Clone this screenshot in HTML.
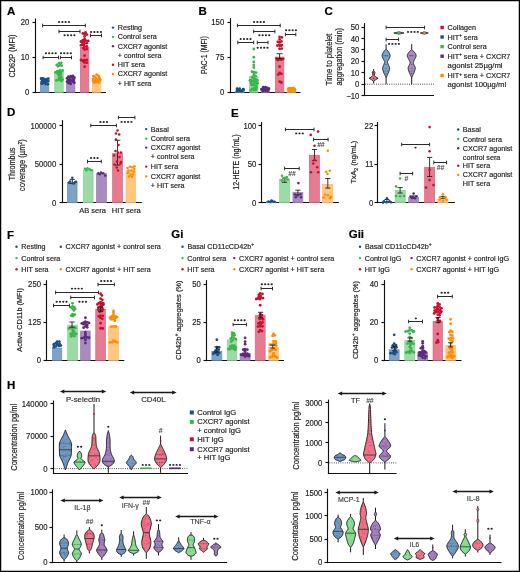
<!DOCTYPE html>
<html><head><meta charset="utf-8"><style>
html,body{margin:0;padding:0;background:#fff;width:520px;height:572px;overflow:hidden}
text{font-family:"Liberation Sans", sans-serif}
svg{-webkit-font-smoothing:antialiased;will-change:transform}
</style></head><body>
<svg width="520" height="572" viewBox="0 0 520 572" style="display:block;font-family:'Liberation Sans', sans-serif">
<rect x="0" y="0" width="520" height="572" fill="#fff"/>
<text x="7.00" y="15.23" font-size="11.5" text-anchor="start" font-weight="bold" fill="#000" stroke="#000" stroke-width="0.18" >A</text>
<line x1="35.50" y1="18.50" x2="35.50" y2="93.08" stroke="#111" stroke-width="1.15" />
<line x1="34.92" y1="92.50" x2="106.00" y2="92.50" stroke="#111" stroke-width="1.15" />
<line x1="32.50" y1="22.50" x2="35.50" y2="22.50" stroke="#111" stroke-width="1.15" />
<text x="29.30" y="25.31" font-size="8.6" text-anchor="end" font-weight="normal" fill="#231f20" stroke="#231f20" stroke-width="0.18" textLength="8.61" lengthAdjust="spacingAndGlyphs" >20</text>
<line x1="32.50" y1="57.50" x2="35.50" y2="57.50" stroke="#111" stroke-width="1.15" />
<text x="29.30" y="60.31" font-size="8.6" text-anchor="end" font-weight="normal" fill="#231f20" stroke="#231f20" stroke-width="0.18" textLength="8.61" lengthAdjust="spacingAndGlyphs" >10</text>
<line x1="32.50" y1="92.50" x2="35.50" y2="92.50" stroke="#111" stroke-width="1.15" />
<text x="29.30" y="95.31" font-size="8.6" text-anchor="end" font-weight="normal" fill="#231f20" stroke="#231f20" stroke-width="0.18" textLength="4.30" lengthAdjust="spacingAndGlyphs" >0</text>
<text transform="translate(15.00,56.00) rotate(-90)" font-size="8.8" text-anchor="middle" fill="#231f20" stroke="#231f20" stroke-width="0.2" textLength="43" lengthAdjust="spacingAndGlyphs">CD62P (MFI)</text>
<rect x="40.35" y="81.10" width="8.50" height="11.20" fill="#7ea1c6" stroke="#688fb9" stroke-width="0.7"/>
<rect x="54.75" y="71.65" width="8.50" height="20.65" fill="#9ddba6" stroke="#87d392" stroke-width="0.7"/>
<rect x="66.55" y="79.70" width="8.30" height="12.60" fill="#a98bbf" stroke="#9876b1" stroke-width="0.7"/>
<rect x="80.35" y="47.50" width="8.50" height="44.80" fill="#e47b91" stroke="#de637b" stroke-width="0.7"/>
<rect x="92.35" y="80.75" width="8.50" height="11.55" fill="#ffc77f" stroke="#ffba63" stroke-width="0.7"/>
<circle cx="44.70" cy="80.28" r="1.4" fill="#1b4f8b"/>
<circle cx="46.50" cy="79.22" r="1.4" fill="#1b4f8b"/>
<circle cx="44.70" cy="82.27" r="1.4" fill="#1b4f8b"/>
<circle cx="43.35" cy="78.74" r="1.4" fill="#1b4f8b"/>
<circle cx="46.50" cy="81.57" r="1.4" fill="#1b4f8b"/>
<circle cx="42.45" cy="80.53" r="1.4" fill="#1b4f8b"/>
<circle cx="41.10" cy="78.65" r="1.4" fill="#1b4f8b"/>
<circle cx="42.14" cy="81.40" r="1.4" fill="#1b4f8b"/>
<circle cx="48.30" cy="78.53" r="1.4" fill="#1b4f8b"/>
<circle cx="48.30" cy="80.95" r="1.4" fill="#1b4f8b"/>
<circle cx="41.95" cy="78.73" r="1.4" fill="#1b4f8b"/>
<circle cx="43.32" cy="78.85" r="1.4" fill="#1b4f8b"/>
<circle cx="46.98" cy="80.89" r="1.4" fill="#1b4f8b"/>
<circle cx="42.90" cy="83.34" r="1.4" fill="#1b4f8b"/>
<circle cx="42.40" cy="79.06" r="1.4" fill="#1b4f8b"/>
<circle cx="45.29" cy="79.66" r="1.4" fill="#1b4f8b"/>
<circle cx="45.70" cy="82.13" r="1.4" fill="#1b4f8b"/>
<circle cx="45.60" cy="84.08" r="1.4" fill="#1b4f8b"/>
<circle cx="43.78" cy="81.82" r="1.4" fill="#1b4f8b"/>
<circle cx="45.04" cy="80.72" r="1.4" fill="#1b4f8b"/>
<circle cx="47.85" cy="84.26" r="1.4" fill="#1b4f8b"/>
<circle cx="41.55" cy="78.58" r="1.4" fill="#1b4f8b"/>
<circle cx="41.53" cy="83.54" r="1.4" fill="#1b4f8b"/>
<circle cx="42.58" cy="80.07" r="1.4" fill="#1b4f8b"/>
<circle cx="59.00" cy="63.15" r="1.4" fill="#39b54a"/>
<circle cx="61.25" cy="62.87" r="1.4" fill="#39b54a"/>
<circle cx="59.90" cy="64.98" r="1.4" fill="#39b54a"/>
<circle cx="58.10" cy="66.25" r="1.4" fill="#39b54a"/>
<circle cx="61.70" cy="65.63" r="1.4" fill="#39b54a"/>
<circle cx="56.75" cy="64.91" r="1.4" fill="#39b54a"/>
<circle cx="59.00" cy="72.12" r="1.4" fill="#39b54a"/>
<circle cx="61.25" cy="71.81" r="1.4" fill="#39b54a"/>
<circle cx="59.90" cy="70.31" r="1.4" fill="#39b54a"/>
<circle cx="57.20" cy="71.40" r="1.4" fill="#39b54a"/>
<circle cx="57.66" cy="71.23" r="1.4" fill="#39b54a"/>
<circle cx="55.40" cy="72.39" r="1.4" fill="#39b54a"/>
<circle cx="60.41" cy="71.91" r="1.4" fill="#39b54a"/>
<circle cx="62.60" cy="70.45" r="1.4" fill="#39b54a"/>
<circle cx="59.68" cy="72.73" r="1.4" fill="#39b54a"/>
<circle cx="57.65" cy="73.51" r="1.4" fill="#39b54a"/>
<circle cx="60.80" cy="74.29" r="1.4" fill="#39b54a"/>
<circle cx="59.00" cy="75.17" r="1.4" fill="#39b54a"/>
<circle cx="59.00" cy="77.68" r="1.4" fill="#39b54a"/>
<circle cx="60.35" cy="79.20" r="1.4" fill="#39b54a"/>
<circle cx="61.25" cy="77.18" r="1.4" fill="#39b54a"/>
<circle cx="58.55" cy="80.01" r="1.4" fill="#39b54a"/>
<circle cx="56.30" cy="80.44" r="1.4" fill="#39b54a"/>
<circle cx="62.60" cy="79.58" r="1.4" fill="#39b54a"/>
<circle cx="61.25" cy="80.94" r="1.4" fill="#39b54a"/>
<circle cx="70.70" cy="76.20" r="1.4" fill="#5b2a7e"/>
<circle cx="72.95" cy="75.97" r="1.4" fill="#5b2a7e"/>
<circle cx="68.45" cy="76.70" r="1.4" fill="#5b2a7e"/>
<circle cx="71.06" cy="76.89" r="1.4" fill="#5b2a7e"/>
<circle cx="70.70" cy="80.32" r="1.4" fill="#5b2a7e"/>
<circle cx="72.50" cy="81.65" r="1.4" fill="#5b2a7e"/>
<circle cx="74.30" cy="77.42" r="1.4" fill="#5b2a7e"/>
<circle cx="69.35" cy="81.91" r="1.4" fill="#5b2a7e"/>
<circle cx="67.10" cy="81.53" r="1.4" fill="#5b2a7e"/>
<circle cx="70.70" cy="83.95" r="1.4" fill="#5b2a7e"/>
<circle cx="74.30" cy="82.75" r="1.4" fill="#5b2a7e"/>
<circle cx="72.50" cy="78.99" r="1.4" fill="#5b2a7e"/>
<circle cx="68.90" cy="79.70" r="1.4" fill="#5b2a7e"/>
<circle cx="73.46" cy="81.68" r="1.4" fill="#5b2a7e"/>
<circle cx="73.00" cy="77.16" r="1.4" fill="#5b2a7e"/>
<circle cx="73.32" cy="80.23" r="1.4" fill="#5b2a7e"/>
<circle cx="67.10" cy="78.18" r="1.4" fill="#5b2a7e"/>
<circle cx="69.10" cy="77.82" r="1.4" fill="#5b2a7e"/>
<circle cx="70.09" cy="77.41" r="1.4" fill="#5b2a7e"/>
<circle cx="69.68" cy="82.38" r="1.4" fill="#5b2a7e"/>
<circle cx="73.47" cy="77.91" r="1.4" fill="#5b2a7e"/>
<circle cx="74.00" cy="78.73" r="1.4" fill="#5b2a7e"/>
<circle cx="68.19" cy="79.74" r="1.4" fill="#5b2a7e"/>
<circle cx="68.37" cy="83.10" r="1.4" fill="#5b2a7e"/>
<circle cx="68.77" cy="77.56" r="1.4" fill="#5b2a7e"/>
<circle cx="68.78" cy="80.14" r="1.4" fill="#5b2a7e"/>
<circle cx="84.60" cy="34.20" r="1.4" fill="#c8102e"/>
<circle cx="86.85" cy="34.56" r="1.4" fill="#c8102e"/>
<circle cx="82.80" cy="33.42" r="1.4" fill="#c8102e"/>
<circle cx="85.50" cy="32.51" r="1.4" fill="#c8102e"/>
<circle cx="85.42" cy="33.97" r="1.4" fill="#c8102e"/>
<circle cx="84.60" cy="38.95" r="1.4" fill="#c8102e"/>
<circle cx="85.95" cy="40.53" r="1.4" fill="#c8102e"/>
<circle cx="84.60" cy="43.62" r="1.4" fill="#c8102e"/>
<circle cx="84.15" cy="41.52" r="1.4" fill="#c8102e"/>
<circle cx="82.80" cy="40.12" r="1.4" fill="#c8102e"/>
<circle cx="88.20" cy="40.94" r="1.4" fill="#c8102e"/>
<circle cx="81.00" cy="41.41" r="1.4" fill="#c8102e"/>
<circle cx="84.60" cy="36.43" r="1.4" fill="#c8102e"/>
<circle cx="86.85" cy="43.20" r="1.4" fill="#c8102e"/>
<circle cx="82.07" cy="42.24" r="1.4" fill="#c8102e"/>
<circle cx="84.60" cy="49.51" r="1.4" fill="#c8102e"/>
<circle cx="86.85" cy="49.03" r="1.4" fill="#c8102e"/>
<circle cx="84.60" cy="46.47" r="1.4" fill="#c8102e"/>
<circle cx="86.85" cy="46.51" r="1.4" fill="#c8102e"/>
<circle cx="82.80" cy="44.65" r="1.4" fill="#c8102e"/>
<circle cx="83.25" cy="48.00" r="1.4" fill="#c8102e"/>
<circle cx="82.82" cy="44.39" r="1.4" fill="#c8102e"/>
<circle cx="83.50" cy="44.42" r="1.4" fill="#c8102e"/>
<circle cx="81.00" cy="45.32" r="1.4" fill="#c8102e"/>
<circle cx="84.60" cy="55.63" r="1.4" fill="#c8102e"/>
<circle cx="84.60" cy="62.49" r="1.4" fill="#c8102e"/>
<circle cx="84.60" cy="60.22" r="1.4" fill="#c8102e"/>
<circle cx="86.85" cy="59.80" r="1.4" fill="#c8102e"/>
<circle cx="82.80" cy="60.99" r="1.4" fill="#c8102e"/>
<circle cx="83.62" cy="60.60" r="1.4" fill="#c8102e"/>
<circle cx="86.85" cy="62.67" r="1.4" fill="#c8102e"/>
<circle cx="81.00" cy="60.00" r="1.4" fill="#c8102e"/>
<circle cx="84.60" cy="66.71" r="1.4" fill="#c8102e"/>
<circle cx="96.60" cy="74.68" r="1.4" fill="#ff8c00"/>
<circle cx="98.40" cy="75.77" r="1.4" fill="#ff8c00"/>
<circle cx="96.60" cy="78.98" r="1.4" fill="#ff8c00"/>
<circle cx="95.25" cy="77.40" r="1.4" fill="#ff8c00"/>
<circle cx="99.30" cy="77.45" r="1.4" fill="#ff8c00"/>
<circle cx="93.45" cy="76.26" r="1.4" fill="#ff8c00"/>
<circle cx="94.20" cy="76.31" r="1.4" fill="#ff8c00"/>
<circle cx="98.40" cy="80.27" r="1.4" fill="#ff8c00"/>
<circle cx="94.80" cy="79.98" r="1.4" fill="#ff8c00"/>
<circle cx="96.60" cy="82.07" r="1.4" fill="#ff8c00"/>
<circle cx="100.20" cy="79.60" r="1.4" fill="#ff8c00"/>
<circle cx="93.00" cy="79.09" r="1.4" fill="#ff8c00"/>
<circle cx="98.85" cy="82.52" r="1.4" fill="#ff8c00"/>
<circle cx="98.56" cy="80.95" r="1.4" fill="#ff8c00"/>
<circle cx="96.83" cy="79.54" r="1.4" fill="#ff8c00"/>
<circle cx="93.00" cy="81.01" r="1.4" fill="#ff8c00"/>
<circle cx="98.61" cy="79.10" r="1.4" fill="#ff8c00"/>
<circle cx="95.37" cy="80.95" r="1.4" fill="#ff8c00"/>
<circle cx="94.35" cy="82.62" r="1.4" fill="#ff8c00"/>
<circle cx="94.61" cy="82.19" r="1.4" fill="#ff8c00"/>
<circle cx="98.84" cy="81.58" r="1.4" fill="#ff8c00"/>
<circle cx="100.09" cy="79.97" r="1.4" fill="#ff8c00"/>
<circle cx="99.14" cy="80.36" r="1.4" fill="#ff8c00"/>
<line x1="42.60" y1="25.50" x2="85.40" y2="25.50" stroke="#2b2b2b" stroke-width="1.0" />
<line x1="42.60" y1="23.70" x2="42.60" y2="27.30" stroke="#2b2b2b" stroke-width="1.0" />
<line x1="85.40" y1="23.70" x2="85.40" y2="27.30" stroke="#2b2b2b" stroke-width="1.0" />
<ellipse cx="59.09" cy="22.00" rx="1.12" ry="0.95" fill="#262626"/>
<ellipse cx="62.37" cy="22.00" rx="1.12" ry="0.95" fill="#262626"/>
<ellipse cx="65.64" cy="22.00" rx="1.12" ry="0.95" fill="#262626"/>
<ellipse cx="68.91" cy="22.00" rx="1.12" ry="0.95" fill="#262626"/>
<line x1="59.00" y1="31.50" x2="80.00" y2="31.50" stroke="#2b2b2b" stroke-width="1.0" />
<line x1="59.00" y1="29.70" x2="59.00" y2="33.30" stroke="#2b2b2b" stroke-width="1.0" />
<line x1="80.00" y1="29.70" x2="80.00" y2="33.30" stroke="#2b2b2b" stroke-width="1.0" />
<ellipse cx="64.59" cy="35.20" rx="1.12" ry="0.95" fill="#262626"/>
<ellipse cx="67.86" cy="35.20" rx="1.12" ry="0.95" fill="#262626"/>
<ellipse cx="71.14" cy="35.20" rx="1.12" ry="0.95" fill="#262626"/>
<ellipse cx="74.41" cy="35.20" rx="1.12" ry="0.95" fill="#262626"/>
<line x1="90.50" y1="35.50" x2="101.50" y2="35.50" stroke="#2b2b2b" stroke-width="1.0" />
<line x1="90.50" y1="33.70" x2="90.50" y2="37.30" stroke="#2b2b2b" stroke-width="1.0" />
<line x1="101.50" y1="33.70" x2="101.50" y2="37.30" stroke="#2b2b2b" stroke-width="1.0" />
<ellipse cx="91.09" cy="32.00" rx="1.12" ry="0.95" fill="#262626"/>
<ellipse cx="94.36" cy="32.00" rx="1.12" ry="0.95" fill="#262626"/>
<ellipse cx="97.64" cy="32.00" rx="1.12" ry="0.95" fill="#262626"/>
<ellipse cx="100.91" cy="32.00" rx="1.12" ry="0.95" fill="#262626"/>
<line x1="43.10" y1="57.50" x2="58.50" y2="57.50" stroke="#2b2b2b" stroke-width="1.0" />
<line x1="43.10" y1="55.70" x2="43.10" y2="59.30" stroke="#2b2b2b" stroke-width="1.0" />
<line x1="58.50" y1="55.70" x2="58.50" y2="59.30" stroke="#2b2b2b" stroke-width="1.0" />
<ellipse cx="45.89" cy="53.20" rx="1.12" ry="0.95" fill="#262626"/>
<ellipse cx="49.16" cy="53.20" rx="1.12" ry="0.95" fill="#262626"/>
<ellipse cx="52.43" cy="53.20" rx="1.12" ry="0.95" fill="#262626"/>
<ellipse cx="55.70" cy="53.20" rx="1.12" ry="0.95" fill="#262626"/>
<line x1="60.40" y1="57.50" x2="71.50" y2="57.50" stroke="#2b2b2b" stroke-width="1.0" />
<line x1="60.40" y1="55.70" x2="60.40" y2="59.30" stroke="#2b2b2b" stroke-width="1.0" />
<line x1="71.50" y1="55.70" x2="71.50" y2="59.30" stroke="#2b2b2b" stroke-width="1.0" />
<ellipse cx="61.00" cy="53.20" rx="1.12" ry="0.95" fill="#262626"/>
<ellipse cx="64.27" cy="53.20" rx="1.12" ry="0.95" fill="#262626"/>
<ellipse cx="67.54" cy="53.20" rx="1.12" ry="0.95" fill="#262626"/>
<ellipse cx="70.81" cy="53.20" rx="1.12" ry="0.95" fill="#262626"/>
<circle cx="113.00" cy="27.60" r="1.2" fill="#1b4f8b"/>
<text x="117.70" y="30.10" font-size="7.2" text-anchor="start" font-weight="normal" fill="#231f20" stroke="#231f20" stroke-width="0.18" >Resting</text>
<circle cx="113.00" cy="36.87" r="1.2" fill="#39b54a"/>
<text x="117.70" y="39.37" font-size="7.2" text-anchor="start" font-weight="normal" fill="#231f20" stroke="#231f20" stroke-width="0.18" >Control sera</text>
<circle cx="113.00" cy="46.14" r="1.2" fill="#5b2a7e"/>
<text x="117.70" y="48.64" font-size="7.2" text-anchor="start" font-weight="normal" fill="#231f20" stroke="#231f20" stroke-width="0.18" >CXCR7 agonist</text>
<text x="117.70" y="57.91" font-size="7.2" text-anchor="start" font-weight="normal" fill="#231f20" stroke="#231f20" stroke-width="0.18" >+ control sera</text>
<circle cx="113.00" cy="64.68" r="1.2" fill="#c8102e"/>
<text x="117.70" y="67.18" font-size="7.2" text-anchor="start" font-weight="normal" fill="#231f20" stroke="#231f20" stroke-width="0.18" >HIT sera</text>
<circle cx="113.00" cy="73.95" r="1.2" fill="#ff8c00"/>
<text x="117.70" y="76.45" font-size="7.2" text-anchor="start" font-weight="normal" fill="#231f20" stroke="#231f20" stroke-width="0.18" >CXCR7 agonist</text>
<text x="117.70" y="85.72" font-size="7.2" text-anchor="start" font-weight="normal" fill="#231f20" stroke="#231f20" stroke-width="0.18" >+ HIT sera</text>
<text x="198.40" y="15.23" font-size="11.5" text-anchor="start" font-weight="bold" fill="#000" stroke="#000" stroke-width="0.18" >B</text>
<line x1="230.50" y1="18.20" x2="230.50" y2="93.08" stroke="#111" stroke-width="1.15" />
<line x1="229.93" y1="92.50" x2="300.50" y2="92.50" stroke="#111" stroke-width="1.15" />
<line x1="227.50" y1="22.50" x2="230.50" y2="22.50" stroke="#111" stroke-width="1.15" />
<text x="224.20" y="25.11" font-size="8.6" text-anchor="end" font-weight="normal" fill="#231f20" stroke="#231f20" stroke-width="0.18" textLength="12.91" lengthAdjust="spacingAndGlyphs" >150</text>
<line x1="227.50" y1="57.50" x2="230.50" y2="57.50" stroke="#111" stroke-width="1.15" />
<text x="224.20" y="60.21" font-size="8.6" text-anchor="end" font-weight="normal" fill="#231f20" stroke="#231f20" stroke-width="0.18" textLength="8.61" lengthAdjust="spacingAndGlyphs" >75</text>
<line x1="227.50" y1="92.50" x2="230.50" y2="92.50" stroke="#111" stroke-width="1.15" />
<text x="224.20" y="95.31" font-size="8.6" text-anchor="end" font-weight="normal" fill="#231f20" stroke="#231f20" stroke-width="0.18" textLength="4.30" lengthAdjust="spacingAndGlyphs" >0</text>
<text transform="translate(206.70,55.10) rotate(-90)" font-size="8.8" text-anchor="middle" fill="#231f20" stroke="#231f20" stroke-width="0.2" textLength="38" lengthAdjust="spacingAndGlyphs">PAC-1 (MFI)</text>
<rect x="235.35" y="90.78" width="8.70" height="1.52" fill="#7ea1c6" stroke="#688fb9" stroke-width="0.7"/>
<rect x="249.65" y="76.27" width="8.30" height="16.03" fill="#9ddba6" stroke="#87d392" stroke-width="0.7"/>
<rect x="261.25" y="90.31" width="8.40" height="1.99" fill="#a98bbf" stroke="#9876b1" stroke-width="0.7"/>
<rect x="275.35" y="57.08" width="8.50" height="35.22" fill="#e47b91" stroke="#de637b" stroke-width="0.7"/>
<rect x="286.95" y="89.84" width="8.50" height="2.46" fill="#ffc77f" stroke="#ffba63" stroke-width="0.7"/>
<circle cx="239.70" cy="90.70" r="1.4" fill="#1b4f8b"/>
<circle cx="241.95" cy="90.73" r="1.4" fill="#1b4f8b"/>
<circle cx="237.45" cy="90.52" r="1.4" fill="#1b4f8b"/>
<circle cx="243.30" cy="89.19" r="1.4" fill="#1b4f8b"/>
<circle cx="243.41" cy="89.95" r="1.4" fill="#1b4f8b"/>
<circle cx="243.16" cy="89.52" r="1.4" fill="#1b4f8b"/>
<circle cx="239.70" cy="88.68" r="1.4" fill="#1b4f8b"/>
<circle cx="237.00" cy="88.67" r="1.4" fill="#1b4f8b"/>
<circle cx="238.67" cy="89.33" r="1.4" fill="#1b4f8b"/>
<circle cx="237.58" cy="89.27" r="1.4" fill="#1b4f8b"/>
<circle cx="237.62" cy="90.40" r="1.4" fill="#1b4f8b"/>
<circle cx="237.39" cy="91.09" r="1.4" fill="#1b4f8b"/>
<circle cx="237.45" cy="89.76" r="1.4" fill="#1b4f8b"/>
<circle cx="240.64" cy="91.04" r="1.4" fill="#1b4f8b"/>
<circle cx="253.80" cy="49.00" r="1.4" fill="#39b54a"/>
<circle cx="253.80" cy="57.20" r="1.4" fill="#39b54a"/>
<circle cx="253.80" cy="62.00" r="1.4" fill="#39b54a"/>
<circle cx="253.80" cy="65.10" r="1.4" fill="#39b54a"/>
<circle cx="253.80" cy="67.50" r="1.4" fill="#39b54a"/>
<circle cx="253.80" cy="72.76" r="1.4" fill="#39b54a"/>
<circle cx="256.05" cy="72.62" r="1.4" fill="#39b54a"/>
<circle cx="252.00" cy="71.75" r="1.4" fill="#39b54a"/>
<circle cx="254.17" cy="72.17" r="1.4" fill="#39b54a"/>
<circle cx="253.80" cy="80.52" r="1.4" fill="#39b54a"/>
<circle cx="253.80" cy="75.23" r="1.4" fill="#39b54a"/>
<circle cx="255.60" cy="79.49" r="1.4" fill="#39b54a"/>
<circle cx="252.00" cy="81.33" r="1.4" fill="#39b54a"/>
<circle cx="257.40" cy="80.39" r="1.4" fill="#39b54a"/>
<circle cx="250.20" cy="80.15" r="1.4" fill="#39b54a"/>
<circle cx="253.80" cy="78.14" r="1.4" fill="#39b54a"/>
<circle cx="255.60" cy="75.92" r="1.4" fill="#39b54a"/>
<circle cx="251.00" cy="80.44" r="1.4" fill="#39b54a"/>
<circle cx="252.00" cy="77.06" r="1.4" fill="#39b54a"/>
<circle cx="250.11" cy="80.53" r="1.4" fill="#39b54a"/>
<circle cx="255.60" cy="81.79" r="1.4" fill="#39b54a"/>
<circle cx="253.80" cy="85.36" r="1.4" fill="#39b54a"/>
<circle cx="256.05" cy="85.41" r="1.4" fill="#39b54a"/>
<circle cx="253.80" cy="90.05" r="1.4" fill="#39b54a"/>
<circle cx="254.25" cy="88.16" r="1.4" fill="#39b54a"/>
<circle cx="253.80" cy="83.45" r="1.4" fill="#39b54a"/>
<circle cx="251.10" cy="83.08" r="1.4" fill="#39b54a"/>
<circle cx="256.95" cy="83.28" r="1.4" fill="#39b54a"/>
<circle cx="256.05" cy="89.69" r="1.4" fill="#39b54a"/>
<circle cx="252.00" cy="88.86" r="1.4" fill="#39b54a"/>
<circle cx="257.38" cy="83.24" r="1.4" fill="#39b54a"/>
<circle cx="254.94" cy="89.03" r="1.4" fill="#39b54a"/>
<circle cx="250.65" cy="90.33" r="1.4" fill="#39b54a"/>
<circle cx="256.50" cy="87.59" r="1.4" fill="#39b54a"/>
<circle cx="251.55" cy="84.98" r="1.4" fill="#39b54a"/>
<circle cx="265.40" cy="87.24" r="1.4" fill="#5b2a7e"/>
<circle cx="267.20" cy="87.89" r="1.4" fill="#5b2a7e"/>
<circle cx="263.15" cy="87.09" r="1.4" fill="#5b2a7e"/>
<circle cx="264.80" cy="87.79" r="1.4" fill="#5b2a7e"/>
<circle cx="265.40" cy="90.64" r="1.4" fill="#5b2a7e"/>
<circle cx="269.00" cy="88.68" r="1.4" fill="#5b2a7e"/>
<circle cx="262.25" cy="88.81" r="1.4" fill="#5b2a7e"/>
<circle cx="268.57" cy="88.94" r="1.4" fill="#5b2a7e"/>
<circle cx="265.41" cy="88.77" r="1.4" fill="#5b2a7e"/>
<circle cx="265.64" cy="89.88" r="1.4" fill="#5b2a7e"/>
<circle cx="265.58" cy="88.83" r="1.4" fill="#5b2a7e"/>
<circle cx="261.74" cy="89.34" r="1.4" fill="#5b2a7e"/>
<circle cx="264.94" cy="88.42" r="1.4" fill="#5b2a7e"/>
<circle cx="267.65" cy="90.91" r="1.4" fill="#5b2a7e"/>
<circle cx="262.99" cy="89.13" r="1.4" fill="#5b2a7e"/>
<circle cx="261.63" cy="89.47" r="1.4" fill="#5b2a7e"/>
<circle cx="267.67" cy="89.87" r="1.4" fill="#5b2a7e"/>
<circle cx="262.91" cy="90.89" r="1.4" fill="#5b2a7e"/>
<circle cx="279.60" cy="36.95" r="1.4" fill="#c8102e"/>
<circle cx="281.85" cy="37.45" r="1.4" fill="#c8102e"/>
<circle cx="279.60" cy="45.62" r="1.4" fill="#c8102e"/>
<circle cx="279.60" cy="42.47" r="1.4" fill="#c8102e"/>
<circle cx="281.85" cy="45.10" r="1.4" fill="#c8102e"/>
<circle cx="277.35" cy="45.61" r="1.4" fill="#c8102e"/>
<circle cx="279.60" cy="48.74" r="1.4" fill="#c8102e"/>
<circle cx="279.60" cy="39.45" r="1.4" fill="#c8102e"/>
<circle cx="281.06" cy="45.68" r="1.4" fill="#c8102e"/>
<circle cx="281.40" cy="41.40" r="1.4" fill="#c8102e"/>
<circle cx="277.80" cy="41.79" r="1.4" fill="#c8102e"/>
<circle cx="281.85" cy="48.58" r="1.4" fill="#c8102e"/>
<circle cx="279.24" cy="44.96" r="1.4" fill="#c8102e"/>
<circle cx="279.60" cy="59.00" r="1.4" fill="#c8102e"/>
<circle cx="281.40" cy="59.63" r="1.4" fill="#c8102e"/>
<circle cx="277.80" cy="60.12" r="1.4" fill="#c8102e"/>
<circle cx="276.45" cy="58.62" r="1.4" fill="#c8102e"/>
<circle cx="279.85" cy="59.16" r="1.4" fill="#c8102e"/>
<circle cx="283.20" cy="58.82" r="1.4" fill="#c8102e"/>
<circle cx="279.43" cy="58.84" r="1.4" fill="#c8102e"/>
<circle cx="279.60" cy="66.70" r="1.4" fill="#c8102e"/>
<circle cx="279.60" cy="73.00" r="1.4" fill="#c8102e"/>
<circle cx="281.40" cy="73.80" r="1.4" fill="#c8102e"/>
<circle cx="278.25" cy="74.60" r="1.4" fill="#c8102e"/>
<circle cx="279.60" cy="81.70" r="1.4" fill="#c8102e"/>
<circle cx="281.40" cy="82.50" r="1.4" fill="#c8102e"/>
<circle cx="291.20" cy="88.42" r="1.4" fill="#ff8c00"/>
<circle cx="293.45" cy="88.11" r="1.4" fill="#ff8c00"/>
<circle cx="288.95" cy="88.34" r="1.4" fill="#ff8c00"/>
<circle cx="292.84" cy="88.42" r="1.4" fill="#ff8c00"/>
<circle cx="292.42" cy="89.20" r="1.4" fill="#ff8c00"/>
<circle cx="294.35" cy="90.01" r="1.4" fill="#ff8c00"/>
<circle cx="291.20" cy="91.05" r="1.4" fill="#ff8c00"/>
<circle cx="288.95" cy="90.77" r="1.4" fill="#ff8c00"/>
<circle cx="288.49" cy="88.87" r="1.4" fill="#ff8c00"/>
<circle cx="294.11" cy="88.83" r="1.4" fill="#ff8c00"/>
<circle cx="294.75" cy="89.69" r="1.4" fill="#ff8c00"/>
<circle cx="289.07" cy="88.70" r="1.4" fill="#ff8c00"/>
<circle cx="294.64" cy="89.15" r="1.4" fill="#ff8c00"/>
<circle cx="290.43" cy="88.70" r="1.4" fill="#ff8c00"/>
<circle cx="291.10" cy="90.31" r="1.4" fill="#ff8c00"/>
<circle cx="294.92" cy="90.62" r="1.4" fill="#ff8c00"/>
<circle cx="293.73" cy="90.92" r="1.4" fill="#ff8c00"/>
<circle cx="288.63" cy="88.92" r="1.4" fill="#ff8c00"/>
<line x1="279.60" y1="53.70" x2="279.60" y2="58.60" stroke="#231f20" stroke-width="0.9" />
<line x1="276.60" y1="53.70" x2="282.60" y2="53.70" stroke="#231f20" stroke-width="0.9" />
<line x1="276.60" y1="58.60" x2="282.60" y2="58.60" stroke="#231f20" stroke-width="0.9" />
<line x1="237.40" y1="25.50" x2="280.20" y2="25.50" stroke="#2b2b2b" stroke-width="1.0" />
<line x1="237.40" y1="23.70" x2="237.40" y2="27.30" stroke="#2b2b2b" stroke-width="1.0" />
<line x1="280.20" y1="23.70" x2="280.20" y2="27.30" stroke="#2b2b2b" stroke-width="1.0" />
<ellipse cx="254.09" cy="22.00" rx="1.12" ry="0.95" fill="#262626"/>
<ellipse cx="257.37" cy="22.00" rx="1.12" ry="0.95" fill="#262626"/>
<ellipse cx="260.63" cy="22.00" rx="1.12" ry="0.95" fill="#262626"/>
<ellipse cx="263.90" cy="22.00" rx="1.12" ry="0.95" fill="#262626"/>
<line x1="253.70" y1="31.50" x2="274.90" y2="31.50" stroke="#2b2b2b" stroke-width="1.0" />
<line x1="253.70" y1="29.70" x2="253.70" y2="33.30" stroke="#2b2b2b" stroke-width="1.0" />
<line x1="274.90" y1="29.70" x2="274.90" y2="33.30" stroke="#2b2b2b" stroke-width="1.0" />
<ellipse cx="259.40" cy="35.20" rx="1.12" ry="0.95" fill="#262626"/>
<ellipse cx="262.67" cy="35.20" rx="1.12" ry="0.95" fill="#262626"/>
<ellipse cx="265.94" cy="35.20" rx="1.12" ry="0.95" fill="#262626"/>
<ellipse cx="269.21" cy="35.20" rx="1.12" ry="0.95" fill="#262626"/>
<line x1="285.40" y1="34.50" x2="295.80" y2="34.50" stroke="#2b2b2b" stroke-width="1.0" />
<line x1="285.40" y1="32.70" x2="285.40" y2="36.30" stroke="#2b2b2b" stroke-width="1.0" />
<line x1="295.80" y1="32.70" x2="295.80" y2="36.30" stroke="#2b2b2b" stroke-width="1.0" />
<ellipse cx="286.10" cy="30.30" rx="1.12" ry="0.95" fill="#262626"/>
<ellipse cx="289.37" cy="30.30" rx="1.12" ry="0.95" fill="#262626"/>
<ellipse cx="292.64" cy="30.30" rx="1.12" ry="0.95" fill="#262626"/>
<ellipse cx="295.91" cy="30.30" rx="1.12" ry="0.95" fill="#262626"/>
<line x1="237.80" y1="42.50" x2="253.70" y2="42.50" stroke="#2b2b2b" stroke-width="1.0" />
<line x1="237.80" y1="40.70" x2="237.80" y2="44.30" stroke="#2b2b2b" stroke-width="1.0" />
<line x1="253.70" y1="40.70" x2="253.70" y2="44.30" stroke="#2b2b2b" stroke-width="1.0" />
<ellipse cx="240.69" cy="39.00" rx="1.12" ry="0.95" fill="#262626"/>
<ellipse cx="243.97" cy="39.00" rx="1.12" ry="0.95" fill="#262626"/>
<ellipse cx="247.23" cy="39.00" rx="1.12" ry="0.95" fill="#262626"/>
<ellipse cx="250.50" cy="39.00" rx="1.12" ry="0.95" fill="#262626"/>
<line x1="257.30" y1="42.50" x2="268.00" y2="42.50" stroke="#2b2b2b" stroke-width="1.0" />
<line x1="257.30" y1="40.70" x2="257.30" y2="44.30" stroke="#2b2b2b" stroke-width="1.0" />
<line x1="268.00" y1="40.70" x2="268.00" y2="44.30" stroke="#2b2b2b" stroke-width="1.0" />
<ellipse cx="257.70" cy="47.80" rx="1.12" ry="0.95" fill="#262626"/>
<ellipse cx="260.97" cy="47.80" rx="1.12" ry="0.95" fill="#262626"/>
<ellipse cx="264.24" cy="47.80" rx="1.12" ry="0.95" fill="#262626"/>
<ellipse cx="267.51" cy="47.80" rx="1.12" ry="0.95" fill="#262626"/>
<text x="324.50" y="15.23" font-size="11.5" text-anchor="start" font-weight="bold" fill="#000" stroke="#000" stroke-width="0.18" >C</text>
<line x1="364.50" y1="23.10" x2="364.50" y2="96.08" stroke="#111" stroke-width="1.15" />
<line x1="363.93" y1="95.50" x2="434.00" y2="95.50" stroke="#111" stroke-width="1.15" />
<line x1="361.50" y1="27.50" x2="364.50" y2="27.50" stroke="#111" stroke-width="1.15" />
<text x="359.30" y="30.11" font-size="8.6" text-anchor="end" font-weight="normal" fill="#231f20" stroke="#231f20" stroke-width="0.18" textLength="8.61" lengthAdjust="spacingAndGlyphs" >50</text>
<line x1="361.50" y1="38.50" x2="364.50" y2="38.50" stroke="#111" stroke-width="1.15" />
<text x="359.30" y="41.53" font-size="8.6" text-anchor="end" font-weight="normal" fill="#231f20" stroke="#231f20" stroke-width="0.18" textLength="8.61" lengthAdjust="spacingAndGlyphs" >40</text>
<line x1="361.50" y1="49.50" x2="364.50" y2="49.50" stroke="#111" stroke-width="1.15" />
<text x="359.30" y="52.95" font-size="8.6" text-anchor="end" font-weight="normal" fill="#231f20" stroke="#231f20" stroke-width="0.18" textLength="8.61" lengthAdjust="spacingAndGlyphs" >30</text>
<line x1="361.50" y1="61.50" x2="364.50" y2="61.50" stroke="#111" stroke-width="1.15" />
<text x="359.30" y="64.37" font-size="8.6" text-anchor="end" font-weight="normal" fill="#231f20" stroke="#231f20" stroke-width="0.18" textLength="8.61" lengthAdjust="spacingAndGlyphs" >20</text>
<line x1="361.50" y1="72.50" x2="364.50" y2="72.50" stroke="#111" stroke-width="1.15" />
<text x="359.30" y="75.79" font-size="8.6" text-anchor="end" font-weight="normal" fill="#231f20" stroke="#231f20" stroke-width="0.18" textLength="8.61" lengthAdjust="spacingAndGlyphs" >10</text>
<line x1="361.50" y1="84.50" x2="364.50" y2="84.50" stroke="#111" stroke-width="1.15" />
<text x="359.30" y="87.21" font-size="8.6" text-anchor="end" font-weight="normal" fill="#231f20" stroke="#231f20" stroke-width="0.18" textLength="4.30" lengthAdjust="spacingAndGlyphs" >0</text>
<line x1="361.50" y1="95.50" x2="364.50" y2="95.50" stroke="#111" stroke-width="1.15" />
<text x="359.30" y="98.63" font-size="8.6" text-anchor="end" font-weight="normal" fill="#231f20" stroke="#231f20" stroke-width="0.18" textLength="13.13" lengthAdjust="spacingAndGlyphs" >−10</text>
<text transform="translate(332.40,85.50) rotate(-90)" font-size="9.0" text-anchor="start" fill="#231f20" stroke="#231f20" stroke-width="0.2" textLength="52" lengthAdjust="spacingAndGlyphs">Time to platelet</text>
<text transform="translate(342.40,85.50) rotate(-90)" font-size="9.0" text-anchor="start" fill="#231f20" stroke="#231f20" stroke-width="0.2" textLength="57.5" lengthAdjust="spacingAndGlyphs">aggregation (min)</text>
<line x1="365.00" y1="84.20" x2="434.00" y2="84.20" stroke="#222" stroke-width="0.9" stroke-dasharray="0.9 1.3"/>
<line x1="373.60" y1="69.10" x2="373.60" y2="70.80" stroke="#1a1a1a" stroke-width="1.0" />
<line x1="373.60" y1="81.60" x2="373.60" y2="83.40" stroke="#1a1a1a" stroke-width="1.0" />
<polygon points="373.60,70.80 374.70,72.00 375.00,72.80 374.60,73.80 374.20,75.30 375.60,76.80 378.10,78.30 375.80,79.60 374.10,81.00 373.60,81.60 373.60,81.60 373.10,81.00 371.40,79.60 369.10,78.30 371.60,76.80 373.00,75.30 372.60,73.80 372.20,72.80 372.50,72.00 373.60,70.80" fill="#e47b91" stroke="#1a1a1a" stroke-width="0.9" stroke-linejoin="round"/>
<circle cx="373.60" cy="72.80" r="0.9" fill="#c8102e"/>
<circle cx="373.60" cy="78.40" r="0.9" fill="#c8102e"/>
<line x1="386.10" y1="44.20" x2="386.10" y2="49.00" stroke="#1a1a1a" stroke-width="1.0" />
<line x1="386.10" y1="78.00" x2="386.10" y2="84.20" stroke="#1a1a1a" stroke-width="1.0" />
<polygon points="386.10,49.00 386.40,49.32 386.82,49.75 387.31,50.27 387.83,50.84 388.31,51.42 388.70,52.00 389.03,52.58 389.35,53.20 389.64,53.83 389.87,54.47 390.03,55.10 390.10,55.70 390.05,56.28 389.90,56.85 389.68,57.41 389.41,57.95 389.14,58.48 388.90,59.00 388.65,59.50 388.37,59.97 388.08,60.44 387.81,60.89 387.61,61.34 387.50,61.80 387.50,62.24 387.59,62.67 387.73,63.09 387.91,63.52 388.11,63.99 388.30,64.50 388.51,65.07 388.78,65.69 389.06,66.34 389.31,67.00 389.50,67.66 389.60,68.30 389.59,68.92 389.49,69.55 389.33,70.17 389.13,70.79 388.92,71.40 388.70,72.00 388.47,72.61 388.20,73.22 387.91,73.83 387.61,74.41 387.34,74.98 387.10,75.50 386.89,76.00 386.69,76.50 386.50,76.97 386.34,77.39 386.20,77.74 386.10,78.00 386.10,78.00 386.00,77.74 385.86,77.39 385.70,76.97 385.51,76.50 385.31,76.00 385.10,75.50 384.86,74.98 384.59,74.41 384.29,73.83 384.00,73.22 383.73,72.61 383.50,72.00 383.28,71.40 383.07,70.79 382.87,70.17 382.71,69.55 382.61,68.92 382.60,68.30 382.70,67.66 382.89,67.00 383.14,66.34 383.42,65.69 383.69,65.07 383.90,64.50 384.09,63.99 384.29,63.52 384.47,63.09 384.61,62.67 384.70,62.24 384.70,61.80 384.59,61.34 384.39,60.89 384.12,60.44 383.83,59.97 383.55,59.50 383.30,59.00 383.06,58.48 382.79,57.95 382.53,57.41 382.30,56.85 382.15,56.28 382.10,55.70 382.17,55.10 382.33,54.47 382.56,53.83 382.85,53.20 383.17,52.58 383.50,52.00 383.89,51.42 384.37,50.84 384.89,50.27 385.38,49.75 385.80,49.32 386.10,49.00" fill="#7ea1c6" stroke="#1a1a1a" stroke-width="0.9" stroke-linejoin="round"/>
<line x1="411.70" y1="44.20" x2="411.70" y2="49.50" stroke="#1a1a1a" stroke-width="1.0" />
<line x1="411.70" y1="78.00" x2="411.70" y2="84.20" stroke="#1a1a1a" stroke-width="1.0" />
<polygon points="411.70,49.50 412.02,49.80 412.47,50.20 413.00,50.69 413.55,51.22 414.07,51.77 414.50,52.30 414.87,52.83 415.23,53.38 415.56,53.95 415.83,54.53 416.02,55.11 416.10,55.70 416.04,56.29 415.86,56.90 415.59,57.52 415.28,58.13 414.97,58.73 414.70,59.30 414.44,59.85 414.15,60.39 413.86,60.91 413.60,61.42 413.41,61.92 413.30,62.40 413.30,62.86 413.39,63.29 413.54,63.71 413.72,64.12 413.92,64.55 414.10,65.00 414.30,65.47 414.55,65.93 414.81,66.41 415.05,66.91 415.22,67.44 415.30,68.00 415.27,68.61 415.15,69.28 414.97,69.97 414.76,70.67 414.53,71.35 414.30,72.00 414.06,72.62 413.79,73.24 413.50,73.84 413.21,74.43 412.94,74.98 412.70,75.50 412.49,76.00 412.29,76.50 412.10,76.97 411.94,77.39 411.80,77.74 411.70,78.00 411.70,78.00 411.60,77.74 411.46,77.39 411.30,76.97 411.11,76.50 410.91,76.00 410.70,75.50 410.46,74.98 410.19,74.43 409.90,73.84 409.61,73.24 409.34,72.62 409.10,72.00 408.87,71.35 408.64,70.67 408.43,69.97 408.25,69.28 408.13,68.61 408.10,68.00 408.18,67.44 408.35,66.91 408.59,66.41 408.85,65.93 409.10,65.47 409.30,65.00 409.48,64.55 409.68,64.12 409.86,63.71 410.01,63.29 410.10,62.86 410.10,62.40 409.99,61.92 409.80,61.42 409.54,60.91 409.25,60.39 408.96,59.85 408.70,59.30 408.43,58.73 408.12,58.13 407.81,57.52 407.54,56.90 407.36,56.29 407.30,55.70 407.38,55.11 407.57,54.53 407.84,53.95 408.17,53.38 408.53,52.83 408.90,52.30 409.33,51.77 409.85,51.22 410.40,50.69 410.93,50.20 411.38,49.80 411.70,49.50" fill="#a98bbf" stroke="#1a1a1a" stroke-width="0.9" stroke-linejoin="round"/>
<line x1="383.30" y1="55.70" x2="388.90" y2="55.70" stroke="#333" stroke-width="0.5" stroke-dasharray="1 0.8"/>
<line x1="383.50" y1="71.10" x2="388.70" y2="71.10" stroke="#333" stroke-width="0.5" stroke-dasharray="1 0.8"/>
<circle cx="385.10" cy="55.70" r="0.55" fill="#1b4f8b"/>
<circle cx="387.10" cy="55.70" r="0.55" fill="#1b4f8b"/>
<circle cx="386.10" cy="64.50" r="0.55" fill="#1b4f8b"/>
<circle cx="386.10" cy="68.30" r="0.55" fill="#1b4f8b"/>
<circle cx="386.10" cy="73.50" r="0.55" fill="#1b4f8b"/>
<line x1="408.90" y1="55.70" x2="414.50" y2="55.70" stroke="#333" stroke-width="0.5" stroke-dasharray="1 0.8"/>
<line x1="409.10" y1="71.10" x2="414.30" y2="71.10" stroke="#333" stroke-width="0.5" stroke-dasharray="1 0.8"/>
<circle cx="410.70" cy="55.70" r="0.55" fill="#5b2a7e"/>
<circle cx="412.70" cy="55.70" r="0.55" fill="#5b2a7e"/>
<circle cx="411.70" cy="64.50" r="0.55" fill="#5b2a7e"/>
<circle cx="411.70" cy="68.30" r="0.55" fill="#5b2a7e"/>
<circle cx="411.70" cy="73.50" r="0.55" fill="#5b2a7e"/>
<polygon points="398.90,31.80 404.00,33.00 398.90,34.20 398.90,34.20 393.80,33.00 398.90,31.80" fill="#9ddba6" stroke="#1a1a1a" stroke-width="0.8" stroke-linejoin="round"/>
<polygon points="424.30,31.80 428.30,33.00 424.30,34.20 424.30,34.20 420.30,33.00 424.30,31.80" fill="#ffc77f" stroke="#1a1a1a" stroke-width="0.8" stroke-linejoin="round"/>
<circle cx="398.90" cy="33.00" r="0.8" fill="#39b54a"/>
<circle cx="424.30" cy="33.00" r="0.8" fill="#ff8c00"/>
<line x1="386.10" y1="27.50" x2="424.60" y2="27.50" stroke="#2b2b2b" stroke-width="1.0" />
<line x1="386.10" y1="25.70" x2="386.10" y2="29.30" stroke="#2b2b2b" stroke-width="1.0" />
<line x1="424.60" y1="25.70" x2="424.60" y2="29.30" stroke="#2b2b2b" stroke-width="1.0" />
<ellipse cx="408.00" cy="31.90" rx="1.12" ry="0.95" fill="#262626"/>
<ellipse cx="411.26" cy="31.90" rx="1.12" ry="0.95" fill="#262626"/>
<ellipse cx="414.54" cy="31.90" rx="1.12" ry="0.95" fill="#262626"/>
<ellipse cx="417.81" cy="31.90" rx="1.12" ry="0.95" fill="#262626"/>
<line x1="386.10" y1="39.50" x2="398.60" y2="39.50" stroke="#2b2b2b" stroke-width="1.0" />
<line x1="386.10" y1="37.70" x2="386.10" y2="41.30" stroke="#2b2b2b" stroke-width="1.0" />
<line x1="398.60" y1="37.70" x2="398.60" y2="41.30" stroke="#2b2b2b" stroke-width="1.0" />
<ellipse cx="389.10" cy="43.90" rx="1.12" ry="0.95" fill="#262626"/>
<ellipse cx="392.37" cy="43.90" rx="1.12" ry="0.95" fill="#262626"/>
<ellipse cx="395.64" cy="43.90" rx="1.12" ry="0.95" fill="#262626"/>
<ellipse cx="398.91" cy="43.90" rx="1.12" ry="0.95" fill="#262626"/>
<rect x="440.40" y="25.80" width="3.4" height="3.4" fill="#c8102e"/>
<text x="447.60" y="30.10" font-size="7.2" text-anchor="start" font-weight="normal" fill="#231f20" stroke="#231f20" stroke-width="0.18" >Collagen</text>
<rect x="440.40" y="35.30" width="3.4" height="3.4" fill="#1b4f8b"/>
<text x="447.60" y="39.60" font-size="7.2" text-anchor="start" font-weight="normal" fill="#231f20" stroke="#231f20" stroke-width="0.18" >HIT<tspan font-size="4.5" dy="-2.6">+</tspan><tspan dy="2.6"> sera</tspan></text>
<rect x="440.40" y="44.90" width="3.4" height="3.4" fill="#39b54a"/>
<text x="447.60" y="49.20" font-size="7.2" text-anchor="start" font-weight="normal" fill="#231f20" stroke="#231f20" stroke-width="0.18" >Control sera</text>
<rect x="440.40" y="54.50" width="3.4" height="3.4" fill="#5b2a7e"/>
<text x="447.60" y="58.80" font-size="7.2" text-anchor="start" font-weight="normal" fill="#231f20" stroke="#231f20" stroke-width="0.18" >HIT<tspan font-size="4.5" dy="-2.6">+</tspan><tspan dy="2.6"> sera + CXCR7</tspan></text>
<text x="447.60" y="68.10" font-size="7.2" text-anchor="start" font-weight="normal" fill="#231f20" stroke="#231f20" stroke-width="0.18" textLength="55.0" lengthAdjust="spacingAndGlyphs" >agonist 25µg/ml</text>
<rect x="440.40" y="73.80" width="3.4" height="3.4" fill="#ff8c00"/>
<text x="447.60" y="78.10" font-size="7.2" text-anchor="start" font-weight="normal" fill="#231f20" stroke="#231f20" stroke-width="0.18" >HIT<tspan font-size="4.5" dy="-2.6">+</tspan><tspan dy="2.6"> sera + CXCR7</tspan></text>
<text x="447.60" y="87.30" font-size="7.2" text-anchor="start" font-weight="normal" fill="#231f20" stroke="#231f20" stroke-width="0.18" textLength="58.5" lengthAdjust="spacingAndGlyphs" >agonist 100µg/ml</text>
<text x="7.00" y="116.23" font-size="11.5" text-anchor="start" font-weight="bold" fill="#000" stroke="#000" stroke-width="0.18" >D</text>
<line x1="62.50" y1="120.10" x2="62.50" y2="203.07" stroke="#111" stroke-width="1.15" />
<line x1="61.92" y1="202.50" x2="141.80" y2="202.50" stroke="#111" stroke-width="1.15" />
<line x1="59.50" y1="125.50" x2="62.50" y2="125.50" stroke="#111" stroke-width="1.15" />
<text x="56.20" y="128.61" font-size="8.6" text-anchor="end" font-weight="normal" fill="#231f20" stroke="#231f20" stroke-width="0.18" textLength="25.82" lengthAdjust="spacingAndGlyphs" >100000</text>
<line x1="59.50" y1="164.50" x2="62.50" y2="164.50" stroke="#111" stroke-width="1.15" />
<text x="56.20" y="167.16" font-size="8.6" text-anchor="end" font-weight="normal" fill="#231f20" stroke="#231f20" stroke-width="0.18" textLength="21.52" lengthAdjust="spacingAndGlyphs" >50000</text>
<line x1="59.50" y1="202.50" x2="62.50" y2="202.50" stroke="#111" stroke-width="1.15" />
<text x="56.20" y="205.71" font-size="8.6" text-anchor="end" font-weight="normal" fill="#231f20" stroke="#231f20" stroke-width="0.18" textLength="4.30" lengthAdjust="spacingAndGlyphs" >0</text>
<text transform="translate(15.00,164.10) rotate(-90)" font-size="8.7" text-anchor="middle" fill="#231f20" stroke="#231f20" stroke-width="0.2" textLength="33" lengthAdjust="spacingAndGlyphs">Thrombus</text>
<text transform="translate(24.9,165.2) rotate(-90)" font-size="8.5" text-anchor="middle" fill="#231f20" stroke="#231f20" stroke-width="0.2" textLength="51.9" lengthAdjust="spacingAndGlyphs">coverage (µm<tspan font-size="5.5" dy="-3.2">2</tspan><tspan dy="3.2">)</tspan></text>
<rect x="67.35" y="182.35" width="9.70" height="20.35" fill="#7ea1c6" stroke="#688fb9" stroke-width="0.7"/>
<rect x="83.35" y="170.05" width="9.70" height="32.65" fill="#9ddba6" stroke="#87d392" stroke-width="0.7"/>
<rect x="96.55" y="173.65" width="9.90" height="29.05" fill="#a98bbf" stroke="#9876b1" stroke-width="0.7"/>
<rect x="112.65" y="153.45" width="9.80" height="49.25" fill="#e47b91" stroke="#de637b" stroke-width="0.7"/>
<rect x="126.05" y="170.95" width="9.40" height="31.75" fill="#ffc77f" stroke="#ffba63" stroke-width="0.7"/>
<line x1="72.30" y1="179.40" x2="72.30" y2="183.60" stroke="#231f20" stroke-width="0.9" />
<line x1="69.80" y1="179.40" x2="74.80" y2="179.40" stroke="#231f20" stroke-width="0.9" />
<line x1="69.80" y1="183.60" x2="74.80" y2="183.60" stroke="#231f20" stroke-width="0.9" />
<line x1="117.50" y1="140.30" x2="117.50" y2="165.10" stroke="#231f20" stroke-width="0.9" />
<line x1="114.70" y1="140.30" x2="120.30" y2="140.30" stroke="#231f20" stroke-width="0.9" />
<line x1="114.70" y1="165.10" x2="120.30" y2="165.10" stroke="#231f20" stroke-width="0.9" />
<circle cx="70.00" cy="181.50" r="1.3" fill="#1b4f8b"/>
<circle cx="72.30" cy="177.80" r="1.3" fill="#1b4f8b"/>
<circle cx="75.00" cy="182.20" r="1.3" fill="#1b4f8b"/>
<circle cx="69.00" cy="182.80" r="1.3" fill="#1b4f8b"/>
<circle cx="73.50" cy="183.50" r="1.3" fill="#1b4f8b"/>
<circle cx="76.00" cy="181.80" r="1.3" fill="#1b4f8b"/>
<circle cx="85.00" cy="168.80" r="1.3" fill="#39b54a"/>
<circle cx="87.50" cy="168.30" r="1.3" fill="#39b54a"/>
<circle cx="89.70" cy="169.40" r="1.3" fill="#39b54a"/>
<circle cx="91.70" cy="170.30" r="1.3" fill="#39b54a"/>
<circle cx="86.50" cy="170.30" r="1.3" fill="#39b54a"/>
<circle cx="98.30" cy="173.40" r="1.3" fill="#5b2a7e"/>
<circle cx="101.00" cy="172.60" r="1.3" fill="#5b2a7e"/>
<circle cx="103.20" cy="173.20" r="1.3" fill="#5b2a7e"/>
<circle cx="105.20" cy="175.60" r="1.3" fill="#5b2a7e"/>
<circle cx="99.80" cy="174.20" r="1.3" fill="#5b2a7e"/>
<circle cx="117.50" cy="130.50" r="1.3" fill="#c8102e"/>
<circle cx="116.00" cy="133.50" r="1.3" fill="#c8102e"/>
<circle cx="119.20" cy="134.50" r="1.3" fill="#c8102e"/>
<circle cx="116.00" cy="139.50" r="1.3" fill="#c8102e"/>
<circle cx="118.50" cy="145.00" r="1.3" fill="#c8102e"/>
<circle cx="115.50" cy="151.00" r="1.3" fill="#c8102e"/>
<circle cx="118.00" cy="152.50" r="1.3" fill="#c8102e"/>
<circle cx="121.00" cy="152.50" r="1.3" fill="#c8102e"/>
<circle cx="114.00" cy="155.50" r="1.3" fill="#c8102e"/>
<circle cx="119.50" cy="157.00" r="1.3" fill="#c8102e"/>
<circle cx="117.00" cy="161.50" r="1.3" fill="#c8102e"/>
<circle cx="120.50" cy="163.50" r="1.3" fill="#c8102e"/>
<circle cx="114.50" cy="164.50" r="1.3" fill="#c8102e"/>
<circle cx="116.80" cy="167.50" r="1.3" fill="#c8102e"/>
<circle cx="118.00" cy="170.50" r="1.3" fill="#c8102e"/>
<circle cx="121.00" cy="162.00" r="1.3" fill="#c8102e"/>
<circle cx="127.50" cy="168.00" r="1.3" fill="#ff8c00"/>
<circle cx="130.00" cy="166.80" r="1.3" fill="#ff8c00"/>
<circle cx="132.50" cy="167.30" r="1.3" fill="#ff8c00"/>
<circle cx="134.50" cy="166.30" r="1.3" fill="#ff8c00"/>
<circle cx="128.50" cy="170.50" r="1.3" fill="#ff8c00"/>
<circle cx="131.50" cy="170.20" r="1.3" fill="#ff8c00"/>
<circle cx="133.80" cy="171.50" r="1.3" fill="#ff8c00"/>
<circle cx="128.00" cy="173.00" r="1.3" fill="#ff8c00"/>
<circle cx="130.50" cy="174.80" r="1.3" fill="#ff8c00"/>
<circle cx="133.00" cy="174.20" r="1.3" fill="#ff8c00"/>
<circle cx="129.00" cy="176.50" r="1.3" fill="#ff8c00"/>
<circle cx="132.00" cy="176.80" r="1.3" fill="#ff8c00"/>
<circle cx="134.30" cy="169.00" r="1.3" fill="#ff8c00"/>
<line x1="87.50" y1="161.50" x2="101.30" y2="161.50" stroke="#2b2b2b" stroke-width="1.0" />
<line x1="87.50" y1="159.70" x2="87.50" y2="163.30" stroke="#2b2b2b" stroke-width="1.0" />
<line x1="101.30" y1="159.70" x2="101.30" y2="163.30" stroke="#2b2b2b" stroke-width="1.0" />
<ellipse cx="91.03" cy="158.00" rx="1.12" ry="0.95" fill="#262626"/>
<ellipse cx="94.30" cy="158.00" rx="1.12" ry="0.95" fill="#262626"/>
<ellipse cx="97.57" cy="158.00" rx="1.12" ry="0.95" fill="#262626"/>
<line x1="90.80" y1="125.50" x2="116.40" y2="125.50" stroke="#2b2b2b" stroke-width="1.0" />
<line x1="90.80" y1="123.70" x2="90.80" y2="127.30" stroke="#2b2b2b" stroke-width="1.0" />
<line x1="116.40" y1="123.70" x2="116.40" y2="127.30" stroke="#2b2b2b" stroke-width="1.0" />
<ellipse cx="100.43" cy="122.00" rx="1.12" ry="0.95" fill="#262626"/>
<ellipse cx="103.70" cy="122.00" rx="1.12" ry="0.95" fill="#262626"/>
<ellipse cx="106.97" cy="122.00" rx="1.12" ry="0.95" fill="#262626"/>
<line x1="118.40" y1="117.50" x2="134.90" y2="117.50" stroke="#2b2b2b" stroke-width="1.0" />
<line x1="118.40" y1="115.70" x2="118.40" y2="119.30" stroke="#2b2b2b" stroke-width="1.0" />
<line x1="134.90" y1="115.70" x2="134.90" y2="119.30" stroke="#2b2b2b" stroke-width="1.0" />
<ellipse cx="121.59" cy="121.90" rx="1.12" ry="0.95" fill="#262626"/>
<ellipse cx="124.86" cy="121.90" rx="1.12" ry="0.95" fill="#262626"/>
<ellipse cx="128.13" cy="121.90" rx="1.12" ry="0.95" fill="#262626"/>
<ellipse cx="131.41" cy="121.90" rx="1.12" ry="0.95" fill="#262626"/>
<text x="92.60" y="212.80" font-size="7.4" text-anchor="middle" font-weight="normal" fill="#231f20" stroke="#231f20" stroke-width="0.18" textLength="26.6" lengthAdjust="spacingAndGlyphs" >AB sera</text>
<text x="126.30" y="212.80" font-size="7.4" text-anchor="middle" font-weight="normal" fill="#231f20" stroke="#231f20" stroke-width="0.18" textLength="29" lengthAdjust="spacingAndGlyphs" >HIT sera</text>
<circle cx="146.20" cy="129.10" r="1.2" fill="#1b4f8b"/>
<text x="150.80" y="131.60" font-size="7.2" text-anchor="start" font-weight="normal" fill="#231f20" stroke="#231f20" stroke-width="0.18" >Basal</text>
<circle cx="146.20" cy="138.60" r="1.2" fill="#39b54a"/>
<text x="150.80" y="141.10" font-size="7.2" text-anchor="start" font-weight="normal" fill="#231f20" stroke="#231f20" stroke-width="0.18" >Control sera</text>
<circle cx="146.20" cy="147.60" r="1.2" fill="#5b2a7e"/>
<text x="150.80" y="150.10" font-size="7.2" text-anchor="start" font-weight="normal" fill="#231f20" stroke="#231f20" stroke-width="0.18" >CXCR7 agonist</text>
<text x="150.80" y="159.20" font-size="7.2" text-anchor="start" font-weight="normal" fill="#231f20" stroke="#231f20" stroke-width="0.18" >+ control sera</text>
<circle cx="146.20" cy="166.60" r="1.2" fill="#c8102e"/>
<text x="150.80" y="169.10" font-size="7.2" text-anchor="start" font-weight="normal" fill="#231f20" stroke="#231f20" stroke-width="0.18" >HIT sera</text>
<circle cx="146.20" cy="176.40" r="1.2" fill="#ff8c00"/>
<text x="150.80" y="178.90" font-size="7.2" text-anchor="start" font-weight="normal" fill="#231f20" stroke="#231f20" stroke-width="0.18" >CXCR7 agonist</text>
<text x="150.80" y="188.00" font-size="7.2" text-anchor="start" font-weight="normal" fill="#231f20" stroke="#231f20" stroke-width="0.18" >+ HIT sera</text>
<text x="231.00" y="116.73" font-size="11.5" text-anchor="start" font-weight="bold" fill="#000" stroke="#000" stroke-width="0.18" >E</text>
<line x1="261.50" y1="122.00" x2="261.50" y2="203.07" stroke="#111" stroke-width="1.15" />
<line x1="260.93" y1="202.50" x2="338.90" y2="202.50" stroke="#111" stroke-width="1.15" />
<line x1="258.50" y1="125.50" x2="261.50" y2="125.50" stroke="#111" stroke-width="1.15" />
<text x="256.40" y="128.81" font-size="8.6" text-anchor="end" font-weight="normal" fill="#231f20" stroke="#231f20" stroke-width="0.18" textLength="12.91" lengthAdjust="spacingAndGlyphs" >100</text>
<line x1="258.50" y1="164.50" x2="261.50" y2="164.50" stroke="#111" stroke-width="1.15" />
<text x="256.40" y="167.26" font-size="8.6" text-anchor="end" font-weight="normal" fill="#231f20" stroke="#231f20" stroke-width="0.18" textLength="8.61" lengthAdjust="spacingAndGlyphs" >50</text>
<line x1="258.50" y1="202.50" x2="261.50" y2="202.50" stroke="#111" stroke-width="1.15" />
<text x="256.40" y="205.71" font-size="8.6" text-anchor="end" font-weight="normal" fill="#231f20" stroke="#231f20" stroke-width="0.18" textLength="4.30" lengthAdjust="spacingAndGlyphs" >0</text>
<text transform="translate(238.80,162.10) rotate(-90)" font-size="8.5" text-anchor="middle" fill="#231f20" stroke="#231f20" stroke-width="0.2" textLength="55.3" lengthAdjust="spacingAndGlyphs">12-HETE (ng/mL)</text>
<rect x="266.65" y="201.55" width="9.30" height="1.15" fill="#7ea1c6" stroke="#688fb9" stroke-width="0.7"/>
<rect x="279.65" y="179.35" width="9.90" height="23.35" fill="#9ddba6" stroke="#87d392" stroke-width="0.7"/>
<rect x="292.95" y="192.55" width="9.90" height="10.15" fill="#a98bbf" stroke="#9876b1" stroke-width="0.7"/>
<rect x="309.35" y="155.25" width="10.10" height="47.45" fill="#e47b91" stroke="#de637b" stroke-width="0.7"/>
<rect x="322.65" y="184.35" width="10.10" height="18.35" fill="#ffc77f" stroke="#ffba63" stroke-width="0.7"/>
<line x1="284.60" y1="178.10" x2="284.60" y2="182.30" stroke="#231f20" stroke-width="0.9" />
<line x1="282.00" y1="178.10" x2="287.20" y2="178.10" stroke="#231f20" stroke-width="0.9" />
<line x1="282.00" y1="182.30" x2="287.20" y2="182.30" stroke="#231f20" stroke-width="0.9" />
<line x1="297.90" y1="190.20" x2="297.90" y2="194.70" stroke="#231f20" stroke-width="0.9" />
<line x1="295.30" y1="190.20" x2="300.50" y2="190.20" stroke="#231f20" stroke-width="0.9" />
<line x1="295.30" y1="194.70" x2="300.50" y2="194.70" stroke="#231f20" stroke-width="0.9" />
<line x1="314.50" y1="149.50" x2="314.50" y2="160.70" stroke="#231f20" stroke-width="0.9" />
<line x1="311.90" y1="149.50" x2="317.10" y2="149.50" stroke="#231f20" stroke-width="0.9" />
<line x1="311.90" y1="160.70" x2="317.10" y2="160.70" stroke="#231f20" stroke-width="0.9" />
<line x1="327.80" y1="178.50" x2="327.80" y2="188.10" stroke="#231f20" stroke-width="0.9" />
<line x1="325.20" y1="178.50" x2="330.40" y2="178.50" stroke="#231f20" stroke-width="0.9" />
<line x1="325.20" y1="188.10" x2="330.40" y2="188.10" stroke="#231f20" stroke-width="0.9" />
<circle cx="268.50" cy="201.50" r="1.3" fill="#1b4f8b"/>
<circle cx="270.50" cy="202.00" r="1.3" fill="#1b4f8b"/>
<circle cx="272.50" cy="201.20" r="1.3" fill="#1b4f8b"/>
<circle cx="274.50" cy="201.80" r="1.3" fill="#1b4f8b"/>
<circle cx="271.50" cy="200.60" r="1.3" fill="#1b4f8b"/>
<circle cx="282.00" cy="175.80" r="1.3" fill="#39b54a"/>
<circle cx="284.50" cy="177.80" r="1.3" fill="#39b54a"/>
<circle cx="286.80" cy="177.00" r="1.3" fill="#39b54a"/>
<circle cx="281.80" cy="180.50" r="1.3" fill="#39b54a"/>
<circle cx="284.60" cy="180.50" r="1.3" fill="#39b54a"/>
<circle cx="287.80" cy="179.50" r="1.3" fill="#39b54a"/>
<circle cx="298.40" cy="183.10" r="1.3" fill="#5b2a7e"/>
<circle cx="295.00" cy="194.50" r="1.3" fill="#5b2a7e"/>
<circle cx="297.60" cy="195.40" r="1.3" fill="#5b2a7e"/>
<circle cx="300.50" cy="194.20" r="1.3" fill="#5b2a7e"/>
<circle cx="295.80" cy="197.30" r="1.3" fill="#5b2a7e"/>
<circle cx="301.00" cy="197.30" r="1.3" fill="#5b2a7e"/>
<circle cx="318.10" cy="131.60" r="1.3" fill="#c8102e"/>
<circle cx="310.70" cy="134.90" r="1.3" fill="#c8102e"/>
<circle cx="314.50" cy="145.70" r="1.3" fill="#c8102e"/>
<circle cx="314.50" cy="159.90" r="1.3" fill="#c8102e"/>
<circle cx="313.30" cy="163.50" r="1.3" fill="#c8102e"/>
<circle cx="317.20" cy="167.30" r="1.3" fill="#c8102e"/>
<circle cx="311.00" cy="172.30" r="1.3" fill="#c8102e"/>
<circle cx="318.20" cy="172.30" r="1.3" fill="#c8102e"/>
<circle cx="327.80" cy="150.70" r="1.3" fill="#ff8c00"/>
<circle cx="326.20" cy="171.80" r="1.3" fill="#ff8c00"/>
<circle cx="329.80" cy="170.80" r="1.3" fill="#ff8c00"/>
<circle cx="327.50" cy="174.00" r="1.3" fill="#ff8c00"/>
<circle cx="325.00" cy="194.50" r="1.3" fill="#ff8c00"/>
<circle cx="328.00" cy="195.20" r="1.3" fill="#ff8c00"/>
<circle cx="331.00" cy="196.80" r="1.3" fill="#ff8c00"/>
<circle cx="323.80" cy="197.50" r="1.3" fill="#ff8c00"/>
<circle cx="330.00" cy="198.20" r="1.3" fill="#ff8c00"/>
<line x1="285.40" y1="129.50" x2="314.00" y2="129.50" stroke="#2b2b2b" stroke-width="1.0" />
<line x1="285.40" y1="127.70" x2="285.40" y2="131.30" stroke="#2b2b2b" stroke-width="1.0" />
<line x1="314.00" y1="127.70" x2="314.00" y2="131.30" stroke="#2b2b2b" stroke-width="1.0" />
<ellipse cx="296.23" cy="133.40" rx="1.12" ry="0.95" fill="#262626"/>
<ellipse cx="299.50" cy="133.40" rx="1.12" ry="0.95" fill="#262626"/>
<ellipse cx="302.77" cy="133.40" rx="1.12" ry="0.95" fill="#262626"/>
<line x1="313.60" y1="139.50" x2="328.10" y2="139.50" stroke="#2b2b2b" stroke-width="1.0" />
<line x1="313.60" y1="137.70" x2="313.60" y2="141.30" stroke="#2b2b2b" stroke-width="1.0" />
<line x1="328.10" y1="137.70" x2="328.10" y2="141.30" stroke="#2b2b2b" stroke-width="1.0" />
<text x="320.80" y="146.91" font-size="6.6" text-anchor="middle" font-weight="normal" fill="#444" stroke="#444" stroke-width="0.12" font-style="italic">##</text>
<line x1="284.60" y1="168.50" x2="299.20" y2="168.50" stroke="#2b2b2b" stroke-width="1.0" />
<line x1="284.60" y1="166.70" x2="284.60" y2="170.30" stroke="#2b2b2b" stroke-width="1.0" />
<line x1="299.20" y1="166.70" x2="299.20" y2="170.30" stroke="#2b2b2b" stroke-width="1.0" />
<text x="292.00" y="176.31" font-size="6.6" text-anchor="middle" font-weight="normal" fill="#444" stroke="#444" stroke-width="0.12" font-style="italic">##</text>
<line x1="377.50" y1="122.00" x2="377.50" y2="203.07" stroke="#111" stroke-width="1.15" />
<line x1="376.93" y1="202.50" x2="454.90" y2="202.50" stroke="#111" stroke-width="1.15" />
<line x1="374.50" y1="125.50" x2="377.50" y2="125.50" stroke="#111" stroke-width="1.15" />
<text x="373.20" y="128.81" font-size="8.6" text-anchor="end" font-weight="normal" fill="#231f20" stroke="#231f20" stroke-width="0.18" textLength="8.61" lengthAdjust="spacingAndGlyphs" >22</text>
<line x1="374.50" y1="164.50" x2="377.50" y2="164.50" stroke="#111" stroke-width="1.15" />
<text x="373.20" y="167.26" font-size="8.6" text-anchor="end" font-weight="normal" fill="#231f20" stroke="#231f20" stroke-width="0.18" textLength="8.03" lengthAdjust="spacingAndGlyphs" >11</text>
<line x1="374.50" y1="202.50" x2="377.50" y2="202.50" stroke="#111" stroke-width="1.15" />
<text x="373.20" y="205.71" font-size="8.6" text-anchor="end" font-weight="normal" fill="#231f20" stroke="#231f20" stroke-width="0.18" textLength="4.30" lengthAdjust="spacingAndGlyphs" >0</text>
<text transform="translate(356.0,162.2) rotate(-90)" font-size="8.0" text-anchor="middle" fill="#231f20" stroke="#231f20" stroke-width="0.2" textLength="42.8" lengthAdjust="spacingAndGlyphs">TxA<tspan font-size="5.6" dy="1.8">2</tspan><tspan dy="-1.8"> (ng/mL)</tspan></text>
<rect x="382.15" y="201.95" width="9.50" height="0.75" fill="#7ea1c6" stroke="#688fb9" stroke-width="0.7"/>
<rect x="395.15" y="190.45" width="10.10" height="12.25" fill="#9ddba6" stroke="#87d392" stroke-width="0.7"/>
<rect x="408.75" y="197.55" width="9.80" height="5.15" fill="#a98bbf" stroke="#9876b1" stroke-width="0.7"/>
<rect x="424.65" y="167.35" width="10.00" height="35.35" fill="#e47b91" stroke="#de637b" stroke-width="0.7"/>
<rect x="437.95" y="199.25" width="10.00" height="3.45" fill="#ffc77f" stroke="#ffba63" stroke-width="0.7"/>
<line x1="386.90" y1="199.50" x2="386.90" y2="202.20" stroke="#231f20" stroke-width="0.9" />
<line x1="384.50" y1="199.50" x2="389.30" y2="199.50" stroke="#231f20" stroke-width="0.9" />
<line x1="384.50" y1="202.20" x2="389.30" y2="202.20" stroke="#231f20" stroke-width="0.9" />
<line x1="400.10" y1="187.60" x2="400.10" y2="193.10" stroke="#231f20" stroke-width="0.9" />
<line x1="397.50" y1="187.60" x2="402.70" y2="187.60" stroke="#231f20" stroke-width="0.9" />
<line x1="397.50" y1="193.10" x2="402.70" y2="193.10" stroke="#231f20" stroke-width="0.9" />
<line x1="413.60" y1="196.00" x2="413.60" y2="198.40" stroke="#231f20" stroke-width="0.9" />
<line x1="411.20" y1="196.00" x2="416.00" y2="196.00" stroke="#231f20" stroke-width="0.9" />
<line x1="411.20" y1="198.40" x2="416.00" y2="198.40" stroke="#231f20" stroke-width="0.9" />
<line x1="429.60" y1="157.40" x2="429.60" y2="176.50" stroke="#231f20" stroke-width="0.9" />
<line x1="427.00" y1="157.40" x2="432.20" y2="157.40" stroke="#231f20" stroke-width="0.9" />
<line x1="427.00" y1="176.50" x2="432.20" y2="176.50" stroke="#231f20" stroke-width="0.9" />
<line x1="442.90" y1="196.40" x2="442.90" y2="198.30" stroke="#231f20" stroke-width="0.9" />
<line x1="440.30" y1="196.40" x2="445.50" y2="196.40" stroke="#231f20" stroke-width="0.9" />
<line x1="440.30" y1="198.30" x2="445.50" y2="198.30" stroke="#231f20" stroke-width="0.9" />
<circle cx="386.90" cy="198.30" r="1.3" fill="#1b4f8b"/>
<circle cx="384.00" cy="201.40" r="1.3" fill="#1b4f8b"/>
<circle cx="389.50" cy="201.20" r="1.3" fill="#1b4f8b"/>
<circle cx="386.50" cy="202.20" r="1.3" fill="#1b4f8b"/>
<circle cx="391.00" cy="202.30" r="1.3" fill="#1b4f8b"/>
<circle cx="383.00" cy="202.60" r="1.3" fill="#1b4f8b"/>
<circle cx="400.10" cy="178.50" r="1.3" fill="#39b54a"/>
<circle cx="396.10" cy="186.40" r="1.3" fill="#39b54a"/>
<circle cx="396.10" cy="196.00" r="1.3" fill="#39b54a"/>
<circle cx="400.10" cy="196.20" r="1.3" fill="#39b54a"/>
<circle cx="404.00" cy="196.00" r="1.3" fill="#39b54a"/>
<circle cx="413.60" cy="193.60" r="1.3" fill="#5b2a7e"/>
<circle cx="410.50" cy="196.50" r="1.3" fill="#5b2a7e"/>
<circle cx="413.00" cy="197.00" r="1.3" fill="#5b2a7e"/>
<circle cx="416.50" cy="196.30" r="1.3" fill="#5b2a7e"/>
<circle cx="411.80" cy="198.00" r="1.3" fill="#5b2a7e"/>
<circle cx="415.00" cy="198.20" r="1.3" fill="#5b2a7e"/>
<circle cx="429.60" cy="127.10" r="1.3" fill="#c8102e"/>
<circle cx="429.60" cy="151.20" r="1.3" fill="#c8102e"/>
<circle cx="429.60" cy="169.80" r="1.3" fill="#c8102e"/>
<circle cx="429.60" cy="180.10" r="1.3" fill="#c8102e"/>
<circle cx="433.50" cy="185.10" r="1.3" fill="#c8102e"/>
<circle cx="426.00" cy="187.60" r="1.3" fill="#c8102e"/>
<circle cx="442.90" cy="194.20" r="1.3" fill="#ff8c00"/>
<circle cx="440.00" cy="197.20" r="1.3" fill="#ff8c00"/>
<circle cx="445.50" cy="197.40" r="1.3" fill="#ff8c00"/>
<circle cx="439.80" cy="199.60" r="1.3" fill="#ff8c00"/>
<circle cx="446.50" cy="199.80" r="1.3" fill="#ff8c00"/>
<circle cx="443.00" cy="200.80" r="1.3" fill="#ff8c00"/>
<line x1="401.70" y1="144.50" x2="429.60" y2="144.50" stroke="#2b2b2b" stroke-width="1.0" />
<line x1="401.70" y1="142.70" x2="401.70" y2="146.30" stroke="#2b2b2b" stroke-width="1.0" />
<line x1="429.60" y1="142.70" x2="429.60" y2="146.30" stroke="#2b2b2b" stroke-width="1.0" />
<ellipse cx="415.50" cy="147.60" rx="1.12" ry="0.95" fill="#262626"/>
<line x1="433.80" y1="162.50" x2="446.60" y2="162.50" stroke="#2b2b2b" stroke-width="1.0" />
<line x1="433.80" y1="160.70" x2="433.80" y2="164.30" stroke="#2b2b2b" stroke-width="1.0" />
<line x1="446.60" y1="160.70" x2="446.60" y2="164.30" stroke="#2b2b2b" stroke-width="1.0" />
<text x="440.40" y="169.61" font-size="6.6" text-anchor="middle" font-weight="normal" fill="#444" stroke="#444" stroke-width="0.12" font-style="italic">##</text>
<line x1="400.10" y1="173.50" x2="412.70" y2="173.50" stroke="#2b2b2b" stroke-width="1.0" />
<line x1="400.10" y1="171.70" x2="400.10" y2="175.30" stroke="#2b2b2b" stroke-width="1.0" />
<line x1="412.70" y1="171.70" x2="412.70" y2="175.30" stroke="#2b2b2b" stroke-width="1.0" />
<text x="406.30" y="180.71" font-size="6.6" text-anchor="middle" font-weight="normal" fill="#444" stroke="#444" stroke-width="0.12" font-style="italic">#</text>
<circle cx="458.20" cy="129.50" r="1.2" fill="#1b4f8b"/>
<text x="462.80" y="132.00" font-size="7.2" text-anchor="start" font-weight="normal" fill="#231f20" stroke="#231f20" stroke-width="0.18" >Basal</text>
<circle cx="458.20" cy="139.00" r="1.2" fill="#39b54a"/>
<text x="462.80" y="141.50" font-size="7.2" text-anchor="start" font-weight="normal" fill="#231f20" stroke="#231f20" stroke-width="0.18" >Control sera</text>
<circle cx="458.20" cy="148.30" r="1.2" fill="#5b2a7e"/>
<text x="462.80" y="150.80" font-size="7.2" text-anchor="start" font-weight="normal" fill="#231f20" stroke="#231f20" stroke-width="0.18" >CXCR7 agonist</text>
<text x="462.80" y="159.70" font-size="7.2" text-anchor="start" font-weight="normal" fill="#231f20" stroke="#231f20" stroke-width="0.18" >control sera</text>
<circle cx="458.20" cy="165.80" r="1.2" fill="#c8102e"/>
<text x="462.80" y="168.30" font-size="7.2" text-anchor="start" font-weight="normal" fill="#231f20" stroke="#231f20" stroke-width="0.18" >HIT sera</text>
<circle cx="458.20" cy="174.90" r="1.2" fill="#ff8c00"/>
<text x="462.80" y="177.40" font-size="7.2" text-anchor="start" font-weight="normal" fill="#231f20" stroke="#231f20" stroke-width="0.18" >CXCR7 agonist</text>
<text x="462.80" y="186.20" font-size="7.2" text-anchor="start" font-weight="normal" fill="#231f20" stroke="#231f20" stroke-width="0.18" >HIT sera</text>
<text x="7.00" y="239.23" font-size="11.5" text-anchor="start" font-weight="bold" fill="#000" stroke="#000" stroke-width="0.18" >F</text>
<circle cx="16.50" cy="246.70" r="1.2" fill="#1b4f8b"/>
<text x="21.20" y="249.20" font-size="7.2" text-anchor="start" font-weight="normal" fill="#231f20" stroke="#231f20" stroke-width="0.18" >Resting</text>
<circle cx="60.80" cy="246.70" r="1.2" fill="#5b2a7e"/>
<text x="65.50" y="249.20" font-size="7.2" text-anchor="start" font-weight="normal" fill="#231f20" stroke="#231f20" stroke-width="0.18" >CXCR7 agonist + control sera</text>
<circle cx="16.50" cy="258.10" r="1.2" fill="#39b54a"/>
<text x="21.20" y="260.60" font-size="7.2" text-anchor="start" font-weight="normal" fill="#231f20" stroke="#231f20" stroke-width="0.18" >Control sera</text>
<circle cx="16.50" cy="269.30" r="1.2" fill="#c8102e"/>
<text x="21.20" y="271.80" font-size="7.2" text-anchor="start" font-weight="normal" fill="#231f20" stroke="#231f20" stroke-width="0.18" >HIT sera</text>
<circle cx="60.80" cy="269.30" r="1.2" fill="#ff8c00"/>
<text x="65.50" y="271.80" font-size="7.2" text-anchor="start" font-weight="normal" fill="#231f20" stroke="#231f20" stroke-width="0.18" >CXCR7 agonist + HIT sera</text>
<line x1="46.50" y1="280.10" x2="46.50" y2="361.07" stroke="#111" stroke-width="1.15" />
<line x1="45.92" y1="360.50" x2="124.30" y2="360.50" stroke="#111" stroke-width="1.15" />
<line x1="43.50" y1="284.50" x2="46.50" y2="284.50" stroke="#111" stroke-width="1.15" />
<text x="41.00" y="287.31" font-size="8.6" text-anchor="end" font-weight="normal" fill="#231f20" stroke="#231f20" stroke-width="0.18" textLength="12.91" lengthAdjust="spacingAndGlyphs" >250</text>
<line x1="43.50" y1="322.50" x2="46.50" y2="322.50" stroke="#111" stroke-width="1.15" />
<text x="41.00" y="325.36" font-size="8.6" text-anchor="end" font-weight="normal" fill="#231f20" stroke="#231f20" stroke-width="0.18" textLength="12.91" lengthAdjust="spacingAndGlyphs" >125</text>
<line x1="43.50" y1="360.50" x2="46.50" y2="360.50" stroke="#111" stroke-width="1.15" />
<text x="41.00" y="363.41" font-size="8.6" text-anchor="end" font-weight="normal" fill="#231f20" stroke="#231f20" stroke-width="0.18" textLength="4.30" lengthAdjust="spacingAndGlyphs" >0</text>
<text transform="translate(21.90,319.80) rotate(-90)" font-size="8.0" text-anchor="middle" fill="#231f20" stroke="#231f20" stroke-width="0.2" textLength="63.7" lengthAdjust="spacingAndGlyphs">Active CD11b (MFI)</text>
<rect x="52.45" y="348.05" width="9.30" height="12.35" fill="#7ea1c6" stroke="#688fb9" stroke-width="0.7"/>
<rect x="67.65" y="325.15" width="9.70" height="35.25" fill="#9ddba6" stroke="#87d392" stroke-width="0.7"/>
<rect x="80.65" y="331.05" width="9.50" height="29.35" fill="#a98bbf" stroke="#9876b1" stroke-width="0.7"/>
<rect x="95.75" y="309.45" width="9.60" height="50.95" fill="#e47b91" stroke="#de637b" stroke-width="0.7"/>
<rect x="108.65" y="326.75" width="9.70" height="33.65" fill="#ffc77f" stroke="#ffba63" stroke-width="0.7"/>
<circle cx="57.10" cy="341.74" r="1.4" fill="#1b4f8b"/>
<circle cx="59.35" cy="341.75" r="1.4" fill="#1b4f8b"/>
<circle cx="55.75" cy="343.13" r="1.4" fill="#1b4f8b"/>
<circle cx="57.55" cy="344.08" r="1.4" fill="#1b4f8b"/>
<circle cx="59.80" cy="344.19" r="1.4" fill="#1b4f8b"/>
<circle cx="53.95" cy="344.25" r="1.4" fill="#1b4f8b"/>
<circle cx="57.19" cy="344.97" r="1.4" fill="#1b4f8b"/>
<circle cx="53.79" cy="345.04" r="1.4" fill="#1b4f8b"/>
<circle cx="60.79" cy="345.62" r="1.4" fill="#1b4f8b"/>
<circle cx="58.90" cy="345.92" r="1.4" fill="#1b4f8b"/>
<circle cx="55.75" cy="346.47" r="1.4" fill="#1b4f8b"/>
<circle cx="53.95" cy="347.23" r="1.4" fill="#1b4f8b"/>
<circle cx="72.50" cy="303.29" r="1.4" fill="#39b54a"/>
<circle cx="72.50" cy="306.42" r="1.4" fill="#39b54a"/>
<circle cx="74.30" cy="307.10" r="1.4" fill="#39b54a"/>
<circle cx="70.70" cy="307.36" r="1.4" fill="#39b54a"/>
<circle cx="72.50" cy="308.79" r="1.4" fill="#39b54a"/>
<circle cx="75.20" cy="308.84" r="1.4" fill="#39b54a"/>
<circle cx="73.85" cy="310.43" r="1.4" fill="#39b54a"/>
<circle cx="72.50" cy="314.18" r="1.4" fill="#39b54a"/>
<circle cx="74.75" cy="314.60" r="1.4" fill="#39b54a"/>
<circle cx="71.15" cy="315.57" r="1.4" fill="#39b54a"/>
<circle cx="72.95" cy="316.20" r="1.4" fill="#39b54a"/>
<circle cx="72.50" cy="327.58" r="1.4" fill="#39b54a"/>
<circle cx="74.75" cy="327.72" r="1.4" fill="#39b54a"/>
<circle cx="70.25" cy="327.84" r="1.4" fill="#39b54a"/>
<circle cx="75.35" cy="327.89" r="1.4" fill="#39b54a"/>
<circle cx="69.03" cy="328.49" r="1.4" fill="#39b54a"/>
<circle cx="72.50" cy="329.59" r="1.4" fill="#39b54a"/>
<circle cx="73.85" cy="331.25" r="1.4" fill="#39b54a"/>
<circle cx="72.50" cy="332.71" r="1.4" fill="#39b54a"/>
<circle cx="74.30" cy="333.34" r="1.4" fill="#39b54a"/>
<circle cx="70.70" cy="333.88" r="1.4" fill="#39b54a"/>
<circle cx="76.10" cy="334.00" r="1.4" fill="#39b54a"/>
<circle cx="72.50" cy="335.02" r="1.4" fill="#39b54a"/>
<circle cx="74.30" cy="336.19" r="1.4" fill="#39b54a"/>
<circle cx="71.15" cy="336.38" r="1.4" fill="#39b54a"/>
<circle cx="85.40" cy="317.73" r="1.4" fill="#5b2a7e"/>
<circle cx="85.40" cy="321.60" r="1.4" fill="#5b2a7e"/>
<circle cx="87.20" cy="322.31" r="1.4" fill="#5b2a7e"/>
<circle cx="83.60" cy="322.55" r="1.4" fill="#5b2a7e"/>
<circle cx="89.00" cy="322.94" r="1.4" fill="#5b2a7e"/>
<circle cx="81.80" cy="323.42" r="1.4" fill="#5b2a7e"/>
<circle cx="85.40" cy="323.86" r="1.4" fill="#5b2a7e"/>
<circle cx="83.45" cy="324.21" r="1.4" fill="#5b2a7e"/>
<circle cx="87.20" cy="325.07" r="1.4" fill="#5b2a7e"/>
<circle cx="85.40" cy="326.45" r="1.4" fill="#5b2a7e"/>
<circle cx="87.20" cy="327.32" r="1.4" fill="#5b2a7e"/>
<circle cx="83.60" cy="327.64" r="1.4" fill="#5b2a7e"/>
<circle cx="85.40" cy="332.12" r="1.4" fill="#5b2a7e"/>
<circle cx="85.40" cy="334.22" r="1.4" fill="#5b2a7e"/>
<circle cx="85.40" cy="336.13" r="1.4" fill="#5b2a7e"/>
<circle cx="86.75" cy="337.48" r="1.4" fill="#5b2a7e"/>
<circle cx="84.05" cy="337.66" r="1.4" fill="#5b2a7e"/>
<circle cx="89.00" cy="337.74" r="1.4" fill="#5b2a7e"/>
<circle cx="81.80" cy="338.16" r="1.4" fill="#5b2a7e"/>
<circle cx="85.40" cy="340.00" r="1.4" fill="#5b2a7e"/>
<circle cx="85.40" cy="343.11" r="1.4" fill="#5b2a7e"/>
<circle cx="100.55" cy="293.74" r="1.4" fill="#c8102e"/>
<circle cx="101.90" cy="295.39" r="1.4" fill="#c8102e"/>
<circle cx="100.55" cy="298.59" r="1.4" fill="#c8102e"/>
<circle cx="102.35" cy="299.84" r="1.4" fill="#c8102e"/>
<circle cx="100.55" cy="302.14" r="1.4" fill="#c8102e"/>
<circle cx="102.35" cy="302.90" r="1.4" fill="#c8102e"/>
<circle cx="98.75" cy="303.07" r="1.4" fill="#c8102e"/>
<circle cx="103.25" cy="303.48" r="1.4" fill="#c8102e"/>
<circle cx="100.55" cy="304.12" r="1.4" fill="#c8102e"/>
<circle cx="97.40" cy="304.43" r="1.4" fill="#c8102e"/>
<circle cx="103.48" cy="304.60" r="1.4" fill="#c8102e"/>
<circle cx="101.90" cy="305.27" r="1.4" fill="#c8102e"/>
<circle cx="100.10" cy="306.54" r="1.4" fill="#c8102e"/>
<circle cx="101.90" cy="307.32" r="1.4" fill="#c8102e"/>
<circle cx="98.30" cy="307.60" r="1.4" fill="#c8102e"/>
<circle cx="100.55" cy="309.28" r="1.4" fill="#c8102e"/>
<circle cx="102.80" cy="309.48" r="1.4" fill="#c8102e"/>
<circle cx="98.30" cy="309.52" r="1.4" fill="#c8102e"/>
<circle cx="101.45" cy="311.02" r="1.4" fill="#c8102e"/>
<circle cx="99.65" cy="311.74" r="1.4" fill="#c8102e"/>
<circle cx="100.55" cy="315.60" r="1.4" fill="#c8102e"/>
<circle cx="102.80" cy="315.78" r="1.4" fill="#c8102e"/>
<circle cx="98.75" cy="316.43" r="1.4" fill="#c8102e"/>
<circle cx="100.55" cy="317.81" r="1.4" fill="#c8102e"/>
<circle cx="102.35" cy="318.82" r="1.4" fill="#c8102e"/>
<circle cx="100.55" cy="323.15" r="1.4" fill="#c8102e"/>
<circle cx="100.55" cy="328.27" r="1.4" fill="#c8102e"/>
<circle cx="102.80" cy="328.52" r="1.4" fill="#c8102e"/>
<circle cx="113.50" cy="310.92" r="1.4" fill="#ff8c00"/>
<circle cx="113.50" cy="313.01" r="1.4" fill="#ff8c00"/>
<circle cx="113.50" cy="315.21" r="1.4" fill="#ff8c00"/>
<circle cx="115.30" cy="316.39" r="1.4" fill="#ff8c00"/>
<circle cx="111.70" cy="316.42" r="1.4" fill="#ff8c00"/>
<circle cx="111.61" cy="316.69" r="1.4" fill="#ff8c00"/>
<circle cx="117.10" cy="317.10" r="1.4" fill="#ff8c00"/>
<circle cx="113.50" cy="317.33" r="1.4" fill="#ff8c00"/>
<circle cx="109.90" cy="317.99" r="1.4" fill="#ff8c00"/>
<circle cx="115.30" cy="318.34" r="1.4" fill="#ff8c00"/>
<circle cx="113.50" cy="319.24" r="1.4" fill="#ff8c00"/>
<circle cx="111.25" cy="319.43" r="1.4" fill="#ff8c00"/>
<circle cx="114.85" cy="320.66" r="1.4" fill="#ff8c00"/>
<circle cx="113.50" cy="326.47" r="1.4" fill="#ff8c00"/>
<circle cx="115.75" cy="326.52" r="1.4" fill="#ff8c00"/>
<circle cx="111.25" cy="326.62" r="1.4" fill="#ff8c00"/>
<circle cx="113.50" cy="340.72" r="1.4" fill="#ff8c00"/>
<circle cx="115.30" cy="341.40" r="1.4" fill="#ff8c00"/>
<circle cx="112.15" cy="342.36" r="1.4" fill="#ff8c00"/>
<circle cx="117.10" cy="342.46" r="1.4" fill="#ff8c00"/>
<circle cx="109.90" cy="342.47" r="1.4" fill="#ff8c00"/>
<line x1="72.00" y1="322.00" x2="72.00" y2="327.20" stroke="#231f20" stroke-width="0.9" />
<line x1="69.40" y1="322.00" x2="74.60" y2="322.00" stroke="#231f20" stroke-width="0.9" />
<line x1="69.40" y1="327.20" x2="74.60" y2="327.20" stroke="#231f20" stroke-width="0.9" />
<line x1="100.60" y1="307.00" x2="100.60" y2="311.30" stroke="#231f20" stroke-width="0.9" />
<line x1="98.00" y1="307.00" x2="103.20" y2="307.00" stroke="#231f20" stroke-width="0.9" />
<line x1="98.00" y1="311.30" x2="103.20" y2="311.30" stroke="#231f20" stroke-width="0.9" />
<line x1="55.60" y1="292.50" x2="98.50" y2="292.50" stroke="#2b2b2b" stroke-width="1.0" />
<line x1="55.60" y1="290.70" x2="55.60" y2="294.30" stroke="#2b2b2b" stroke-width="1.0" />
<line x1="98.50" y1="290.70" x2="98.50" y2="294.30" stroke="#2b2b2b" stroke-width="1.0" />
<ellipse cx="72.00" cy="288.60" rx="1.12" ry="0.95" fill="#262626"/>
<ellipse cx="75.27" cy="288.60" rx="1.12" ry="0.95" fill="#262626"/>
<ellipse cx="78.54" cy="288.60" rx="1.12" ry="0.95" fill="#262626"/>
<ellipse cx="81.81" cy="288.60" rx="1.12" ry="0.95" fill="#262626"/>
<line x1="98.00" y1="284.50" x2="114.40" y2="284.50" stroke="#2b2b2b" stroke-width="1.0" />
<line x1="98.00" y1="282.70" x2="98.00" y2="286.30" stroke="#2b2b2b" stroke-width="1.0" />
<line x1="114.40" y1="282.70" x2="114.40" y2="286.30" stroke="#2b2b2b" stroke-width="1.0" />
<ellipse cx="101.19" cy="281.00" rx="1.12" ry="0.95" fill="#262626"/>
<ellipse cx="104.46" cy="281.00" rx="1.12" ry="0.95" fill="#262626"/>
<ellipse cx="107.73" cy="281.00" rx="1.12" ry="0.95" fill="#262626"/>
<ellipse cx="111.00" cy="281.00" rx="1.12" ry="0.95" fill="#262626"/>
<line x1="70.80" y1="297.50" x2="94.50" y2="297.50" stroke="#2b2b2b" stroke-width="1.0" />
<line x1="70.80" y1="295.70" x2="70.80" y2="299.30" stroke="#2b2b2b" stroke-width="1.0" />
<line x1="94.50" y1="295.70" x2="94.50" y2="299.30" stroke="#2b2b2b" stroke-width="1.0" />
<ellipse cx="79.43" cy="301.80" rx="1.12" ry="0.95" fill="#262626"/>
<ellipse cx="82.70" cy="301.80" rx="1.12" ry="0.95" fill="#262626"/>
<ellipse cx="85.97" cy="301.80" rx="1.12" ry="0.95" fill="#262626"/>
<line x1="53.50" y1="305.50" x2="69.40" y2="305.50" stroke="#2b2b2b" stroke-width="1.0" />
<line x1="53.50" y1="303.70" x2="53.50" y2="307.30" stroke="#2b2b2b" stroke-width="1.0" />
<line x1="69.40" y1="303.70" x2="69.40" y2="307.30" stroke="#2b2b2b" stroke-width="1.0" />
<ellipse cx="56.70" cy="301.80" rx="1.12" ry="0.95" fill="#262626"/>
<ellipse cx="59.97" cy="301.80" rx="1.12" ry="0.95" fill="#262626"/>
<ellipse cx="63.23" cy="301.80" rx="1.12" ry="0.95" fill="#262626"/>
<ellipse cx="66.50" cy="301.80" rx="1.12" ry="0.95" fill="#262626"/>
<text x="171.20" y="237.53" font-size="11.5" text-anchor="start" font-weight="bold" fill="#000" stroke="#000" stroke-width="0.18" >Gi</text>
<circle cx="182.50" cy="246.70" r="1.2" fill="#1b4f8b"/>
<text x="187.40" y="249.20" font-size="7.2" text-anchor="start" font-weight="normal" fill="#231f20" stroke="#231f20" stroke-width="0.18" >Basal CD11cCD42b<tspan font-size="4.8" dy="-2.8">+</tspan></text>
<circle cx="182.50" cy="258.10" r="1.2" fill="#39b54a"/>
<text x="187.20" y="260.60" font-size="7.2" text-anchor="start" font-weight="normal" fill="#231f20" stroke="#231f20" stroke-width="0.18" >Control sera</text>
<circle cx="234.30" cy="258.10" r="1.2" fill="#5b2a7e"/>
<text x="239.00" y="260.60" font-size="7.2" text-anchor="start" font-weight="normal" fill="#231f20" stroke="#231f20" stroke-width="0.18" >CXCR7 agonist + control sera</text>
<circle cx="182.50" cy="269.30" r="1.2" fill="#c8102e"/>
<text x="187.20" y="271.80" font-size="7.2" text-anchor="start" font-weight="normal" fill="#231f20" stroke="#231f20" stroke-width="0.18" >HIT sera</text>
<circle cx="234.30" cy="269.30" r="1.2" fill="#ff8c00"/>
<text x="239.00" y="271.80" font-size="7.2" text-anchor="start" font-weight="normal" fill="#231f20" stroke="#231f20" stroke-width="0.18" >CXCR7 agonist + HIT sera</text>
<line x1="206.50" y1="280.10" x2="206.50" y2="361.07" stroke="#111" stroke-width="1.15" />
<line x1="205.93" y1="360.50" x2="284.00" y2="360.50" stroke="#111" stroke-width="1.15" />
<line x1="203.50" y1="284.50" x2="206.50" y2="284.50" stroke="#111" stroke-width="1.15" />
<text x="200.80" y="287.11" font-size="8.6" text-anchor="end" font-weight="normal" fill="#231f20" stroke="#231f20" stroke-width="0.18" textLength="8.61" lengthAdjust="spacingAndGlyphs" >50</text>
<line x1="203.50" y1="322.50" x2="206.50" y2="322.50" stroke="#111" stroke-width="1.15" />
<text x="200.80" y="325.26" font-size="8.6" text-anchor="end" font-weight="normal" fill="#231f20" stroke="#231f20" stroke-width="0.18" textLength="8.61" lengthAdjust="spacingAndGlyphs" >25</text>
<line x1="203.50" y1="360.50" x2="206.50" y2="360.50" stroke="#111" stroke-width="1.15" />
<text x="200.80" y="363.41" font-size="8.6" text-anchor="end" font-weight="normal" fill="#231f20" stroke="#231f20" stroke-width="0.18" textLength="4.30" lengthAdjust="spacingAndGlyphs" >0</text>
<text transform="translate(181.30,320.20) rotate(-90)" font-size="8.0" text-anchor="middle" fill="#231f20" stroke="#231f20" stroke-width="0.2" textLength="79.4" lengthAdjust="spacingAndGlyphs">CD42b<tspan font-size="5.4" dy="-3.2">+</tspan><tspan dy="3.2"> aggregates (%)</tspan></text>
<rect x="211.85" y="351.35" width="10.00" height="9.05" fill="#7ea1c6" stroke="#688fb9" stroke-width="0.7"/>
<rect x="227.45" y="339.95" width="9.40" height="20.45" fill="#9ddba6" stroke="#87d392" stroke-width="0.7"/>
<rect x="240.15" y="353.85" width="9.90" height="6.55" fill="#a98bbf" stroke="#9876b1" stroke-width="0.7"/>
<rect x="255.25" y="315.35" width="9.90" height="45.05" fill="#e47b91" stroke="#de637b" stroke-width="0.7"/>
<rect x="268.75" y="347.25" width="9.50" height="13.15" fill="#ffc77f" stroke="#ffba63" stroke-width="0.7"/>
<circle cx="216.85" cy="339.64" r="1.4" fill="#1b4f8b"/>
<circle cx="216.85" cy="347.10" r="1.4" fill="#1b4f8b"/>
<circle cx="219.10" cy="347.28" r="1.4" fill="#1b4f8b"/>
<circle cx="216.85" cy="349.02" r="1.4" fill="#1b4f8b"/>
<circle cx="218.65" cy="349.67" r="1.4" fill="#1b4f8b"/>
<circle cx="215.50" cy="350.54" r="1.4" fill="#1b4f8b"/>
<circle cx="217.30" cy="351.72" r="1.4" fill="#1b4f8b"/>
<circle cx="214.60" cy="352.23" r="1.4" fill="#1b4f8b"/>
<circle cx="219.10" cy="352.88" r="1.4" fill="#1b4f8b"/>
<circle cx="216.40" cy="353.42" r="1.4" fill="#1b4f8b"/>
<circle cx="213.25" cy="353.73" r="1.4" fill="#1b4f8b"/>
<circle cx="217.75" cy="354.90" r="1.4" fill="#1b4f8b"/>
<circle cx="232.15" cy="332.54" r="1.4" fill="#39b54a"/>
<circle cx="233.95" cy="333.37" r="1.4" fill="#39b54a"/>
<circle cx="232.15" cy="334.74" r="1.4" fill="#39b54a"/>
<circle cx="234.40" cy="335.24" r="1.4" fill="#39b54a"/>
<circle cx="232.15" cy="337.22" r="1.4" fill="#39b54a"/>
<circle cx="233.95" cy="337.85" r="1.4" fill="#39b54a"/>
<circle cx="230.80" cy="338.72" r="1.4" fill="#39b54a"/>
<circle cx="235.75" cy="339.16" r="1.4" fill="#39b54a"/>
<circle cx="232.60" cy="339.88" r="1.4" fill="#39b54a"/>
<circle cx="231.25" cy="341.53" r="1.4" fill="#39b54a"/>
<circle cx="232.15" cy="345.55" r="1.4" fill="#39b54a"/>
<circle cx="234.40" cy="345.76" r="1.4" fill="#39b54a"/>
<circle cx="230.35" cy="346.42" r="1.4" fill="#39b54a"/>
<circle cx="233.64" cy="346.90" r="1.4" fill="#39b54a"/>
<circle cx="235.75" cy="347.51" r="1.4" fill="#39b54a"/>
<circle cx="231.70" cy="348.07" r="1.4" fill="#39b54a"/>
<circle cx="233.50" cy="348.85" r="1.4" fill="#39b54a"/>
<circle cx="229.90" cy="348.93" r="1.4" fill="#39b54a"/>
<circle cx="230.07" cy="349.09" r="1.4" fill="#39b54a"/>
<circle cx="228.54" cy="349.18" r="1.4" fill="#39b54a"/>
<circle cx="235.30" cy="349.82" r="1.4" fill="#39b54a"/>
<circle cx="245.10" cy="337.91" r="1.4" fill="#5b2a7e"/>
<circle cx="245.10" cy="341.72" r="1.4" fill="#5b2a7e"/>
<circle cx="245.10" cy="344.21" r="1.4" fill="#5b2a7e"/>
<circle cx="245.10" cy="349.03" r="1.4" fill="#5b2a7e"/>
<circle cx="247.35" cy="349.59" r="1.4" fill="#5b2a7e"/>
<circle cx="243.30" cy="349.67" r="1.4" fill="#5b2a7e"/>
<circle cx="245.10" cy="351.27" r="1.4" fill="#5b2a7e"/>
<circle cx="245.10" cy="353.40" r="1.4" fill="#5b2a7e"/>
<circle cx="247.35" cy="353.53" r="1.4" fill="#5b2a7e"/>
<circle cx="242.85" cy="353.82" r="1.4" fill="#5b2a7e"/>
<circle cx="243.18" cy="354.03" r="1.4" fill="#5b2a7e"/>
<circle cx="249.15" cy="354.64" r="1.4" fill="#5b2a7e"/>
<circle cx="241.05" cy="354.65" r="1.4" fill="#5b2a7e"/>
<circle cx="246.98" cy="354.93" r="1.4" fill="#5b2a7e"/>
<circle cx="242.68" cy="355.13" r="1.4" fill="#5b2a7e"/>
<circle cx="245.10" cy="355.63" r="1.4" fill="#5b2a7e"/>
<circle cx="247.07" cy="355.73" r="1.4" fill="#5b2a7e"/>
<circle cx="249.00" cy="356.18" r="1.4" fill="#5b2a7e"/>
<circle cx="245.05" cy="356.52" r="1.4" fill="#5b2a7e"/>
<circle cx="260.20" cy="293.36" r="1.4" fill="#c8102e"/>
<circle cx="262.45" cy="293.95" r="1.4" fill="#c8102e"/>
<circle cx="258.85" cy="294.86" r="1.4" fill="#c8102e"/>
<circle cx="260.65" cy="295.95" r="1.4" fill="#c8102e"/>
<circle cx="258.85" cy="296.77" r="1.4" fill="#c8102e"/>
<circle cx="260.65" cy="297.94" r="1.4" fill="#c8102e"/>
<circle cx="262.90" cy="298.16" r="1.4" fill="#c8102e"/>
<circle cx="257.95" cy="298.51" r="1.4" fill="#c8102e"/>
<circle cx="256.24" cy="299.02" r="1.4" fill="#c8102e"/>
<circle cx="259.86" cy="299.22" r="1.4" fill="#c8102e"/>
<circle cx="260.20" cy="305.23" r="1.4" fill="#c8102e"/>
<circle cx="260.20" cy="314.23" r="1.4" fill="#c8102e"/>
<circle cx="262.00" cy="315.10" r="1.4" fill="#c8102e"/>
<circle cx="260.20" cy="316.16" r="1.4" fill="#c8102e"/>
<circle cx="261.55" cy="317.63" r="1.4" fill="#c8102e"/>
<circle cx="259.75" cy="318.89" r="1.4" fill="#c8102e"/>
<circle cx="262.90" cy="319.29" r="1.4" fill="#c8102e"/>
<circle cx="260.20" cy="322.46" r="1.4" fill="#c8102e"/>
<circle cx="262.45" cy="322.49" r="1.4" fill="#c8102e"/>
<circle cx="258.40" cy="323.40" r="1.4" fill="#c8102e"/>
<circle cx="260.65" cy="324.33" r="1.4" fill="#c8102e"/>
<circle cx="260.20" cy="326.23" r="1.4" fill="#c8102e"/>
<circle cx="262.45" cy="326.30" r="1.4" fill="#c8102e"/>
<circle cx="257.95" cy="326.60" r="1.4" fill="#c8102e"/>
<circle cx="260.20" cy="330.26" r="1.4" fill="#c8102e"/>
<circle cx="262.00" cy="331.04" r="1.4" fill="#c8102e"/>
<circle cx="258.85" cy="331.80" r="1.4" fill="#c8102e"/>
<circle cx="273.50" cy="333.91" r="1.4" fill="#ff8c00"/>
<circle cx="274.85" cy="335.32" r="1.4" fill="#ff8c00"/>
<circle cx="272.60" cy="335.88" r="1.4" fill="#ff8c00"/>
<circle cx="273.50" cy="341.06" r="1.4" fill="#ff8c00"/>
<circle cx="275.75" cy="341.43" r="1.4" fill="#ff8c00"/>
<circle cx="273.50" cy="343.31" r="1.4" fill="#ff8c00"/>
<circle cx="275.75" cy="343.47" r="1.4" fill="#ff8c00"/>
<circle cx="272.15" cy="344.65" r="1.4" fill="#ff8c00"/>
<circle cx="269.90" cy="344.67" r="1.4" fill="#ff8c00"/>
<circle cx="274.40" cy="345.03" r="1.4" fill="#ff8c00"/>
<circle cx="276.20" cy="345.67" r="1.4" fill="#ff8c00"/>
<circle cx="273.50" cy="349.46" r="1.4" fill="#ff8c00"/>
<circle cx="275.75" cy="349.85" r="1.4" fill="#ff8c00"/>
<circle cx="271.70" cy="350.12" r="1.4" fill="#ff8c00"/>
<circle cx="269.90" cy="351.12" r="1.4" fill="#ff8c00"/>
<circle cx="273.50" cy="353.24" r="1.4" fill="#ff8c00"/>
<circle cx="273.50" cy="355.27" r="1.4" fill="#ff8c00"/>
<circle cx="275.30" cy="356.43" r="1.4" fill="#ff8c00"/>
<circle cx="272.15" cy="356.62" r="1.4" fill="#ff8c00"/>
<circle cx="270.35" cy="357.45" r="1.4" fill="#ff8c00"/>
<circle cx="277.10" cy="357.58" r="1.4" fill="#ff8c00"/>
<line x1="216.80" y1="346.90" x2="216.80" y2="352.20" stroke="#231f20" stroke-width="0.9" />
<line x1="214.30" y1="346.90" x2="219.30" y2="346.90" stroke="#231f20" stroke-width="0.9" />
<line x1="214.30" y1="352.20" x2="219.30" y2="352.20" stroke="#231f20" stroke-width="0.9" />
<line x1="260.60" y1="312.30" x2="260.60" y2="317.80" stroke="#231f20" stroke-width="0.9" />
<line x1="258.00" y1="312.30" x2="263.20" y2="312.30" stroke="#231f20" stroke-width="0.9" />
<line x1="258.00" y1="317.80" x2="263.20" y2="317.80" stroke="#231f20" stroke-width="0.9" />
<line x1="272.80" y1="345.00" x2="272.80" y2="348.10" stroke="#231f20" stroke-width="0.9" />
<line x1="270.30" y1="345.00" x2="275.30" y2="345.00" stroke="#231f20" stroke-width="0.9" />
<line x1="270.30" y1="348.10" x2="275.30" y2="348.10" stroke="#231f20" stroke-width="0.9" />
<line x1="261.10" y1="288.50" x2="272.50" y2="288.50" stroke="#2b2b2b" stroke-width="1.0" />
<line x1="261.10" y1="286.70" x2="261.10" y2="290.30" stroke="#2b2b2b" stroke-width="1.0" />
<line x1="272.50" y1="286.70" x2="272.50" y2="290.30" stroke="#2b2b2b" stroke-width="1.0" />
<ellipse cx="261.90" cy="284.20" rx="1.12" ry="0.95" fill="#262626"/>
<ellipse cx="265.17" cy="284.20" rx="1.12" ry="0.95" fill="#262626"/>
<ellipse cx="268.44" cy="284.20" rx="1.12" ry="0.95" fill="#262626"/>
<ellipse cx="271.71" cy="284.20" rx="1.12" ry="0.95" fill="#262626"/>
<line x1="233.10" y1="324.50" x2="246.40" y2="324.50" stroke="#2b2b2b" stroke-width="1.0" />
<line x1="233.10" y1="322.70" x2="233.10" y2="326.30" stroke="#2b2b2b" stroke-width="1.0" />
<line x1="246.40" y1="322.70" x2="246.40" y2="326.30" stroke="#2b2b2b" stroke-width="1.0" />
<ellipse cx="234.79" cy="320.30" rx="1.12" ry="0.95" fill="#262626"/>
<ellipse cx="238.06" cy="320.30" rx="1.12" ry="0.95" fill="#262626"/>
<ellipse cx="241.33" cy="320.30" rx="1.12" ry="0.95" fill="#262626"/>
<ellipse cx="244.60" cy="320.30" rx="1.12" ry="0.95" fill="#262626"/>
<text x="348.70" y="237.53" font-size="11.5" text-anchor="start" font-weight="bold" fill="#000" stroke="#000" stroke-width="0.18" >Gii</text>
<circle cx="360.00" cy="246.70" r="1.2" fill="#1b4f8b"/>
<text x="364.90" y="249.20" font-size="7.2" text-anchor="start" font-weight="normal" fill="#231f20" stroke="#231f20" stroke-width="0.18" >Basal CD11cCD42b<tspan font-size="4.8" dy="-2.8">+</tspan></text>
<circle cx="360.00" cy="258.10" r="1.2" fill="#39b54a"/>
<text x="364.70" y="260.60" font-size="7.2" text-anchor="start" font-weight="normal" fill="#231f20" stroke="#231f20" stroke-width="0.18" >Control IgG</text>
<circle cx="411.60" cy="258.10" r="1.2" fill="#5b2a7e"/>
<text x="416.30" y="260.60" font-size="7.2" text-anchor="start" font-weight="normal" fill="#231f20" stroke="#231f20" stroke-width="0.18" >CXCR7 agonist + control IgG</text>
<circle cx="360.00" cy="269.30" r="1.2" fill="#c8102e"/>
<text x="364.70" y="271.80" font-size="7.2" text-anchor="start" font-weight="normal" fill="#231f20" stroke="#231f20" stroke-width="0.18" >HIT IgG</text>
<circle cx="411.60" cy="269.30" r="1.2" fill="#ff8c00"/>
<text x="416.30" y="271.80" font-size="7.2" text-anchor="start" font-weight="normal" fill="#231f20" stroke="#231f20" stroke-width="0.18" >CXCR7 agonist + HIT IgG</text>
<line x1="384.50" y1="280.10" x2="384.50" y2="361.07" stroke="#111" stroke-width="1.15" />
<line x1="383.93" y1="360.50" x2="461.60" y2="360.50" stroke="#111" stroke-width="1.15" />
<line x1="381.50" y1="284.50" x2="384.50" y2="284.50" stroke="#111" stroke-width="1.15" />
<text x="378.30" y="287.31" font-size="8.6" text-anchor="end" font-weight="normal" fill="#231f20" stroke="#231f20" stroke-width="0.18" textLength="8.61" lengthAdjust="spacingAndGlyphs" >40</text>
<line x1="381.50" y1="322.50" x2="384.50" y2="322.50" stroke="#111" stroke-width="1.15" />
<text x="378.30" y="325.36" font-size="8.6" text-anchor="end" font-weight="normal" fill="#231f20" stroke="#231f20" stroke-width="0.18" textLength="8.61" lengthAdjust="spacingAndGlyphs" >20</text>
<line x1="381.50" y1="360.50" x2="384.50" y2="360.50" stroke="#111" stroke-width="1.15" />
<text x="378.30" y="363.41" font-size="8.6" text-anchor="end" font-weight="normal" fill="#231f20" stroke="#231f20" stroke-width="0.18" textLength="4.30" lengthAdjust="spacingAndGlyphs" >0</text>
<text transform="translate(358.40,320.00) rotate(-90)" font-size="8.0" text-anchor="middle" fill="#231f20" stroke="#231f20" stroke-width="0.2" textLength="78" lengthAdjust="spacingAndGlyphs">CD42b<tspan font-size="5.4" dy="-3.2">+</tspan><tspan dy="3.2"> aggregates (%)</tspan></text>
<rect x="389.25" y="349.75" width="9.90" height="10.65" fill="#7ea1c6" stroke="#688fb9" stroke-width="0.7"/>
<rect x="404.75" y="340.45" width="9.90" height="19.95" fill="#9ddba6" stroke="#87d392" stroke-width="0.7"/>
<rect x="417.85" y="352.15" width="9.60" height="8.25" fill="#a98bbf" stroke="#9876b1" stroke-width="0.7"/>
<rect x="433.05" y="321.65" width="9.40" height="38.75" fill="#e47b91" stroke="#de637b" stroke-width="0.7"/>
<rect x="445.75" y="345.35" width="9.80" height="15.05" fill="#ffc77f" stroke="#ffba63" stroke-width="0.7"/>
<circle cx="394.20" cy="334.85" r="1.4" fill="#1b4f8b"/>
<circle cx="394.20" cy="343.72" r="1.4" fill="#1b4f8b"/>
<circle cx="396.00" cy="345.06" r="1.4" fill="#1b4f8b"/>
<circle cx="392.85" cy="345.29" r="1.4" fill="#1b4f8b"/>
<circle cx="394.20" cy="347.11" r="1.4" fill="#1b4f8b"/>
<circle cx="396.45" cy="347.27" r="1.4" fill="#1b4f8b"/>
<circle cx="391.95" cy="347.59" r="1.4" fill="#1b4f8b"/>
<circle cx="395.10" cy="348.79" r="1.4" fill="#1b4f8b"/>
<circle cx="394.20" cy="351.76" r="1.4" fill="#1b4f8b"/>
<circle cx="396.45" cy="352.18" r="1.4" fill="#1b4f8b"/>
<circle cx="392.85" cy="353.18" r="1.4" fill="#1b4f8b"/>
<circle cx="390.60" cy="353.19" r="1.4" fill="#1b4f8b"/>
<circle cx="394.65" cy="354.17" r="1.4" fill="#1b4f8b"/>
<circle cx="409.70" cy="327.82" r="1.4" fill="#39b54a"/>
<circle cx="409.70" cy="330.24" r="1.4" fill="#39b54a"/>
<circle cx="411.95" cy="330.40" r="1.4" fill="#39b54a"/>
<circle cx="407.90" cy="331.16" r="1.4" fill="#39b54a"/>
<circle cx="413.75" cy="331.28" r="1.4" fill="#39b54a"/>
<circle cx="405.65" cy="331.50" r="1.4" fill="#39b54a"/>
<circle cx="413.31" cy="331.88" r="1.4" fill="#39b54a"/>
<circle cx="409.70" cy="333.60" r="1.4" fill="#39b54a"/>
<circle cx="409.70" cy="336.95" r="1.4" fill="#39b54a"/>
<circle cx="411.50" cy="337.99" r="1.4" fill="#39b54a"/>
<circle cx="409.70" cy="341.37" r="1.4" fill="#39b54a"/>
<circle cx="411.50" cy="342.56" r="1.4" fill="#39b54a"/>
<circle cx="409.70" cy="343.37" r="1.4" fill="#39b54a"/>
<circle cx="407.45" cy="343.59" r="1.4" fill="#39b54a"/>
<circle cx="413.30" cy="343.86" r="1.4" fill="#39b54a"/>
<circle cx="410.60" cy="345.04" r="1.4" fill="#39b54a"/>
<circle cx="409.70" cy="346.90" r="1.4" fill="#39b54a"/>
<circle cx="411.05" cy="348.52" r="1.4" fill="#39b54a"/>
<circle cx="409.70" cy="350.96" r="1.4" fill="#39b54a"/>
<circle cx="411.95" cy="351.27" r="1.4" fill="#39b54a"/>
<circle cx="407.90" cy="351.94" r="1.4" fill="#39b54a"/>
<circle cx="413.75" cy="352.33" r="1.4" fill="#39b54a"/>
<circle cx="406.10" cy="352.63" r="1.4" fill="#39b54a"/>
<circle cx="409.70" cy="352.91" r="1.4" fill="#39b54a"/>
<circle cx="422.65" cy="341.28" r="1.4" fill="#5b2a7e"/>
<circle cx="422.65" cy="343.35" r="1.4" fill="#5b2a7e"/>
<circle cx="422.65" cy="346.16" r="1.4" fill="#5b2a7e"/>
<circle cx="423.10" cy="348.04" r="1.4" fill="#5b2a7e"/>
<circle cx="420.85" cy="348.13" r="1.4" fill="#5b2a7e"/>
<circle cx="422.65" cy="350.41" r="1.4" fill="#5b2a7e"/>
<circle cx="424.45" cy="351.07" r="1.4" fill="#5b2a7e"/>
<circle cx="421.75" cy="352.19" r="1.4" fill="#5b2a7e"/>
<circle cx="419.50" cy="352.40" r="1.4" fill="#5b2a7e"/>
<circle cx="425.80" cy="352.50" r="1.4" fill="#5b2a7e"/>
<circle cx="420.02" cy="352.53" r="1.4" fill="#5b2a7e"/>
<circle cx="423.55" cy="352.89" r="1.4" fill="#5b2a7e"/>
<circle cx="419.98" cy="353.31" r="1.4" fill="#5b2a7e"/>
<circle cx="420.34" cy="353.97" r="1.4" fill="#5b2a7e"/>
<circle cx="422.65" cy="354.68" r="1.4" fill="#5b2a7e"/>
<circle cx="424.45" cy="355.41" r="1.4" fill="#5b2a7e"/>
<circle cx="419.05" cy="355.51" r="1.4" fill="#5b2a7e"/>
<circle cx="421.30" cy="356.21" r="1.4" fill="#5b2a7e"/>
<circle cx="426.25" cy="356.32" r="1.4" fill="#5b2a7e"/>
<circle cx="422.65" cy="357.78" r="1.4" fill="#5b2a7e"/>
<circle cx="424.90" cy="358.20" r="1.4" fill="#5b2a7e"/>
<circle cx="437.75" cy="303.50" r="1.4" fill="#c8102e"/>
<circle cx="439.55" cy="304.39" r="1.4" fill="#c8102e"/>
<circle cx="437.75" cy="305.70" r="1.4" fill="#c8102e"/>
<circle cx="439.55" cy="307.02" r="1.4" fill="#c8102e"/>
<circle cx="436.85" cy="307.49" r="1.4" fill="#c8102e"/>
<circle cx="434.60" cy="307.49" r="1.4" fill="#c8102e"/>
<circle cx="441.35" cy="308.29" r="1.4" fill="#c8102e"/>
<circle cx="438.20" cy="309.16" r="1.4" fill="#c8102e"/>
<circle cx="436.40" cy="309.92" r="1.4" fill="#c8102e"/>
<circle cx="440.00" cy="310.24" r="1.4" fill="#c8102e"/>
<circle cx="434.60" cy="310.55" r="1.4" fill="#c8102e"/>
<circle cx="437.75" cy="311.55" r="1.4" fill="#c8102e"/>
<circle cx="441.35" cy="311.61" r="1.4" fill="#c8102e"/>
<circle cx="435.95" cy="312.18" r="1.4" fill="#c8102e"/>
<circle cx="439.55" cy="312.77" r="1.4" fill="#c8102e"/>
<circle cx="440.54" cy="312.79" r="1.4" fill="#c8102e"/>
<circle cx="434.15" cy="313.38" r="1.4" fill="#c8102e"/>
<circle cx="437.75" cy="314.60" r="1.4" fill="#c8102e"/>
<circle cx="439.55" cy="315.34" r="1.4" fill="#c8102e"/>
<circle cx="437.75" cy="318.29" r="1.4" fill="#c8102e"/>
<circle cx="437.75" cy="320.55" r="1.4" fill="#c8102e"/>
<circle cx="440.00" cy="320.86" r="1.4" fill="#c8102e"/>
<circle cx="438.65" cy="322.34" r="1.4" fill="#c8102e"/>
<circle cx="437.75" cy="333.99" r="1.4" fill="#c8102e"/>
<circle cx="437.75" cy="340.22" r="1.4" fill="#c8102e"/>
<circle cx="438.20" cy="342.07" r="1.4" fill="#c8102e"/>
<circle cx="436.40" cy="342.69" r="1.4" fill="#c8102e"/>
<circle cx="450.65" cy="319.29" r="1.4" fill="#ff8c00"/>
<circle cx="450.65" cy="323.81" r="1.4" fill="#ff8c00"/>
<circle cx="450.65" cy="330.74" r="1.4" fill="#ff8c00"/>
<circle cx="452.45" cy="331.80" r="1.4" fill="#ff8c00"/>
<circle cx="449.30" cy="332.12" r="1.4" fill="#ff8c00"/>
<circle cx="450.65" cy="334.94" r="1.4" fill="#ff8c00"/>
<circle cx="452.45" cy="335.68" r="1.4" fill="#ff8c00"/>
<circle cx="450.65" cy="338.00" r="1.4" fill="#ff8c00"/>
<circle cx="452.90" cy="338.44" r="1.4" fill="#ff8c00"/>
<circle cx="448.85" cy="338.66" r="1.4" fill="#ff8c00"/>
<circle cx="450.65" cy="340.22" r="1.4" fill="#ff8c00"/>
<circle cx="452.45" cy="341.15" r="1.4" fill="#ff8c00"/>
<circle cx="450.65" cy="343.07" r="1.4" fill="#ff8c00"/>
<circle cx="450.65" cy="345.99" r="1.4" fill="#ff8c00"/>
<circle cx="452.00" cy="347.65" r="1.4" fill="#ff8c00"/>
<circle cx="450.20" cy="348.66" r="1.4" fill="#ff8c00"/>
<circle cx="452.00" cy="349.98" r="1.4" fill="#ff8c00"/>
<circle cx="450.65" cy="351.91" r="1.4" fill="#ff8c00"/>
<circle cx="452.90" cy="352.47" r="1.4" fill="#ff8c00"/>
<circle cx="448.85" cy="352.72" r="1.4" fill="#ff8c00"/>
<circle cx="450.65" cy="354.84" r="1.4" fill="#ff8c00"/>
<circle cx="452.45" cy="355.45" r="1.4" fill="#ff8c00"/>
<circle cx="448.85" cy="355.81" r="1.4" fill="#ff8c00"/>
<circle cx="454.25" cy="356.27" r="1.4" fill="#ff8c00"/>
<circle cx="450.65" cy="356.91" r="1.4" fill="#ff8c00"/>
<circle cx="447.50" cy="357.21" r="1.4" fill="#ff8c00"/>
<circle cx="452.45" cy="357.83" r="1.4" fill="#ff8c00"/>
<line x1="394.30" y1="346.10" x2="394.30" y2="350.70" stroke="#231f20" stroke-width="0.9" />
<line x1="391.80" y1="346.10" x2="396.80" y2="346.10" stroke="#231f20" stroke-width="0.9" />
<line x1="391.80" y1="350.70" x2="396.80" y2="350.70" stroke="#231f20" stroke-width="0.9" />
<line x1="409.80" y1="337.90" x2="409.80" y2="341.20" stroke="#231f20" stroke-width="0.9" />
<line x1="407.30" y1="337.90" x2="412.30" y2="337.90" stroke="#231f20" stroke-width="0.9" />
<line x1="407.30" y1="341.20" x2="412.30" y2="341.20" stroke="#231f20" stroke-width="0.9" />
<line x1="438.10" y1="317.50" x2="438.10" y2="322.40" stroke="#231f20" stroke-width="0.9" />
<line x1="435.50" y1="317.50" x2="440.70" y2="317.50" stroke="#231f20" stroke-width="0.9" />
<line x1="435.50" y1="322.40" x2="440.70" y2="322.40" stroke="#231f20" stroke-width="0.9" />
<line x1="450.60" y1="342.80" x2="450.60" y2="346.90" stroke="#231f20" stroke-width="0.9" />
<line x1="448.10" y1="342.80" x2="453.10" y2="342.80" stroke="#231f20" stroke-width="0.9" />
<line x1="448.10" y1="346.90" x2="453.10" y2="346.90" stroke="#231f20" stroke-width="0.9" />
<line x1="437.60" y1="296.50" x2="452.30" y2="296.50" stroke="#2b2b2b" stroke-width="1.0" />
<line x1="437.60" y1="294.70" x2="437.60" y2="298.30" stroke="#2b2b2b" stroke-width="1.0" />
<line x1="452.30" y1="294.70" x2="452.30" y2="298.30" stroke="#2b2b2b" stroke-width="1.0" />
<ellipse cx="441.63" cy="292.80" rx="1.12" ry="0.95" fill="#262626"/>
<ellipse cx="444.90" cy="292.80" rx="1.12" ry="0.95" fill="#262626"/>
<ellipse cx="448.17" cy="292.80" rx="1.12" ry="0.95" fill="#262626"/>
<line x1="408.60" y1="321.50" x2="422.50" y2="321.50" stroke="#2b2b2b" stroke-width="1.0" />
<line x1="408.60" y1="319.70" x2="408.60" y2="323.30" stroke="#2b2b2b" stroke-width="1.0" />
<line x1="422.50" y1="319.70" x2="422.50" y2="323.30" stroke="#2b2b2b" stroke-width="1.0" />
<ellipse cx="415.80" cy="318.40" rx="1.12" ry="0.95" fill="#262626"/>
<text x="7.00" y="388.63" font-size="11.5" text-anchor="start" font-weight="bold" fill="#000" stroke="#000" stroke-width="0.18" >H</text>
<line x1="53.50" y1="400.50" x2="53.50" y2="474.07" stroke="#111" stroke-width="1.15" />
<line x1="52.92" y1="473.50" x2="188.00" y2="473.50" stroke="#111" stroke-width="1.15" />
<line x1="50.50" y1="403.50" x2="53.50" y2="403.50" stroke="#111" stroke-width="1.15" />
<text x="47.60" y="406.81" font-size="8.6" text-anchor="end" font-weight="normal" fill="#231f20" stroke="#231f20" stroke-width="0.18" textLength="25.82" lengthAdjust="spacingAndGlyphs" >140000</text>
<line x1="50.50" y1="436.50" x2="53.50" y2="436.50" stroke="#111" stroke-width="1.15" />
<text x="47.60" y="439.21" font-size="8.6" text-anchor="end" font-weight="normal" fill="#231f20" stroke="#231f20" stroke-width="0.18" textLength="21.52" lengthAdjust="spacingAndGlyphs" >70000</text>
<line x1="50.50" y1="468.50" x2="53.50" y2="468.50" stroke="#111" stroke-width="1.15" />
<text x="47.60" y="471.61" font-size="8.6" text-anchor="end" font-weight="normal" fill="#231f20" stroke="#231f20" stroke-width="0.18" textLength="4.30" lengthAdjust="spacingAndGlyphs" >0</text>
<line x1="54.50" y1="468.60" x2="188.00" y2="468.60" stroke="#333" stroke-width="0.9" stroke-dasharray="0.9 1.3"/>
<text transform="translate(16.60,437.30) rotate(-90)" font-size="8.4" text-anchor="middle" fill="#231f20" stroke="#231f20" stroke-width="0.2" textLength="66.9" lengthAdjust="spacingAndGlyphs">Concentration pg/ml</text>
<line x1="63.42" y1="391.50" x2="102.78" y2="391.50" stroke="#1a1a1a" stroke-width="1.3" />
<polygon points="59.90,391.50 64.30,389.50 64.30,393.50" fill="#1a1a1a"/>
<polygon points="106.30,391.50 101.90,389.50 101.90,393.50" fill="#1a1a1a"/>
<text x="83.00" y="401.50" font-size="7.4" text-anchor="middle" font-weight="normal" fill="#333" stroke="#333" stroke-width="0.18" textLength="34.1" lengthAdjust="spacingAndGlyphs" >P-selectin</text>
<line x1="133.32" y1="392.50" x2="173.08" y2="392.50" stroke="#1a1a1a" stroke-width="1.3" />
<polygon points="129.80,392.50 134.20,390.50 134.20,394.50" fill="#1a1a1a"/>
<polygon points="176.60,392.50 172.20,390.50 172.20,394.50" fill="#1a1a1a"/>
<text x="153.40" y="402.00" font-size="7.4" text-anchor="middle" font-weight="normal" fill="#333" stroke="#333" stroke-width="0.18" textLength="24.4" lengthAdjust="spacingAndGlyphs" >CD40L</text>
<polygon points="65.40,429.90 65.50,430.17 65.64,430.55 65.81,430.99 66.00,431.49 66.20,432.00 66.40,432.53 66.62,433.11 66.86,433.72 67.12,434.35 67.40,435.00 67.73,435.68 68.10,436.41 68.48,437.15 68.86,437.86 69.20,438.50 69.52,439.06 69.82,439.55 70.10,440.01 70.36,440.48 70.60,441.00 70.81,441.52 71.00,442.02 71.17,442.56 71.30,443.20 71.40,444.00 71.45,445.02 71.47,446.23 71.45,447.53 71.43,448.82 71.40,450.00 71.39,451.09 71.39,452.14 71.37,453.16 71.31,454.11 71.20,455.00 71.02,455.80 70.78,456.51 70.50,457.17 70.20,457.82 69.90,458.50 69.58,459.20 69.23,459.90 68.87,460.60 68.52,461.30 68.20,462.00 67.90,462.72 67.62,463.45 67.36,464.17 67.12,464.86 66.90,465.50 66.72,466.07 66.58,466.60 66.46,467.08 66.34,467.55 66.20,468.00 66.03,468.46 65.85,468.93 65.67,469.37 65.51,469.74 65.40,470.00 65.40,470.00 65.29,469.74 65.13,469.37 64.95,468.93 64.77,468.46 64.60,468.00 64.46,467.55 64.34,467.08 64.22,466.60 64.08,466.07 63.90,465.50 63.68,464.86 63.44,464.17 63.18,463.45 62.90,462.72 62.60,462.00 62.28,461.30 61.93,460.60 61.57,459.90 61.22,459.20 60.90,458.50 60.60,457.82 60.30,457.17 60.02,456.51 59.78,455.80 59.60,455.00 59.49,454.11 59.43,453.16 59.41,452.14 59.41,451.09 59.40,450.00 59.37,448.82 59.35,447.53 59.33,446.23 59.35,445.02 59.40,444.00 59.50,443.20 59.63,442.56 59.80,442.02 59.99,441.52 60.20,441.00 60.44,440.48 60.70,440.01 60.98,439.55 61.28,439.06 61.60,438.50 61.94,437.86 62.32,437.15 62.70,436.41 63.07,435.68 63.40,435.00 63.68,434.35 63.94,433.72 64.18,433.11 64.40,432.53 64.60,432.00 64.80,431.49 64.99,430.99 65.16,430.55 65.30,430.17 65.40,429.90" fill="#7399c3" stroke="#1a1a1a" stroke-width="0.95" stroke-linejoin="round"/>
<circle cx="63.09" cy="437.74" r="0.42" fill="#1b4f8b"/>
<circle cx="61.73" cy="439.45" r="0.42" fill="#1b4f8b"/>
<circle cx="66.79" cy="439.61" r="0.42" fill="#1b4f8b"/>
<circle cx="62.84" cy="441.01" r="0.42" fill="#1b4f8b"/>
<circle cx="64.45" cy="441.58" r="0.42" fill="#1b4f8b"/>
<circle cx="60.39" cy="443.28" r="0.42" fill="#1b4f8b"/>
<circle cx="63.65" cy="443.00" r="0.42" fill="#1b4f8b"/>
<circle cx="69.14" cy="443.26" r="0.42" fill="#1b4f8b"/>
<circle cx="60.08" cy="444.60" r="0.42" fill="#1b4f8b"/>
<circle cx="65.64" cy="444.84" r="0.42" fill="#1b4f8b"/>
<circle cx="69.14" cy="444.59" r="0.42" fill="#1b4f8b"/>
<circle cx="61.87" cy="446.56" r="0.42" fill="#1b4f8b"/>
<circle cx="64.01" cy="446.40" r="0.42" fill="#1b4f8b"/>
<circle cx="65.27" cy="446.35" r="0.42" fill="#1b4f8b"/>
<circle cx="60.30" cy="447.93" r="0.42" fill="#1b4f8b"/>
<circle cx="63.49" cy="447.84" r="0.42" fill="#1b4f8b"/>
<circle cx="65.31" cy="450.06" r="0.42" fill="#1b4f8b"/>
<circle cx="68.99" cy="449.73" r="0.42" fill="#1b4f8b"/>
<circle cx="63.51" cy="451.37" r="0.42" fill="#1b4f8b"/>
<circle cx="69.19" cy="451.32" r="0.42" fill="#1b4f8b"/>
<circle cx="67.22" cy="453.12" r="0.42" fill="#1b4f8b"/>
<circle cx="60.51" cy="455.14" r="0.42" fill="#1b4f8b"/>
<circle cx="62.23" cy="455.09" r="0.42" fill="#1b4f8b"/>
<circle cx="65.41" cy="454.64" r="0.42" fill="#1b4f8b"/>
<circle cx="69.24" cy="455.14" r="0.42" fill="#1b4f8b"/>
<circle cx="63.03" cy="456.67" r="0.42" fill="#1b4f8b"/>
<circle cx="64.59" cy="456.49" r="0.42" fill="#1b4f8b"/>
<circle cx="65.86" cy="456.75" r="0.42" fill="#1b4f8b"/>
<circle cx="63.35" cy="458.29" r="0.42" fill="#1b4f8b"/>
<circle cx="62.58" cy="460.00" r="0.42" fill="#1b4f8b"/>
<circle cx="66.20" cy="460.14" r="0.42" fill="#1b4f8b"/>
<circle cx="66.75" cy="461.62" r="0.42" fill="#1b4f8b"/>
<circle cx="65.68" cy="463.55" r="0.42" fill="#1b4f8b"/>
<circle cx="64.50" cy="464.82" r="0.42" fill="#1b4f8b"/>
<line x1="59.40" y1="449.80" x2="71.40" y2="449.80" stroke="#222" stroke-width="0.7" />
<line x1="59.50" y1="443.20" x2="71.30" y2="443.20" stroke="#333" stroke-width="0.55" stroke-dasharray="0.9 0.7"/>
<line x1="59.78" y1="455.80" x2="71.02" y2="455.80" stroke="#333" stroke-width="0.55" stroke-dasharray="0.9 0.7"/>
<polygon points="79.50,451.10 79.77,451.42 80.16,451.85 80.59,452.37 81.00,452.94 81.30,453.50 81.49,454.09 81.61,454.73 81.68,455.39 81.71,456.03 81.70,456.60 81.57,457.08 81.32,457.49 81.07,457.88 80.95,458.30 81.10,458.80 81.66,459.39 82.56,460.04 83.56,460.72 84.42,461.42 84.90,462.10 84.94,462.79 84.68,463.50 84.25,464.20 83.75,464.88 83.30,465.50 82.87,466.07 82.39,466.59 81.90,467.08 81.42,467.55 81.00,468.00 80.62,468.46 80.27,468.93 79.95,469.37 79.69,469.74 79.50,470.00 79.50,470.00 79.31,469.74 79.05,469.37 78.73,468.93 78.38,468.46 78.00,468.00 77.58,467.55 77.10,467.08 76.61,466.59 76.13,466.07 75.70,465.50 75.25,464.88 74.75,464.20 74.32,463.50 74.06,462.79 74.10,462.10 74.58,461.42 75.44,460.72 76.44,460.04 77.34,459.39 77.90,458.80 78.05,458.30 77.93,457.88 77.68,457.49 77.43,457.08 77.30,456.60 77.29,456.03 77.32,455.39 77.39,454.73 77.51,454.09 77.70,453.50 78.00,452.94 78.41,452.37 78.84,451.85 79.23,451.42 79.50,451.10" fill="#8ade94" stroke="#1a1a1a" stroke-width="0.95" stroke-linejoin="round"/>
<circle cx="79.76" cy="452.53" r="0.42" fill="#39b54a"/>
<circle cx="79.99" cy="453.76" r="0.42" fill="#39b54a"/>
<circle cx="80.27" cy="457.47" r="0.42" fill="#39b54a"/>
<circle cx="79.95" cy="460.68" r="0.42" fill="#39b54a"/>
<circle cx="78.33" cy="462.35" r="0.42" fill="#39b54a"/>
<circle cx="80.41" cy="462.55" r="0.42" fill="#39b54a"/>
<circle cx="81.82" cy="462.80" r="0.42" fill="#39b54a"/>
<circle cx="75.94" cy="464.29" r="0.42" fill="#39b54a"/>
<circle cx="79.14" cy="464.39" r="0.42" fill="#39b54a"/>
<circle cx="76.88" cy="465.67" r="0.42" fill="#39b54a"/>
<circle cx="78.99" cy="465.95" r="0.42" fill="#39b54a"/>
<line x1="74.10" y1="462.10" x2="84.90" y2="462.10" stroke="#222" stroke-width="0.7" />
<line x1="94.00" y1="403.90" x2="94.00" y2="432.50" stroke="#1a1a1a" stroke-width="1.0" />
<polygon points="94.00,432.50 94.19,432.76 94.46,433.13 94.78,433.57 95.07,434.04 95.30,434.50 95.46,434.93 95.57,435.34 95.66,435.80 95.73,436.33 95.80,437.00 95.86,437.86 95.89,438.87 95.92,439.95 95.95,441.02 96.00,442.00 96.06,442.88 96.11,443.72 96.18,444.52 96.27,445.28 96.40,446.00 96.57,446.66 96.77,447.27 97.00,447.85 97.24,448.42 97.50,449.00 97.79,449.58 98.10,450.15 98.43,450.73 98.74,451.34 99.00,452.00 99.21,452.74 99.40,453.53 99.56,454.35 99.69,455.18 99.80,456.00 99.89,456.82 99.97,457.65 100.02,458.47 100.03,459.26 100.00,460.00 99.93,460.66 99.82,461.27 99.67,461.85 99.47,462.42 99.20,463.00 98.86,463.60 98.46,464.19 98.00,464.79 97.51,465.39 97.00,466.00 96.40,466.68 95.71,467.42 95.02,468.14 94.42,468.76 94.00,469.20 94.00,469.20 93.58,468.76 92.98,468.14 92.29,467.42 91.60,466.68 91.00,466.00 90.49,465.39 90.00,464.79 89.54,464.19 89.14,463.60 88.80,463.00 88.53,462.42 88.33,461.85 88.18,461.27 88.07,460.66 88.00,460.00 87.97,459.26 87.98,458.47 88.03,457.65 88.11,456.82 88.20,456.00 88.31,455.18 88.44,454.35 88.60,453.53 88.79,452.74 89.00,452.00 89.26,451.34 89.57,450.73 89.90,450.15 90.21,449.58 90.50,449.00 90.76,448.42 91.00,447.85 91.23,447.27 91.43,446.66 91.60,446.00 91.73,445.28 91.82,444.52 91.89,443.72 91.94,442.88 92.00,442.00 92.05,441.02 92.08,439.95 92.11,438.87 92.14,437.86 92.20,437.00 92.27,436.33 92.34,435.80 92.43,435.34 92.54,434.93 92.70,434.50 92.93,434.04 93.22,433.57 93.54,433.13 93.81,432.76 94.00,432.50" fill="#ec7389" stroke="#1a1a1a" stroke-width="0.95" stroke-linejoin="round"/>
<circle cx="93.36" cy="437.37" r="0.42" fill="#c8102e"/>
<circle cx="93.17" cy="438.87" r="0.42" fill="#c8102e"/>
<circle cx="94.73" cy="438.58" r="0.42" fill="#c8102e"/>
<circle cx="92.92" cy="440.56" r="0.42" fill="#c8102e"/>
<circle cx="92.69" cy="442.10" r="0.42" fill="#c8102e"/>
<circle cx="92.76" cy="443.72" r="0.42" fill="#c8102e"/>
<circle cx="94.13" cy="445.54" r="0.42" fill="#c8102e"/>
<circle cx="95.42" cy="447.42" r="0.42" fill="#c8102e"/>
<circle cx="93.08" cy="449.27" r="0.42" fill="#c8102e"/>
<circle cx="94.94" cy="448.91" r="0.42" fill="#c8102e"/>
<circle cx="97.52" cy="450.52" r="0.42" fill="#c8102e"/>
<circle cx="90.12" cy="452.35" r="0.42" fill="#c8102e"/>
<circle cx="89.20" cy="454.13" r="0.42" fill="#c8102e"/>
<circle cx="94.66" cy="454.02" r="0.42" fill="#c8102e"/>
<circle cx="97.86" cy="454.11" r="0.42" fill="#c8102e"/>
<circle cx="90.92" cy="455.98" r="0.42" fill="#c8102e"/>
<circle cx="94.10" cy="456.07" r="0.42" fill="#c8102e"/>
<circle cx="89.30" cy="457.43" r="0.42" fill="#c8102e"/>
<circle cx="96.01" cy="457.33" r="0.42" fill="#c8102e"/>
<circle cx="92.20" cy="459.14" r="0.42" fill="#c8102e"/>
<circle cx="97.32" cy="459.33" r="0.42" fill="#c8102e"/>
<circle cx="90.85" cy="461.05" r="0.42" fill="#c8102e"/>
<circle cx="92.72" cy="460.67" r="0.42" fill="#c8102e"/>
<circle cx="89.57" cy="462.65" r="0.42" fill="#c8102e"/>
<circle cx="98.19" cy="462.59" r="0.42" fill="#c8102e"/>
<circle cx="90.78" cy="464.47" r="0.42" fill="#c8102e"/>
<circle cx="94.01" cy="464.06" r="0.42" fill="#c8102e"/>
<circle cx="95.68" cy="464.06" r="0.42" fill="#c8102e"/>
<circle cx="95.48" cy="465.75" r="0.42" fill="#c8102e"/>
<line x1="88.23" y1="455.80" x2="99.77" y2="455.80" stroke="#222" stroke-width="0.7" />
<circle cx="94.00" cy="414.10" r="0.9" fill="#c8102e"/>
<line x1="108.30" y1="466.80" x2="108.30" y2="472.80" stroke="#1a1a1a" stroke-width="1.0" />
<polygon points="108.30,430.60 108.40,430.92 108.53,431.36 108.69,431.88 108.86,432.44 109.00,433.00 109.13,433.55 109.25,434.11 109.37,434.70 109.49,435.33 109.60,436.00 109.71,436.74 109.83,437.53 109.94,438.35 110.03,439.18 110.10,440.00 110.13,440.80 110.13,441.60 110.12,442.40 110.10,443.20 110.10,444.00 110.11,444.81 110.11,445.62 110.13,446.44 110.15,447.23 110.20,448.00 110.26,448.73 110.34,449.44 110.44,450.12 110.56,450.81 110.70,451.50 110.87,452.21 111.07,452.92 111.29,453.64 111.53,454.33 111.80,455.00 112.12,455.63 112.48,456.24 112.86,456.82 113.21,457.41 113.50,458.00 113.75,458.61 113.97,459.22 114.15,459.84 114.27,460.43 114.30,461.00 114.24,461.54 114.10,462.06 113.89,462.56 113.62,463.04 113.30,463.50 112.90,463.94 112.41,464.37 111.87,464.77 111.32,465.15 110.80,465.50 110.26,465.83 109.68,466.13 109.12,466.41 108.64,466.63 108.30,466.80 108.30,466.80 107.96,466.63 107.48,466.41 106.92,466.13 106.34,465.83 105.80,465.50 105.28,465.15 104.73,464.77 104.19,464.37 103.70,463.94 103.30,463.50 102.98,463.04 102.71,462.56 102.50,462.06 102.36,461.54 102.30,461.00 102.33,460.43 102.45,459.84 102.63,459.22 102.85,458.61 103.10,458.00 103.39,457.41 103.74,456.82 104.12,456.24 104.48,455.63 104.80,455.00 105.07,454.33 105.31,453.64 105.53,452.92 105.73,452.21 105.90,451.50 106.04,450.81 106.16,450.12 106.26,449.44 106.34,448.73 106.40,448.00 106.45,447.23 106.47,446.44 106.49,445.62 106.49,444.81 106.50,444.00 106.50,443.20 106.48,442.40 106.47,441.60 106.47,440.80 106.50,440.00 106.57,439.18 106.66,438.35 106.77,437.53 106.89,436.74 107.00,436.00 107.11,435.33 107.23,434.70 107.35,434.11 107.47,433.55 107.60,433.00 107.74,432.44 107.91,431.88 108.07,431.36 108.20,430.92 108.30,430.60" fill="#a582bf" stroke="#1a1a1a" stroke-width="0.95" stroke-linejoin="round"/>
<circle cx="107.63" cy="438.53" r="0.42" fill="#5b2a7e"/>
<circle cx="107.69" cy="442.30" r="0.42" fill="#5b2a7e"/>
<circle cx="107.74" cy="447.10" r="0.42" fill="#5b2a7e"/>
<circle cx="107.27" cy="450.76" r="0.42" fill="#5b2a7e"/>
<circle cx="108.71" cy="450.65" r="0.42" fill="#5b2a7e"/>
<circle cx="106.97" cy="452.06" r="0.42" fill="#5b2a7e"/>
<circle cx="106.22" cy="454.15" r="0.42" fill="#5b2a7e"/>
<circle cx="107.78" cy="453.90" r="0.42" fill="#5b2a7e"/>
<circle cx="109.34" cy="453.71" r="0.42" fill="#5b2a7e"/>
<circle cx="105.76" cy="455.71" r="0.42" fill="#5b2a7e"/>
<circle cx="109.07" cy="455.37" r="0.42" fill="#5b2a7e"/>
<circle cx="105.71" cy="459.08" r="0.42" fill="#5b2a7e"/>
<circle cx="110.80" cy="459.05" r="0.42" fill="#5b2a7e"/>
<circle cx="106.86" cy="460.43" r="0.42" fill="#5b2a7e"/>
<circle cx="110.20" cy="460.99" r="0.42" fill="#5b2a7e"/>
<circle cx="105.04" cy="462.12" r="0.42" fill="#5b2a7e"/>
<circle cx="107.11" cy="462.36" r="0.42" fill="#5b2a7e"/>
<circle cx="111.98" cy="462.49" r="0.42" fill="#5b2a7e"/>
<circle cx="104.59" cy="464.01" r="0.42" fill="#5b2a7e"/>
<circle cx="106.50" cy="463.93" r="0.42" fill="#5b2a7e"/>
<circle cx="111.76" cy="464.08" r="0.42" fill="#5b2a7e"/>
<circle cx="107.56" cy="465.65" r="0.42" fill="#5b2a7e"/>
<circle cx="108.76" cy="465.88" r="0.42" fill="#5b2a7e"/>
<line x1="102.33" y1="461.30" x2="114.27" y2="461.30" stroke="#222" stroke-width="0.7" />
<ellipse cx="77.86" cy="446.70" rx="1.12" ry="0.95" fill="#262626"/>
<ellipse cx="81.13" cy="446.70" rx="1.12" ry="0.95" fill="#262626"/>
<ellipse cx="108.30" cy="426.70" rx="1.12" ry="0.95" fill="#262626"/>
<polygon points="131.30,455.00 131.52,455.20 131.84,455.49 132.20,455.83 132.54,456.18 132.80,456.50 132.96,456.80 133.06,457.10 133.13,457.40 133.20,457.70 133.30,458.00 133.43,458.29 133.56,458.58 133.71,458.86 133.88,459.17 134.10,459.50 134.38,459.88 134.73,460.29 135.09,460.71 135.43,461.12 135.70,461.50 135.91,461.83 136.10,462.14 136.24,462.42 136.31,462.71 136.30,463.00 136.18,463.29 135.98,463.58 135.71,463.86 135.41,464.17 135.10,464.50 134.77,464.87 134.39,465.26 134.01,465.68 133.63,466.09 133.30,466.50 133.02,466.91 132.76,467.32 132.52,467.74 132.30,468.13 132.10,468.50 131.90,468.86 131.71,469.21 131.54,469.53 131.40,469.80 131.30,470.00 131.30,470.00 131.20,469.80 131.06,469.53 130.89,469.21 130.70,468.86 130.50,468.50 130.30,468.13 130.08,467.74 129.84,467.32 129.58,466.91 129.30,466.50 128.97,466.09 128.59,465.68 128.21,465.26 127.83,464.87 127.50,464.50 127.19,464.17 126.89,463.86 126.62,463.58 126.42,463.29 126.30,463.00 126.29,462.71 126.36,462.42 126.50,462.14 126.69,461.83 126.90,461.50 127.17,461.12 127.51,460.71 127.87,460.29 128.22,459.88 128.50,459.50 128.72,459.17 128.89,458.86 129.04,458.58 129.17,458.29 129.30,458.00 129.40,457.70 129.47,457.40 129.54,457.10 129.64,456.80 129.80,456.50 130.06,456.18 130.40,455.83 130.76,455.49 131.08,455.20 131.30,455.00" fill="#7399c3" stroke="#1a1a1a" stroke-width="0.95" stroke-linejoin="round"/>
<circle cx="129.13" cy="459.69" r="0.42" fill="#1b4f8b"/>
<circle cx="127.54" cy="462.73" r="0.42" fill="#1b4f8b"/>
<circle cx="132.14" cy="463.17" r="0.42" fill="#1b4f8b"/>
<circle cx="134.13" cy="463.26" r="0.42" fill="#1b4f8b"/>
<circle cx="128.50" cy="464.76" r="0.42" fill="#1b4f8b"/>
<circle cx="130.10" cy="466.28" r="0.42" fill="#1b4f8b"/>
<circle cx="132.15" cy="466.57" r="0.42" fill="#1b4f8b"/>
<line x1="140.10" y1="468.30" x2="151.50" y2="468.30" stroke="#39b54a" stroke-width="1.7" />
<line x1="169.10" y1="468.30" x2="180.60" y2="468.30" stroke="#5b2a7e" stroke-width="1.7" />
<ellipse cx="142.73" cy="464.90" rx="1.12" ry="0.95" fill="#262626"/>
<ellipse cx="146.00" cy="464.90" rx="1.12" ry="0.95" fill="#262626"/>
<ellipse cx="149.27" cy="464.90" rx="1.12" ry="0.95" fill="#262626"/>
<ellipse cx="170.09" cy="464.90" rx="1.12" ry="0.95" fill="#262626"/>
<ellipse cx="173.37" cy="464.90" rx="1.12" ry="0.95" fill="#262626"/>
<ellipse cx="176.63" cy="464.90" rx="1.12" ry="0.95" fill="#262626"/>
<ellipse cx="179.91" cy="464.90" rx="1.12" ry="0.95" fill="#262626"/>
<line x1="160.60" y1="435.70" x2="160.60" y2="444.00" stroke="#1a1a1a" stroke-width="1.0" />
<line x1="160.60" y1="467.60" x2="160.60" y2="472.80" stroke="#1a1a1a" stroke-width="1.0" />
<polygon points="160.60,444.00 160.73,444.26 160.92,444.63 161.14,445.07 161.37,445.54 161.60,446.00 161.83,446.47 162.06,446.96 162.30,447.48 162.55,447.99 162.80,448.50 163.05,448.99 163.31,449.48 163.58,449.96 163.84,450.47 164.10,451.00 164.36,451.57 164.63,452.16 164.90,452.78 165.16,453.39 165.40,454.00 165.63,454.61 165.86,455.22 166.07,455.84 166.26,456.43 166.40,457.00 166.51,457.53 166.60,458.04 166.64,458.52 166.65,459.01 166.60,459.50 166.50,459.99 166.34,460.48 166.14,460.96 165.90,461.47 165.60,462.00 165.25,462.57 164.84,463.18 164.38,463.80 163.90,464.42 163.40,465.00 162.83,465.59 162.19,466.19 161.55,466.77 160.99,467.25 160.60,467.60 160.60,467.60 160.21,467.25 159.65,466.77 159.01,466.19 158.37,465.59 157.80,465.00 157.30,464.42 156.82,463.80 156.36,463.18 155.95,462.57 155.60,462.00 155.30,461.47 155.06,460.96 154.86,460.48 154.70,459.99 154.60,459.50 154.55,459.01 154.56,458.52 154.60,458.04 154.69,457.53 154.80,457.00 154.94,456.43 155.13,455.84 155.34,455.22 155.57,454.61 155.80,454.00 156.04,453.39 156.30,452.78 156.57,452.16 156.84,451.57 157.10,451.00 157.36,450.47 157.62,449.96 157.89,449.48 158.15,448.99 158.40,448.50 158.65,447.99 158.90,447.48 159.14,446.96 159.37,446.47 159.60,446.00 159.83,445.54 160.06,445.07 160.28,444.63 160.47,444.26 160.60,444.00" fill="#ec7389" stroke="#1a1a1a" stroke-width="0.95" stroke-linejoin="round"/>
<circle cx="160.38" cy="447.05" r="0.42" fill="#c8102e"/>
<circle cx="159.91" cy="450.14" r="0.42" fill="#c8102e"/>
<circle cx="161.75" cy="450.45" r="0.42" fill="#c8102e"/>
<circle cx="162.77" cy="451.96" r="0.42" fill="#c8102e"/>
<circle cx="160.40" cy="453.98" r="0.42" fill="#c8102e"/>
<circle cx="162.25" cy="453.41" r="0.42" fill="#c8102e"/>
<circle cx="163.56" cy="453.85" r="0.42" fill="#c8102e"/>
<circle cx="159.91" cy="455.30" r="0.42" fill="#c8102e"/>
<circle cx="161.62" cy="455.48" r="0.42" fill="#c8102e"/>
<circle cx="158.78" cy="458.87" r="0.42" fill="#c8102e"/>
<circle cx="160.90" cy="458.59" r="0.42" fill="#c8102e"/>
<circle cx="162.12" cy="459.06" r="0.42" fill="#c8102e"/>
<circle cx="155.58" cy="460.22" r="0.42" fill="#c8102e"/>
<circle cx="164.42" cy="460.42" r="0.42" fill="#c8102e"/>
<circle cx="162.04" cy="462.45" r="0.42" fill="#c8102e"/>
<circle cx="157.72" cy="463.67" r="0.42" fill="#c8102e"/>
<circle cx="159.80" cy="464.09" r="0.42" fill="#c8102e"/>
<circle cx="160.84" cy="465.36" r="0.42" fill="#c8102e"/>
<line x1="154.55" y1="458.90" x2="166.65" y2="458.90" stroke="#222" stroke-width="0.7" />
<line x1="155.61" y1="454.50" x2="165.59" y2="454.50" stroke="#333" stroke-width="0.55" stroke-dasharray="0.9 0.7"/>
<line x1="155.91" y1="462.50" x2="165.29" y2="462.50" stroke="#333" stroke-width="0.55" stroke-dasharray="0.9 0.7"/>
<circle cx="160.60" cy="440.80" r="0.9" fill="#c8102e"/>
<text x="160.60" y="432.90" font-size="6.6" text-anchor="middle" font-weight="normal" fill="#444" stroke="#444" stroke-width="0.12" font-style="italic">#</text>
<rect x="189.80" y="410.50" width="4.0" height="4.0" fill="#1b4f8b"/>
<text x="197.30" y="414.80" font-size="7.6" text-anchor="start" font-weight="normal" fill="#231f20" stroke="#231f20" stroke-width="0.18" >Control IgG</text>
<rect x="189.80" y="419.90" width="4.0" height="4.0" fill="#39b54a"/>
<text x="197.30" y="424.20" font-size="7.6" text-anchor="start" font-weight="normal" fill="#231f20" stroke="#231f20" stroke-width="0.18" >CXCR7 agonist</text>
<text x="197.30" y="433.10" font-size="7.6" text-anchor="start" font-weight="normal" fill="#231f20" stroke="#231f20" stroke-width="0.18" >+ control IgG</text>
<rect x="189.80" y="437.30" width="4.0" height="4.0" fill="#c8102e"/>
<text x="197.30" y="441.60" font-size="7.6" text-anchor="start" font-weight="normal" fill="#231f20" stroke="#231f20" stroke-width="0.18" >HIT IgG</text>
<rect x="189.80" y="447.20" width="4.0" height="4.0" fill="#5b2a7e"/>
<text x="197.30" y="451.50" font-size="7.6" text-anchor="start" font-weight="normal" fill="#231f20" stroke="#231f20" stroke-width="0.18" >CXCR7 agonist</text>
<text x="197.30" y="460.20" font-size="7.6" text-anchor="start" font-weight="normal" fill="#231f20" stroke="#231f20" stroke-width="0.18" >+ HIT IgG</text>
<line x1="328.50" y1="399.60" x2="328.50" y2="474.07" stroke="#111" stroke-width="1.15" />
<line x1="327.93" y1="473.50" x2="396.60" y2="473.50" stroke="#111" stroke-width="1.15" />
<line x1="325.50" y1="402.50" x2="328.50" y2="402.50" stroke="#111" stroke-width="1.15" />
<text x="322.40" y="405.61" font-size="8.6" text-anchor="end" font-weight="normal" fill="#231f20" stroke="#231f20" stroke-width="0.18" textLength="17.22" lengthAdjust="spacingAndGlyphs" >3000</text>
<line x1="325.50" y1="422.50" x2="328.50" y2="422.50" stroke="#111" stroke-width="1.15" />
<text x="322.40" y="425.71" font-size="8.6" text-anchor="end" font-weight="normal" fill="#231f20" stroke="#231f20" stroke-width="0.18" textLength="17.22" lengthAdjust="spacingAndGlyphs" >2000</text>
<line x1="325.50" y1="442.50" x2="328.50" y2="442.50" stroke="#111" stroke-width="1.15" />
<text x="322.40" y="445.81" font-size="8.6" text-anchor="end" font-weight="normal" fill="#231f20" stroke="#231f20" stroke-width="0.18" textLength="17.22" lengthAdjust="spacingAndGlyphs" >1000</text>
<line x1="325.50" y1="462.50" x2="328.50" y2="462.50" stroke="#111" stroke-width="1.15" />
<text x="322.40" y="465.91" font-size="8.6" text-anchor="end" font-weight="normal" fill="#231f20" stroke="#231f20" stroke-width="0.18" textLength="4.30" lengthAdjust="spacingAndGlyphs" >0</text>
<line x1="329.40" y1="462.90" x2="396.60" y2="462.90" stroke="#333" stroke-width="0.9" stroke-dasharray="0.9 1.3"/>
<text transform="translate(298.60,435.70) rotate(-90)" font-size="8.4" text-anchor="middle" fill="#231f20" stroke="#231f20" stroke-width="0.2" textLength="68.1" lengthAdjust="spacingAndGlyphs">Concentration pg/ml</text>
<line x1="341.22" y1="393.50" x2="383.28" y2="393.50" stroke="#1a1a1a" stroke-width="1.3" />
<polygon points="337.70,393.50 342.10,391.50 342.10,395.50" fill="#1a1a1a"/>
<polygon points="386.80,393.50 382.40,391.50 382.40,395.50" fill="#1a1a1a"/>
<text x="355.60" y="402.90" font-size="7.4" text-anchor="middle" font-weight="normal" fill="#333" stroke="#333" stroke-width="0.18" >TF</text>
<text x="369.80" y="403.40" font-size="6.6" text-anchor="middle" font-weight="normal" fill="#444" stroke="#444" stroke-width="0.12" font-style="italic">##</text>
<polygon points="340.00,452.80 340.13,452.89 340.32,453.02 340.54,453.16 340.77,453.33 341.00,453.50 341.21,453.68 341.41,453.88 341.63,454.09 341.89,454.30 342.20,454.50 342.61,454.70 343.10,454.90 343.62,455.10 344.11,455.30 344.50,455.50 344.80,455.70 345.03,455.90 345.22,456.10 345.37,456.30 345.50,456.50 345.60,456.70 345.66,456.90 345.69,457.10 345.70,457.30 345.70,457.50 345.69,457.70 345.67,457.90 345.64,458.10 345.58,458.30 345.50,458.50 345.42,458.70 345.33,458.90 345.22,459.10 345.05,459.30 344.80,459.50 344.45,459.70 344.00,459.90 343.51,460.10 343.00,460.30 342.50,460.50 341.97,460.72 341.39,460.95 340.83,461.17 340.34,461.36 340.00,461.50 340.00,461.50 339.66,461.36 339.17,461.17 338.61,460.95 338.03,460.72 337.50,460.50 337.00,460.30 336.49,460.10 336.00,459.90 335.55,459.70 335.20,459.50 334.95,459.30 334.78,459.10 334.67,458.90 334.58,458.70 334.50,458.50 334.42,458.30 334.36,458.10 334.33,457.90 334.31,457.70 334.30,457.50 334.30,457.30 334.31,457.10 334.34,456.90 334.40,456.70 334.50,456.50 334.63,456.30 334.78,456.10 334.97,455.90 335.20,455.70 335.50,455.50 335.89,455.30 336.38,455.10 336.90,454.90 337.39,454.70 337.80,454.50 338.11,454.30 338.37,454.09 338.59,453.88 338.79,453.68 339.00,453.50 339.23,453.33 339.46,453.16 339.68,453.02 339.87,452.89 340.00,452.80" fill="#7399c3" stroke="#1a1a1a" stroke-width="0.95" stroke-linejoin="round"/>
<circle cx="336.10" cy="455.65" r="0.42" fill="#1b4f8b"/>
<circle cx="337.76" cy="455.57" r="0.42" fill="#1b4f8b"/>
<circle cx="343.28" cy="455.70" r="0.42" fill="#1b4f8b"/>
<circle cx="338.65" cy="457.36" r="0.42" fill="#1b4f8b"/>
<circle cx="337.70" cy="458.85" r="0.42" fill="#1b4f8b"/>
<circle cx="340.58" cy="458.92" r="0.42" fill="#1b4f8b"/>
<line x1="334.30" y1="457.30" x2="345.70" y2="457.30" stroke="#222" stroke-width="0.7" />
<polygon points="355.10,455.30 355.38,455.46 355.77,455.68 356.22,455.94 356.68,456.22 357.10,456.50 357.48,456.78 357.85,457.08 358.22,457.39 358.57,457.70 358.90,458.00 359.22,458.31 359.53,458.62 359.82,458.94 360.08,459.23 360.30,459.50 360.51,459.74 360.72,459.95 360.87,460.14 360.92,460.32 360.80,460.50 360.47,460.68 359.96,460.85 359.36,461.01 358.71,461.16 358.10,461.30 357.47,461.43 356.78,461.55 356.10,461.65 355.51,461.74 355.10,461.80 355.10,461.80 354.69,461.74 354.10,461.65 353.42,461.55 352.73,461.43 352.10,461.30 351.49,461.16 350.84,461.01 350.24,460.85 349.73,460.68 349.40,460.50 349.28,460.32 349.33,460.14 349.48,459.95 349.69,459.74 349.90,459.50 350.12,459.23 350.38,458.94 350.67,458.62 350.98,458.31 351.30,458.00 351.63,457.70 351.98,457.39 352.35,457.08 352.72,456.78 353.10,456.50 353.52,456.22 353.98,455.94 354.43,455.68 354.82,455.46 355.10,455.30" fill="#8ade94" stroke="#1a1a1a" stroke-width="0.95" stroke-linejoin="round"/>
<circle cx="355.79" cy="456.49" r="0.42" fill="#39b54a"/>
<circle cx="353.79" cy="458.11" r="0.42" fill="#39b54a"/>
<circle cx="357.46" cy="458.07" r="0.42" fill="#39b54a"/>
<circle cx="350.65" cy="459.90" r="0.42" fill="#39b54a"/>
<circle cx="352.31" cy="459.65" r="0.42" fill="#39b54a"/>
<line x1="369.70" y1="463.10" x2="369.70" y2="473.00" stroke="#1a1a1a" stroke-width="1.0" />
<polygon points="369.70,403.70 369.78,404.08 369.91,404.59 370.05,405.23 370.18,406.03 370.30,407.00 370.39,408.14 370.47,409.44 370.55,410.89 370.62,412.51 370.70,414.30 370.78,416.37 370.85,418.72 370.93,421.18 371.01,423.57 371.10,425.70 371.20,427.59 371.32,429.36 371.44,431.00 371.56,432.48 371.70,433.80 371.85,434.89 372.01,435.78 372.17,436.53 372.34,437.24 372.50,438.00 372.66,438.80 372.81,439.57 372.97,440.34 373.13,441.11 373.30,441.90 373.49,442.71 373.70,443.53 373.90,444.36 374.11,445.18 374.30,446.00 374.47,446.80 374.63,447.60 374.79,448.40 374.94,449.20 375.10,450.00 375.29,450.81 375.52,451.63 375.73,452.46 375.87,453.28 375.90,454.10 375.79,454.94 375.58,455.80 375.30,456.65 374.96,457.46 374.60,458.20 374.19,458.85 373.72,459.45 373.22,459.99 372.70,460.51 372.20,461.00 371.67,461.50 371.09,461.99 370.52,462.44 370.04,462.83 369.70,463.10 369.70,463.10 369.36,462.83 368.88,462.44 368.31,461.99 367.73,461.50 367.20,461.00 366.70,460.51 366.18,459.99 365.68,459.45 365.21,458.85 364.80,458.20 364.44,457.46 364.10,456.65 363.82,455.80 363.61,454.94 363.50,454.10 363.53,453.28 363.67,452.46 363.88,451.63 364.11,450.81 364.30,450.00 364.46,449.20 364.61,448.40 364.77,447.60 364.93,446.80 365.10,446.00 365.29,445.18 365.50,444.36 365.70,443.53 365.91,442.71 366.10,441.90 366.27,441.11 366.43,440.34 366.59,439.57 366.74,438.80 366.90,438.00 367.06,437.24 367.23,436.53 367.39,435.78 367.55,434.89 367.70,433.80 367.84,432.48 367.96,431.00 368.08,429.36 368.20,427.59 368.30,425.70 368.39,423.57 368.47,421.18 368.55,418.72 368.62,416.37 368.70,414.30 368.78,412.51 368.85,410.89 368.93,409.44 369.01,408.14 369.10,407.00 369.22,406.03 369.35,405.23 369.49,404.59 369.62,404.08 369.70,403.70" fill="#ec7389" stroke="#1a1a1a" stroke-width="0.95" stroke-linejoin="round"/>
<circle cx="369.68" cy="421.62" r="0.42" fill="#c8102e"/>
<circle cx="369.25" cy="423.84" r="0.42" fill="#c8102e"/>
<circle cx="368.98" cy="430.42" r="0.42" fill="#c8102e"/>
<circle cx="369.94" cy="435.71" r="0.42" fill="#c8102e"/>
<circle cx="367.69" cy="439.06" r="0.42" fill="#c8102e"/>
<circle cx="371.10" cy="439.13" r="0.42" fill="#c8102e"/>
<circle cx="367.19" cy="440.48" r="0.42" fill="#c8102e"/>
<circle cx="366.80" cy="442.15" r="0.42" fill="#c8102e"/>
<circle cx="368.72" cy="442.10" r="0.42" fill="#c8102e"/>
<circle cx="370.22" cy="442.59" r="0.42" fill="#c8102e"/>
<circle cx="366.86" cy="443.76" r="0.42" fill="#c8102e"/>
<circle cx="369.65" cy="445.46" r="0.42" fill="#c8102e"/>
<circle cx="371.20" cy="445.42" r="0.42" fill="#c8102e"/>
<circle cx="365.54" cy="449.04" r="0.42" fill="#c8102e"/>
<circle cx="368.64" cy="451.03" r="0.42" fill="#c8102e"/>
<circle cx="369.84" cy="452.26" r="0.42" fill="#c8102e"/>
<circle cx="367.87" cy="454.17" r="0.42" fill="#c8102e"/>
<circle cx="364.94" cy="456.07" r="0.42" fill="#c8102e"/>
<circle cx="371.67" cy="455.70" r="0.42" fill="#c8102e"/>
<circle cx="368.95" cy="457.62" r="0.42" fill="#c8102e"/>
<circle cx="370.01" cy="460.94" r="0.42" fill="#c8102e"/>
<line x1="363.62" y1="455.00" x2="375.78" y2="455.00" stroke="#222" stroke-width="0.7" />
<line x1="367.70" y1="433.80" x2="371.70" y2="433.80" stroke="#333" stroke-width="0.55" stroke-dasharray="0.9 0.7"/>
<line x1="384.90" y1="423.20" x2="384.90" y2="436.50" stroke="#1a1a1a" stroke-width="1.0" />
<line x1="384.90" y1="462.00" x2="384.90" y2="469.60" stroke="#1a1a1a" stroke-width="1.0" />
<polygon points="384.90,436.50 385.15,436.76 385.50,437.13 385.90,437.57 386.32,438.04 386.70,438.50 387.05,438.97 387.40,439.46 387.74,439.98 388.07,440.49 388.40,441.00 388.72,441.50 389.05,442.00 389.36,442.50 389.65,443.00 389.90,443.50 390.15,444.00 390.40,444.50 390.62,445.00 390.73,445.50 390.70,446.00 390.48,446.50 390.11,447.00 389.65,447.50 389.16,448.00 388.70,448.50 388.21,449.00 387.64,449.50 387.09,450.00 386.68,450.50 386.50,451.00 386.61,451.50 386.96,452.00 387.43,452.50 387.94,453.00 388.40,453.50 388.86,454.00 389.38,454.50 389.88,455.00 390.28,455.50 390.50,456.00 390.52,456.50 390.38,457.00 390.13,457.50 389.79,458.00 389.40,458.50 388.90,459.02 388.26,459.57 387.58,460.11 386.93,460.60 386.40,461.00 385.98,461.31 385.62,461.56 385.32,461.74 385.08,461.89 384.90,462.00 384.90,462.00 384.72,461.89 384.48,461.74 384.18,461.56 383.82,461.31 383.40,461.00 382.87,460.60 382.22,460.11 381.54,459.57 380.90,459.02 380.40,458.50 380.01,458.00 379.67,457.50 379.42,457.00 379.28,456.50 379.30,456.00 379.52,455.50 379.92,455.00 380.42,454.50 380.94,454.00 381.40,453.50 381.86,453.00 382.37,452.50 382.84,452.00 383.19,451.50 383.30,451.00 383.12,450.50 382.71,450.00 382.16,449.50 381.59,449.00 381.10,448.50 380.64,448.00 380.15,447.50 379.69,447.00 379.32,446.50 379.10,446.00 379.07,445.50 379.18,445.00 379.40,444.50 379.65,444.00 379.90,443.50 380.15,443.00 380.44,442.50 380.75,442.00 381.08,441.50 381.40,441.00 381.73,440.49 382.06,439.98 382.40,439.46 382.75,438.97 383.10,438.50 383.48,438.04 383.90,437.57 384.30,437.13 384.65,436.76 384.90,436.50" fill="#a582bf" stroke="#1a1a1a" stroke-width="0.95" stroke-linejoin="round"/>
<circle cx="383.74" cy="439.31" r="0.42" fill="#5b2a7e"/>
<circle cx="385.01" cy="439.34" r="0.42" fill="#5b2a7e"/>
<circle cx="382.29" cy="441.05" r="0.42" fill="#5b2a7e"/>
<circle cx="387.27" cy="441.24" r="0.42" fill="#5b2a7e"/>
<circle cx="384.85" cy="442.74" r="0.42" fill="#5b2a7e"/>
<circle cx="386.14" cy="442.97" r="0.42" fill="#5b2a7e"/>
<circle cx="385.77" cy="444.41" r="0.42" fill="#5b2a7e"/>
<circle cx="383.62" cy="445.98" r="0.42" fill="#5b2a7e"/>
<circle cx="381.47" cy="447.75" r="0.42" fill="#5b2a7e"/>
<circle cx="384.65" cy="448.03" r="0.42" fill="#5b2a7e"/>
<circle cx="386.49" cy="447.78" r="0.42" fill="#5b2a7e"/>
<circle cx="383.12" cy="454.94" r="0.42" fill="#5b2a7e"/>
<circle cx="386.52" cy="454.78" r="0.42" fill="#5b2a7e"/>
<circle cx="387.73" cy="454.97" r="0.42" fill="#5b2a7e"/>
<circle cx="381.75" cy="456.19" r="0.42" fill="#5b2a7e"/>
<circle cx="383.85" cy="456.31" r="0.42" fill="#5b2a7e"/>
<circle cx="385.63" cy="456.58" r="0.42" fill="#5b2a7e"/>
<circle cx="387.32" cy="456.47" r="0.42" fill="#5b2a7e"/>
<circle cx="388.00" cy="458.12" r="0.42" fill="#5b2a7e"/>
<line x1="379.10" y1="446.00" x2="390.70" y2="446.00" stroke="#333" stroke-width="0.55" stroke-dasharray="0.9 0.7"/>
<line x1="379.30" y1="456.00" x2="390.50" y2="456.00" stroke="#333" stroke-width="0.55" stroke-dasharray="0.9 0.7"/>
<circle cx="384.90" cy="430.50" r="0.9" fill="#5b2a7e"/>
<ellipse cx="384.90" cy="419.20" rx="1.12" ry="0.95" fill="#262626"/>
<line x1="336.50" y1="463.90" x2="337.00" y2="463.90" stroke="#231f20" stroke-width="0" />
<line x1="52.50" y1="489.40" x2="52.50" y2="563.08" stroke="#111" stroke-width="1.15" />
<line x1="51.92" y1="562.50" x2="227.10" y2="562.50" stroke="#111" stroke-width="1.15" />
<line x1="49.50" y1="492.50" x2="52.50" y2="492.50" stroke="#111" stroke-width="1.15" />
<text x="47.60" y="495.41" font-size="8.6" text-anchor="end" font-weight="normal" fill="#231f20" stroke="#231f20" stroke-width="0.18" textLength="17.22" lengthAdjust="spacingAndGlyphs" >1000</text>
<line x1="49.50" y1="527.50" x2="52.50" y2="527.50" stroke="#111" stroke-width="1.15" />
<text x="47.60" y="530.31" font-size="8.6" text-anchor="end" font-weight="normal" fill="#231f20" stroke="#231f20" stroke-width="0.18" textLength="12.91" lengthAdjust="spacingAndGlyphs" >500</text>
<line x1="49.50" y1="562.50" x2="52.50" y2="562.50" stroke="#111" stroke-width="1.15" />
<text x="47.60" y="565.21" font-size="8.6" text-anchor="end" font-weight="normal" fill="#231f20" stroke="#231f20" stroke-width="0.18" textLength="4.30" lengthAdjust="spacingAndGlyphs" >0</text>
<text transform="translate(24.20,526.00) rotate(-90)" font-size="8.4" text-anchor="middle" fill="#231f20" stroke="#231f20" stroke-width="0.2" textLength="68.4" lengthAdjust="spacingAndGlyphs">Concentration pg/ml</text>
<line x1="63.92" y1="500.50" x2="99.98" y2="500.50" stroke="#1a1a1a" stroke-width="1.3" />
<polygon points="60.40,500.50 64.80,498.50 64.80,502.50" fill="#1a1a1a"/>
<polygon points="103.50,500.50 99.10,498.50 99.10,502.50" fill="#1a1a1a"/>
<text x="82.40" y="510.00" font-size="7.4" text-anchor="middle" font-weight="normal" fill="#444" stroke="#444" stroke-width="0.18" textLength="16.3" lengthAdjust="spacingAndGlyphs" >IL-1β</text>
<line x1="122.72" y1="497.50" x2="158.28" y2="497.50" stroke="#1a1a1a" stroke-width="1.3" />
<polygon points="119.20,497.50 123.60,495.50 123.60,499.50" fill="#1a1a1a"/>
<polygon points="161.80,497.50 157.40,495.50 157.40,499.50" fill="#1a1a1a"/>
<text x="130.30" y="508.30" font-size="7.4" text-anchor="middle" font-weight="normal" fill="#444" stroke="#444" stroke-width="0.18" textLength="17.1" lengthAdjust="spacingAndGlyphs" >IFN-γ</text>
<text x="146.20" y="504.60" font-size="6.6" text-anchor="middle" font-weight="normal" fill="#444" stroke="#444" stroke-width="0.12" font-style="italic">##</text>
<line x1="178.72" y1="516.50" x2="214.98" y2="516.50" stroke="#1a1a1a" stroke-width="1.3" />
<polygon points="175.20,516.50 179.60,514.50 179.60,518.50" fill="#1a1a1a"/>
<polygon points="218.50,516.50 214.10,514.50 214.10,518.50" fill="#1a1a1a"/>
<text x="200.40" y="524.00" font-size="7.4" text-anchor="middle" font-weight="normal" fill="#444" stroke="#444" stroke-width="0.18" textLength="20.4" lengthAdjust="spacingAndGlyphs" >TNF-α</text>
<line x1="64.10" y1="534.50" x2="64.10" y2="537.50" stroke="#1a1a1a" stroke-width="1.0" />
<line x1="64.10" y1="560.00" x2="64.10" y2="561.80" stroke="#1a1a1a" stroke-width="1.0" />
<polygon points="64.10,537.50 64.46,537.70 64.98,537.97 65.57,538.29 66.14,538.64 66.60,539.00 66.95,539.37 67.24,539.76 67.48,540.18 67.70,540.59 67.90,541.00 68.10,541.39 68.28,541.78 68.44,542.16 68.55,542.57 68.60,543.00 68.58,543.46 68.50,543.95 68.38,544.46 68.24,544.98 68.10,545.50 67.94,546.03 67.73,546.58 67.53,547.14 67.38,547.68 67.30,548.20 67.33,548.69 67.43,549.15 67.59,549.61 67.75,550.05 67.90,550.50 68.06,550.94 68.25,551.36 68.44,551.78 68.57,552.22 68.60,552.70 68.52,553.22 68.37,553.77 68.15,554.34 67.89,554.92 67.60,555.50 67.26,556.11 66.85,556.76 66.41,557.40 65.98,557.99 65.60,558.50 65.24,558.92 64.89,559.28 64.57,559.58 64.30,559.82 64.10,560.00 64.10,560.00 63.90,559.82 63.63,559.58 63.31,559.28 62.96,558.92 62.60,558.50 62.22,557.99 61.79,557.40 61.35,556.76 60.94,556.11 60.60,555.50 60.31,554.92 60.05,554.34 59.83,553.77 59.68,553.22 59.60,552.70 59.63,552.22 59.76,551.78 59.95,551.36 60.14,550.94 60.30,550.50 60.45,550.05 60.61,549.61 60.77,549.15 60.87,548.69 60.90,548.20 60.82,547.68 60.67,547.14 60.47,546.58 60.26,546.03 60.10,545.50 59.96,544.98 59.82,544.46 59.70,543.95 59.62,543.46 59.60,543.00 59.65,542.57 59.76,542.16 59.92,541.78 60.10,541.39 60.30,541.00 60.50,540.59 60.72,540.18 60.96,539.76 61.25,539.37 61.60,539.00 62.06,538.64 62.63,538.29 63.22,537.97 63.74,537.70 64.10,537.50" fill="#7399c3" stroke="#1a1a1a" stroke-width="0.95" stroke-linejoin="round"/>
<circle cx="64.53" cy="538.48" r="0.42" fill="#1b4f8b"/>
<circle cx="63.28" cy="540.19" r="0.42" fill="#1b4f8b"/>
<circle cx="66.09" cy="542.08" r="0.42" fill="#1b4f8b"/>
<circle cx="62.88" cy="545.58" r="0.42" fill="#1b4f8b"/>
<circle cx="64.57" cy="545.61" r="0.42" fill="#1b4f8b"/>
<circle cx="65.35" cy="548.98" r="0.42" fill="#1b4f8b"/>
<circle cx="63.99" cy="552.25" r="0.42" fill="#1b4f8b"/>
<circle cx="61.11" cy="553.94" r="0.42" fill="#1b4f8b"/>
<circle cx="64.32" cy="554.28" r="0.42" fill="#1b4f8b"/>
<circle cx="64.99" cy="555.75" r="0.42" fill="#1b4f8b"/>
<line x1="60.90" y1="548.20" x2="67.30" y2="548.20" stroke="#222" stroke-width="0.7" />
<line x1="59.60" y1="543.00" x2="68.60" y2="543.00" stroke="#333" stroke-width="0.55" stroke-dasharray="0.9 0.7"/>
<line x1="59.64" y1="553.00" x2="68.56" y2="553.00" stroke="#333" stroke-width="0.55" stroke-dasharray="0.9 0.7"/>
<line x1="76.80" y1="530.40" x2="76.80" y2="534.50" stroke="#1a1a1a" stroke-width="1.0" />
<line x1="76.80" y1="561.00" x2="76.80" y2="562.20" stroke="#1a1a1a" stroke-width="1.0" />
<polygon points="76.80,534.50 76.93,534.68 77.11,534.92 77.33,535.22 77.56,535.58 77.80,536.00 78.04,536.51 78.30,537.12 78.57,537.76 78.84,538.41 79.10,539.00 79.37,539.52 79.64,540.01 79.91,540.49 80.17,540.98 80.40,541.50 80.64,542.08 80.88,542.69 81.10,543.31 81.25,543.92 81.30,544.50 81.22,545.04 81.05,545.56 80.81,546.06 80.54,546.54 80.30,547.00 80.04,547.43 79.73,547.84 79.44,548.22 79.21,548.61 79.10,549.00 79.14,549.39 79.29,549.78 79.51,550.17 79.76,550.57 80.00,551.00 80.27,551.44 80.60,551.90 80.93,552.37 81.18,552.87 81.30,553.40 81.26,553.98 81.11,554.59 80.88,555.23 80.60,555.88 80.30,556.50 79.96,557.13 79.55,557.78 79.11,558.41 78.68,559.00 78.30,559.50 77.94,559.92 77.59,560.28 77.27,560.58 77.00,560.82 76.80,561.00 76.80,561.00 76.60,560.82 76.33,560.58 76.01,560.28 75.66,559.92 75.30,559.50 74.92,559.00 74.49,558.41 74.05,557.78 73.64,557.13 73.30,556.50 73.00,555.88 72.72,555.23 72.49,554.59 72.34,553.98 72.30,553.40 72.42,552.87 72.67,552.37 73.00,551.90 73.33,551.44 73.60,551.00 73.84,550.57 74.09,550.17 74.31,549.78 74.46,549.39 74.50,549.00 74.39,548.61 74.16,548.22 73.87,547.84 73.56,547.43 73.30,547.00 73.06,546.54 72.79,546.06 72.55,545.56 72.38,545.04 72.30,544.50 72.35,543.92 72.50,543.31 72.72,542.69 72.96,542.08 73.20,541.50 73.43,540.98 73.69,540.49 73.96,540.01 74.23,539.52 74.50,539.00 74.76,538.41 75.03,537.76 75.30,537.12 75.56,536.51 75.80,536.00 76.04,535.58 76.27,535.22 76.49,534.92 76.67,534.68 76.80,534.50" fill="#8ade94" stroke="#1a1a1a" stroke-width="0.95" stroke-linejoin="round"/>
<circle cx="76.32" cy="537.63" r="0.42" fill="#39b54a"/>
<circle cx="77.03" cy="538.80" r="0.42" fill="#39b54a"/>
<circle cx="74.78" cy="540.87" r="0.42" fill="#39b54a"/>
<circle cx="78.53" cy="544.17" r="0.42" fill="#39b54a"/>
<circle cx="73.53" cy="545.62" r="0.42" fill="#39b54a"/>
<circle cx="77.05" cy="549.25" r="0.42" fill="#39b54a"/>
<circle cx="74.56" cy="551.09" r="0.42" fill="#39b54a"/>
<circle cx="78.04" cy="550.72" r="0.42" fill="#39b54a"/>
<circle cx="73.69" cy="552.75" r="0.42" fill="#39b54a"/>
<circle cx="78.54" cy="552.76" r="0.42" fill="#39b54a"/>
<circle cx="74.19" cy="555.93" r="0.42" fill="#39b54a"/>
<circle cx="75.52" cy="555.80" r="0.42" fill="#39b54a"/>
<circle cx="79.49" cy="555.85" r="0.42" fill="#39b54a"/>
<circle cx="76.48" cy="557.93" r="0.42" fill="#39b54a"/>
<circle cx="78.61" cy="557.61" r="0.42" fill="#39b54a"/>
<circle cx="76.46" cy="559.63" r="0.42" fill="#39b54a"/>
<line x1="74.50" y1="549.00" x2="79.10" y2="549.00" stroke="#222" stroke-width="0.7" />
<line x1="72.30" y1="544.50" x2="81.30" y2="544.50" stroke="#333" stroke-width="0.55" stroke-dasharray="0.9 0.7"/>
<line x1="72.34" y1="554.00" x2="81.26" y2="554.00" stroke="#333" stroke-width="0.55" stroke-dasharray="0.9 0.7"/>
<line x1="89.40" y1="527.10" x2="89.40" y2="529.60" stroke="#1a1a1a" stroke-width="1.0" />
<line x1="89.40" y1="551.20" x2="89.40" y2="553.40" stroke="#1a1a1a" stroke-width="1.0" />
<polygon points="89.40,529.60 89.60,529.70 89.87,529.84 90.19,530.02 90.54,530.24 90.90,530.50 91.28,530.82 91.71,531.20 92.14,531.61 92.55,532.05 92.90,532.50 93.19,532.97 93.45,533.46 93.67,533.98 93.85,534.49 94.00,535.00 94.11,535.50 94.18,536.00 94.22,536.50 94.23,537.00 94.20,537.50 94.13,537.99 94.03,538.48 93.89,538.96 93.75,539.47 93.60,540.00 93.45,540.57 93.29,541.16 93.13,541.78 92.96,542.39 92.80,543.00 92.64,543.60 92.48,544.20 92.32,544.80 92.16,545.40 92.00,546.00 91.86,546.61 91.73,547.24 91.59,547.86 91.42,548.45 91.20,549.00 90.88,549.53 90.47,550.04 90.04,550.52 89.66,550.91 89.40,551.20 89.40,551.20 89.14,550.91 88.76,550.52 88.33,550.04 87.92,549.53 87.60,549.00 87.38,548.45 87.21,547.86 87.07,547.24 86.94,546.61 86.80,546.00 86.64,545.40 86.48,544.80 86.32,544.20 86.16,543.60 86.00,543.00 85.84,542.39 85.67,541.78 85.51,541.16 85.35,540.57 85.20,540.00 85.05,539.47 84.91,538.96 84.77,538.48 84.67,537.99 84.60,537.50 84.57,537.00 84.58,536.50 84.62,536.00 84.69,535.50 84.80,535.00 84.95,534.49 85.13,533.98 85.35,533.46 85.61,532.97 85.90,532.50 86.25,532.05 86.66,531.61 87.09,531.20 87.52,530.82 87.90,530.50 88.26,530.24 88.61,530.02 88.93,529.84 89.20,529.70 89.40,529.60" fill="#ec7389" stroke="#1a1a1a" stroke-width="0.95" stroke-linejoin="round"/>
<circle cx="86.98" cy="532.63" r="0.42" fill="#c8102e"/>
<circle cx="86.33" cy="534.33" r="0.42" fill="#c8102e"/>
<circle cx="87.46" cy="534.29" r="0.42" fill="#c8102e"/>
<circle cx="91.04" cy="534.34" r="0.42" fill="#c8102e"/>
<circle cx="85.85" cy="535.89" r="0.42" fill="#c8102e"/>
<circle cx="87.25" cy="535.94" r="0.42" fill="#c8102e"/>
<circle cx="92.61" cy="535.82" r="0.42" fill="#c8102e"/>
<circle cx="90.84" cy="539.58" r="0.42" fill="#c8102e"/>
<circle cx="87.33" cy="544.63" r="0.42" fill="#c8102e"/>
<circle cx="89.60" cy="547.66" r="0.42" fill="#c8102e"/>
<line x1="84.78" y1="538.50" x2="94.02" y2="538.50" stroke="#222" stroke-width="0.7" />
<line x1="85.34" y1="533.50" x2="93.46" y2="533.50" stroke="#333" stroke-width="0.55" stroke-dasharray="0.9 0.7"/>
<line x1="86.27" y1="544.00" x2="92.53" y2="544.00" stroke="#333" stroke-width="0.55" stroke-dasharray="0.9 0.7"/>
<line x1="101.80" y1="529.60" x2="101.80" y2="532.60" stroke="#1a1a1a" stroke-width="1.0" />
<line x1="101.80" y1="557.90" x2="101.80" y2="559.90" stroke="#1a1a1a" stroke-width="1.0" />
<polygon points="101.80,532.60 102.02,532.76 102.33,532.98 102.68,533.26 103.02,533.60 103.30,534.00 103.51,534.50 103.68,535.08 103.82,535.72 103.96,536.37 104.10,537.00 104.27,537.61 104.44,538.22 104.61,538.84 104.74,539.43 104.80,540.00 104.77,540.53 104.66,541.04 104.52,541.52 104.39,542.01 104.30,542.50 104.24,542.99 104.18,543.48 104.15,543.96 104.18,544.47 104.30,545.00 104.56,545.58 104.93,546.19 105.36,546.82 105.77,547.43 106.10,548.00 106.37,548.52 106.63,548.99 106.83,549.45 106.97,549.92 107.00,550.40 106.91,550.90 106.72,551.41 106.45,551.92 106.14,552.45 105.80,553.00 105.42,553.59 104.97,554.22 104.50,554.86 104.03,555.46 103.60,556.00 103.19,556.48 102.76,556.93 102.37,557.33 102.04,557.66 101.80,557.90 101.80,557.90 101.56,557.66 101.23,557.33 100.84,556.93 100.41,556.48 100.00,556.00 99.57,555.46 99.10,554.86 98.63,554.22 98.18,553.59 97.80,553.00 97.46,552.45 97.15,551.92 96.88,551.41 96.69,550.90 96.60,550.40 96.63,549.92 96.77,549.45 96.97,548.99 97.23,548.52 97.50,548.00 97.83,547.43 98.24,546.82 98.67,546.19 99.04,545.58 99.30,545.00 99.42,544.47 99.45,543.96 99.42,543.48 99.36,542.99 99.30,542.50 99.21,542.01 99.08,541.52 98.94,541.04 98.83,540.53 98.80,540.00 98.86,539.43 98.99,538.84 99.16,538.22 99.33,537.61 99.50,537.00 99.64,536.37 99.78,535.72 99.92,535.08 100.09,534.50 100.30,534.00 100.58,533.60 100.92,533.26 101.27,532.98 101.58,532.76 101.80,532.60" fill="#a582bf" stroke="#1a1a1a" stroke-width="0.95" stroke-linejoin="round"/>
<circle cx="100.65" cy="537.39" r="0.42" fill="#5b2a7e"/>
<circle cx="101.89" cy="539.08" r="0.42" fill="#5b2a7e"/>
<circle cx="103.28" cy="540.78" r="0.42" fill="#5b2a7e"/>
<circle cx="100.41" cy="542.56" r="0.42" fill="#5b2a7e"/>
<circle cx="102.03" cy="542.41" r="0.42" fill="#5b2a7e"/>
<circle cx="102.00" cy="544.15" r="0.42" fill="#5b2a7e"/>
<circle cx="103.55" cy="545.86" r="0.42" fill="#5b2a7e"/>
<circle cx="98.90" cy="547.64" r="0.42" fill="#5b2a7e"/>
<circle cx="99.44" cy="548.91" r="0.42" fill="#5b2a7e"/>
<circle cx="100.80" cy="551.10" r="0.42" fill="#5b2a7e"/>
<circle cx="104.55" cy="550.97" r="0.42" fill="#5b2a7e"/>
<circle cx="98.55" cy="552.41" r="0.42" fill="#5b2a7e"/>
<circle cx="101.61" cy="552.79" r="0.42" fill="#5b2a7e"/>
<circle cx="103.18" cy="554.16" r="0.42" fill="#5b2a7e"/>
<line x1="96.63" y1="550.00" x2="106.97" y2="550.00" stroke="#222" stroke-width="0.7" />
<line x1="98.80" y1="540.00" x2="104.80" y2="540.00" stroke="#333" stroke-width="0.55" stroke-dasharray="0.9 0.7"/>
<text x="89.40" y="523.70" font-size="6.6" text-anchor="middle" font-weight="normal" fill="#444" stroke="#444" stroke-width="0.12" font-style="italic">##</text>
<ellipse cx="101.80" cy="525.20" rx="1.12" ry="0.95" fill="#262626"/>
<line x1="121.20" y1="530.00" x2="121.20" y2="533.20" stroke="#1a1a1a" stroke-width="1.0" />
<line x1="121.20" y1="554.90" x2="121.20" y2="556.80" stroke="#1a1a1a" stroke-width="1.0" />
<polygon points="121.20,533.20 121.39,533.43 121.66,533.76 121.98,534.14 122.27,534.57 122.50,535.00 122.66,535.46 122.79,535.95 122.89,536.47 122.96,536.99 123.00,537.50 123.00,538.00 122.95,538.50 122.88,539.00 122.83,539.50 122.80,540.00 122.81,540.50 122.83,541.00 122.86,541.50 122.92,542.00 123.00,542.50 123.10,543.00 123.22,543.50 123.37,544.00 123.53,544.50 123.70,545.00 123.90,545.50 124.12,546.00 124.35,546.50 124.58,547.00 124.80,547.50 125.04,548.00 125.29,548.50 125.53,549.00 125.72,549.50 125.80,550.00 125.80,550.50 125.75,551.00 125.62,551.51 125.38,552.01 125.00,552.50 124.37,553.02 123.51,553.58 122.59,554.12 121.76,554.58 121.20,554.90 121.20,554.90 120.64,554.58 119.81,554.12 118.89,553.58 118.03,553.02 117.40,552.50 117.02,552.01 116.78,551.51 116.65,551.00 116.60,550.50 116.60,550.00 116.68,549.50 116.87,549.00 117.11,548.50 117.36,548.00 117.60,547.50 117.82,547.00 118.05,546.50 118.28,546.00 118.50,545.50 118.70,545.00 118.87,544.50 119.03,544.00 119.18,543.50 119.30,543.00 119.40,542.50 119.48,542.00 119.54,541.50 119.57,541.00 119.59,540.50 119.60,540.00 119.57,539.50 119.52,539.00 119.45,538.50 119.40,538.00 119.40,537.50 119.44,536.99 119.51,536.47 119.61,535.95 119.74,535.46 119.90,535.00 120.13,534.57 120.42,534.14 120.74,533.76 121.01,533.43 121.20,533.20" fill="#7399c3" stroke="#1a1a1a" stroke-width="0.95" stroke-linejoin="round"/>
<circle cx="120.30" cy="539.32" r="0.42" fill="#1b4f8b"/>
<circle cx="120.31" cy="540.93" r="0.42" fill="#1b4f8b"/>
<circle cx="120.90" cy="546.24" r="0.42" fill="#1b4f8b"/>
<circle cx="122.82" cy="546.15" r="0.42" fill="#1b4f8b"/>
<circle cx="121.33" cy="550.00" r="0.42" fill="#1b4f8b"/>
<circle cx="122.47" cy="549.55" r="0.42" fill="#1b4f8b"/>
<circle cx="123.02" cy="551.53" r="0.42" fill="#1b4f8b"/>
<circle cx="120.63" cy="553.25" r="0.42" fill="#1b4f8b"/>
<line x1="116.68" y1="549.50" x2="125.72" y2="549.50" stroke="#222" stroke-width="0.7" />
<line x1="133.60" y1="531.30" x2="133.60" y2="534.60" stroke="#1a1a1a" stroke-width="1.0" />
<line x1="133.60" y1="553.60" x2="133.60" y2="555.50" stroke="#1a1a1a" stroke-width="1.0" />
<polygon points="133.60,534.60 133.71,534.90 133.86,535.31 134.04,535.81 134.23,536.38 134.40,537.00 134.56,537.70 134.73,538.48 134.89,539.32 135.05,540.17 135.20,541.00 135.32,541.82 135.42,542.65 135.51,543.47 135.63,544.26 135.80,545.00 136.03,545.68 136.29,546.31 136.59,546.90 136.89,547.46 137.20,548.00 137.56,548.51 137.98,548.98 138.39,549.44 138.69,549.87 138.80,550.30 138.70,550.73 138.44,551.16 138.07,551.56 137.61,551.95 137.10,552.30 136.46,552.63 135.66,552.93 134.83,553.21 134.10,553.43 133.60,553.60 133.60,553.60 133.10,553.43 132.37,553.21 131.54,552.93 130.74,552.63 130.10,552.30 129.59,551.95 129.13,551.56 128.76,551.16 128.50,550.73 128.40,550.30 128.51,549.87 128.81,549.44 129.22,548.98 129.64,548.51 130.00,548.00 130.31,547.46 130.61,546.90 130.91,546.31 131.17,545.68 131.40,545.00 131.57,544.26 131.69,543.47 131.78,542.65 131.88,541.82 132.00,541.00 132.15,540.17 132.31,539.32 132.47,538.48 132.64,537.70 132.80,537.00 132.97,536.38 133.16,535.81 133.34,535.31 133.49,534.90 133.60,534.60" fill="#8ade94" stroke="#1a1a1a" stroke-width="0.95" stroke-linejoin="round"/>
<circle cx="133.07" cy="541.05" r="0.42" fill="#39b54a"/>
<circle cx="132.68" cy="542.45" r="0.42" fill="#39b54a"/>
<circle cx="132.55" cy="544.10" r="0.42" fill="#39b54a"/>
<circle cx="134.05" cy="544.41" r="0.42" fill="#39b54a"/>
<circle cx="132.17" cy="545.82" r="0.42" fill="#39b54a"/>
<circle cx="133.99" cy="545.83" r="0.42" fill="#39b54a"/>
<circle cx="129.81" cy="549.16" r="0.42" fill="#39b54a"/>
<circle cx="136.36" cy="550.83" r="0.42" fill="#39b54a"/>
<line x1="128.40" y1="550.30" x2="138.80" y2="550.30" stroke="#222" stroke-width="0.7" />
<line x1="146.30" y1="507.00" x2="146.30" y2="513.60" stroke="#1a1a1a" stroke-width="1.0" />
<line x1="146.30" y1="552.90" x2="146.30" y2="558.80" stroke="#1a1a1a" stroke-width="1.0" />
<polygon points="146.30,513.60 146.72,514.02 147.33,514.60 148.03,515.30 148.72,516.11 149.30,517.00 149.81,518.02 150.31,519.18 150.75,520.41 151.10,521.64 151.30,522.80 151.33,523.89 151.20,524.95 150.98,525.99 150.73,527.01 150.50,528.00 150.26,528.96 149.96,529.89 149.67,530.80 149.43,531.70 149.30,532.60 149.30,533.48 149.39,534.33 149.54,535.18 149.73,536.06 149.90,537.00 150.11,538.01 150.38,539.08 150.64,540.18 150.83,541.29 150.90,542.40 150.84,543.52 150.68,544.66 150.44,545.80 150.12,546.92 149.70,548.00 149.11,549.10 148.34,550.25 147.52,551.33 146.80,552.24 146.30,552.90 146.30,552.90 145.80,552.24 145.08,551.33 144.26,550.25 143.49,549.10 142.90,548.00 142.48,546.92 142.16,545.80 141.92,544.66 141.76,543.52 141.70,542.40 141.77,541.29 141.96,540.18 142.22,539.08 142.49,538.01 142.70,537.00 142.87,536.06 143.06,535.18 143.21,534.33 143.30,533.48 143.30,532.60 143.17,531.70 142.93,530.80 142.64,529.89 142.34,528.96 142.10,528.00 141.87,527.01 141.62,525.99 141.40,524.95 141.27,523.89 141.30,522.80 141.50,521.64 141.85,520.41 142.29,519.18 142.79,518.02 143.30,517.00 143.88,516.11 144.57,515.30 145.27,514.60 145.88,514.02 146.30,513.60" fill="#ec7389" stroke="#1a1a1a" stroke-width="0.95" stroke-linejoin="round"/>
<circle cx="146.55" cy="516.36" r="0.42" fill="#c8102e"/>
<circle cx="145.27" cy="518.40" r="0.42" fill="#c8102e"/>
<circle cx="148.81" cy="518.09" r="0.42" fill="#c8102e"/>
<circle cx="145.02" cy="519.63" r="0.42" fill="#c8102e"/>
<circle cx="142.50" cy="521.47" r="0.42" fill="#c8102e"/>
<circle cx="144.04" cy="521.52" r="0.42" fill="#c8102e"/>
<circle cx="142.16" cy="523.54" r="0.42" fill="#c8102e"/>
<circle cx="144.12" cy="523.18" r="0.42" fill="#c8102e"/>
<circle cx="147.57" cy="523.20" r="0.42" fill="#c8102e"/>
<circle cx="148.79" cy="523.50" r="0.42" fill="#c8102e"/>
<circle cx="144.07" cy="525.25" r="0.42" fill="#c8102e"/>
<circle cx="145.85" cy="524.78" r="0.42" fill="#c8102e"/>
<circle cx="147.67" cy="525.13" r="0.42" fill="#c8102e"/>
<circle cx="148.96" cy="524.75" r="0.42" fill="#c8102e"/>
<circle cx="146.02" cy="526.77" r="0.42" fill="#c8102e"/>
<circle cx="144.64" cy="528.54" r="0.42" fill="#c8102e"/>
<circle cx="143.89" cy="530.00" r="0.42" fill="#c8102e"/>
<circle cx="144.43" cy="531.79" r="0.42" fill="#c8102e"/>
<circle cx="147.39" cy="532.00" r="0.42" fill="#c8102e"/>
<circle cx="145.92" cy="533.56" r="0.42" fill="#c8102e"/>
<circle cx="147.71" cy="533.47" r="0.42" fill="#c8102e"/>
<circle cx="145.88" cy="535.39" r="0.42" fill="#c8102e"/>
<circle cx="143.85" cy="536.83" r="0.42" fill="#c8102e"/>
<circle cx="147.34" cy="537.17" r="0.42" fill="#c8102e"/>
<circle cx="148.72" cy="538.43" r="0.42" fill="#c8102e"/>
<circle cx="142.70" cy="540.15" r="0.42" fill="#c8102e"/>
<circle cx="146.10" cy="540.42" r="0.42" fill="#c8102e"/>
<circle cx="147.75" cy="540.36" r="0.42" fill="#c8102e"/>
<circle cx="148.05" cy="542.13" r="0.42" fill="#c8102e"/>
<circle cx="149.30" cy="542.00" r="0.42" fill="#c8102e"/>
<circle cx="144.26" cy="543.64" r="0.42" fill="#c8102e"/>
<circle cx="146.24" cy="543.92" r="0.42" fill="#c8102e"/>
<circle cx="147.93" cy="543.85" r="0.42" fill="#c8102e"/>
<circle cx="149.78" cy="543.96" r="0.42" fill="#c8102e"/>
<circle cx="144.23" cy="548.76" r="0.42" fill="#c8102e"/>
<line x1="143.30" y1="532.60" x2="149.30" y2="532.60" stroke="#222" stroke-width="0.7" />
<line x1="158.50" y1="524.10" x2="158.50" y2="529.30" stroke="#1a1a1a" stroke-width="1.0" />
<line x1="158.50" y1="552.30" x2="158.50" y2="555.50" stroke="#1a1a1a" stroke-width="1.0" />
<polygon points="158.50,529.30 158.63,529.51 158.82,529.80 159.03,530.14 159.24,530.55 159.40,531.00 159.51,531.52 159.60,532.11 159.67,532.74 159.73,533.38 159.80,534.00 159.85,534.61 159.87,535.22 159.91,535.84 159.97,536.43 160.10,537.00 160.31,537.54 160.58,538.06 160.89,538.56 161.20,539.04 161.50,539.50 161.82,539.93 162.17,540.34 162.50,540.72 162.76,541.11 162.90,541.50 162.87,541.90 162.70,542.30 162.47,542.70 162.24,543.10 162.10,543.50 162.03,543.90 161.99,544.30 161.99,544.70 162.02,545.10 162.10,545.50 162.27,545.90 162.52,546.30 162.80,546.70 163.01,547.10 163.10,547.50 163.04,547.90 162.88,548.30 162.65,548.70 162.38,549.10 162.10,549.50 161.79,549.92 161.44,550.36 161.06,550.79 160.67,551.18 160.30,551.50 159.91,551.75 159.49,551.94 159.09,552.10 158.74,552.21 158.50,552.30 158.50,552.30 158.26,552.21 157.91,552.10 157.51,551.94 157.09,551.75 156.70,551.50 156.33,551.18 155.94,550.79 155.56,550.36 155.21,549.92 154.90,549.50 154.62,549.10 154.35,548.70 154.12,548.30 153.96,547.90 153.90,547.50 153.99,547.10 154.20,546.70 154.48,546.30 154.73,545.90 154.90,545.50 154.98,545.10 155.01,544.70 155.01,544.30 154.97,543.90 154.90,543.50 154.76,543.10 154.53,542.70 154.30,542.30 154.13,541.90 154.10,541.50 154.24,541.11 154.50,540.72 154.83,540.34 155.18,539.93 155.50,539.50 155.80,539.04 156.11,538.56 156.42,538.06 156.69,537.54 156.90,537.00 157.03,536.43 157.09,535.84 157.13,535.22 157.15,534.61 157.20,534.00 157.27,533.38 157.33,532.74 157.40,532.11 157.49,531.52 157.60,531.00 157.76,530.55 157.97,530.14 158.18,529.80 158.37,529.51 158.50,529.30" fill="#a582bf" stroke="#1a1a1a" stroke-width="0.95" stroke-linejoin="round"/>
<circle cx="158.12" cy="535.87" r="0.42" fill="#5b2a7e"/>
<circle cx="156.78" cy="539.08" r="0.42" fill="#5b2a7e"/>
<circle cx="157.18" cy="540.70" r="0.42" fill="#5b2a7e"/>
<circle cx="158.71" cy="540.98" r="0.42" fill="#5b2a7e"/>
<circle cx="157.77" cy="543.96" r="0.42" fill="#5b2a7e"/>
<circle cx="155.80" cy="546.05" r="0.42" fill="#5b2a7e"/>
<circle cx="159.19" cy="545.76" r="0.42" fill="#5b2a7e"/>
<circle cx="154.78" cy="547.59" r="0.42" fill="#5b2a7e"/>
<circle cx="156.66" cy="547.77" r="0.42" fill="#5b2a7e"/>
<circle cx="159.98" cy="547.52" r="0.42" fill="#5b2a7e"/>
<circle cx="161.47" cy="547.28" r="0.42" fill="#5b2a7e"/>
<circle cx="155.63" cy="549.07" r="0.42" fill="#5b2a7e"/>
<circle cx="157.14" cy="549.23" r="0.42" fill="#5b2a7e"/>
<line x1="154.10" y1="541.50" x2="162.90" y2="541.50" stroke="#333" stroke-width="0.55" stroke-dasharray="0.9 0.7"/>
<line x1="153.90" y1="547.50" x2="163.10" y2="547.50" stroke="#333" stroke-width="0.55" stroke-dasharray="0.9 0.7"/>
<ellipse cx="156.87" cy="520.40" rx="1.12" ry="0.95" fill="#262626"/>
<ellipse cx="160.14" cy="520.40" rx="1.12" ry="0.95" fill="#262626"/>
<line x1="178.70" y1="537.30" x2="178.70" y2="540.80" stroke="#1a1a1a" stroke-width="1.0" />
<polygon points="178.70,540.80 178.81,540.88 178.97,540.99 179.15,541.12 179.33,541.29 179.50,541.50 179.63,541.75 179.75,542.04 179.87,542.37 180.01,542.72 180.20,543.10 180.45,543.52 180.74,544.00 181.06,544.49 181.39,544.97 181.70,545.40 182.01,545.78 182.34,546.13 182.66,546.46 182.95,546.78 183.20,547.10 183.43,547.40 183.65,547.69 183.83,547.97 183.93,548.27 183.90,548.60 183.73,548.97 183.44,549.38 183.07,549.80 182.64,550.21 182.20,550.60 181.69,550.98 181.10,551.35 180.49,551.71 179.93,552.04 179.50,552.30 179.21,552.50 179.00,552.65 178.87,552.76 178.78,552.84 178.70,552.90 178.70,552.90 178.62,552.84 178.53,552.76 178.40,552.65 178.19,552.50 177.90,552.30 177.47,552.04 176.91,551.71 176.30,551.35 175.71,550.98 175.20,550.60 174.76,550.21 174.33,549.80 173.96,549.38 173.67,548.97 173.50,548.60 173.47,548.27 173.57,547.97 173.75,547.69 173.97,547.40 174.20,547.10 174.45,546.78 174.74,546.46 175.06,546.13 175.39,545.78 175.70,545.40 176.01,544.97 176.34,544.49 176.66,544.00 176.95,543.52 177.20,543.10 177.39,542.72 177.53,542.37 177.65,542.04 177.77,541.75 177.90,541.50 178.07,541.29 178.25,541.12 178.43,540.99 178.59,540.88 178.70,540.80" fill="#7399c3" stroke="#1a1a1a" stroke-width="0.95" stroke-linejoin="round"/>
<circle cx="178.79" cy="541.98" r="0.42" fill="#1b4f8b"/>
<circle cx="178.25" cy="545.23" r="0.42" fill="#1b4f8b"/>
<circle cx="178.51" cy="547.32" r="0.42" fill="#1b4f8b"/>
<circle cx="180.33" cy="547.09" r="0.42" fill="#1b4f8b"/>
<circle cx="182.29" cy="546.98" r="0.42" fill="#1b4f8b"/>
<circle cx="176.03" cy="549.02" r="0.42" fill="#1b4f8b"/>
<circle cx="179.62" cy="548.76" r="0.42" fill="#1b4f8b"/>
<circle cx="175.92" cy="550.78" r="0.42" fill="#1b4f8b"/>
<circle cx="179.39" cy="550.41" r="0.42" fill="#1b4f8b"/>
<line x1="173.50" y1="548.60" x2="183.90" y2="548.60" stroke="#222" stroke-width="0.7" />
<line x1="191.00" y1="532.10" x2="191.00" y2="535.20" stroke="#1a1a1a" stroke-width="1.0" />
<line x1="191.00" y1="556.30" x2="191.00" y2="559.80" stroke="#1a1a1a" stroke-width="1.0" />
<polygon points="191.00,535.20 191.28,535.21 191.68,535.21 192.14,535.24 192.60,535.35 193.00,535.60 193.36,536.01 193.72,536.56 194.05,537.18 194.32,537.85 194.50,538.50 194.58,539.16 194.59,539.85 194.53,540.55 194.42,541.24 194.30,541.90 194.10,542.51 193.81,543.10 193.51,543.66 193.28,544.23 193.20,544.80 193.31,545.38 193.56,545.96 193.89,546.54 194.22,547.12 194.50,547.70 194.73,548.29 194.95,548.89 195.15,549.48 195.34,550.06 195.50,550.60 195.67,551.10 195.86,551.56 196.00,552.01 196.07,552.45 196.00,552.90 195.78,553.38 195.43,553.88 194.99,554.37 194.50,554.82 194.00,555.20 193.42,555.51 192.73,555.78 192.03,556.00 191.42,556.17 191.00,556.30 191.00,556.30 190.58,556.17 189.97,556.00 189.27,555.78 188.58,555.51 188.00,555.20 187.50,554.82 187.01,554.37 186.57,553.88 186.22,553.38 186.00,552.90 185.93,552.45 186.00,552.01 186.14,551.56 186.33,551.10 186.50,550.60 186.66,550.06 186.85,549.48 187.05,548.89 187.27,548.29 187.50,547.70 187.78,547.12 188.11,546.54 188.44,545.96 188.69,545.38 188.80,544.80 188.72,544.23 188.49,543.66 188.19,543.10 187.90,542.51 187.70,541.90 187.58,541.24 187.47,540.55 187.41,539.85 187.42,539.16 187.50,538.50 187.68,537.85 187.95,537.18 188.28,536.56 188.64,536.01 189.00,535.60 189.40,535.35 189.86,535.24 190.32,535.21 190.72,535.21 191.00,535.20" fill="#8ade94" stroke="#1a1a1a" stroke-width="0.95" stroke-linejoin="round"/>
<circle cx="192.25" cy="541.20" r="0.42" fill="#39b54a"/>
<circle cx="189.32" cy="550.03" r="0.42" fill="#39b54a"/>
<circle cx="192.95" cy="550.21" r="0.42" fill="#39b54a"/>
<circle cx="190.38" cy="551.49" r="0.42" fill="#39b54a"/>
<circle cx="187.49" cy="553.29" r="0.42" fill="#39b54a"/>
<circle cx="193.99" cy="553.65" r="0.42" fill="#39b54a"/>
<circle cx="188.60" cy="555.14" r="0.42" fill="#39b54a"/>
<line x1="187.50" y1="547.70" x2="194.50" y2="547.70" stroke="#222" stroke-width="0.7" />
<line x1="187.43" y1="540.00" x2="194.57" y2="540.00" stroke="#333" stroke-width="0.55" stroke-dasharray="0.9 0.7"/>
<line x1="203.50" y1="537.90" x2="203.50" y2="540.20" stroke="#1a1a1a" stroke-width="1.0" />
<polygon points="203.50,540.20 203.70,540.24 203.97,540.29 204.29,540.36 204.64,540.46 205.00,540.60 205.37,540.79 205.78,541.03 206.20,541.30 206.61,541.59 207.00,541.90 207.40,542.23 207.82,542.59 208.21,542.96 208.52,543.34 208.70,543.70 208.72,544.05 208.61,544.39 208.42,544.72 208.20,545.06 208.00,545.40 207.80,545.74 207.55,546.08 207.31,546.42 207.11,546.76 207.00,547.10 207.04,547.44 207.21,547.78 207.41,548.11 207.54,548.45 207.50,548.80 207.26,549.16 206.88,549.52 206.42,549.88 205.94,550.24 205.50,550.60 205.07,550.97 204.60,551.37 204.16,551.75 203.77,552.07 203.50,552.30 203.50,552.30 203.23,552.07 202.84,551.75 202.40,551.37 201.93,550.97 201.50,550.60 201.06,550.24 200.58,549.88 200.12,549.52 199.74,549.16 199.50,548.80 199.46,548.45 199.59,548.11 199.79,547.78 199.96,547.44 200.00,547.10 199.89,546.76 199.69,546.42 199.45,546.08 199.20,545.74 199.00,545.40 198.80,545.06 198.58,544.72 198.39,544.39 198.28,544.05 198.30,543.70 198.48,543.34 198.79,542.96 199.18,542.59 199.60,542.23 200.00,541.90 200.39,541.59 200.80,541.30 201.22,541.03 201.63,540.79 202.00,540.60 202.36,540.46 202.71,540.36 203.03,540.29 203.30,540.24 203.50,540.20" fill="#ec7389" stroke="#1a1a1a" stroke-width="0.95" stroke-linejoin="round"/>
<circle cx="200.66" cy="546.44" r="0.42" fill="#c8102e"/>
<line x1="198.30" y1="543.70" x2="208.70" y2="543.70" stroke="#333" stroke-width="0.55" stroke-dasharray="0.9 0.7"/>
<line x1="199.50" y1="548.80" x2="207.50" y2="548.80" stroke="#333" stroke-width="0.55" stroke-dasharray="0.9 0.7"/>
<line x1="215.90" y1="542.30" x2="215.90" y2="543.90" stroke="#1a1a1a" stroke-width="1.0" />
<polygon points="215.90,543.90 216.17,543.92 216.56,543.93 217.00,543.96 217.47,544.04 217.90,544.20 218.31,544.48 218.74,544.85 219.16,545.26 219.55,545.66 219.90,546.00 220.24,546.26 220.58,546.47 220.87,546.66 221.06,546.87 221.10,547.10 220.94,547.38 220.62,547.68 220.20,547.99 219.77,548.30 219.40,548.60 219.07,548.87 218.74,549.12 218.42,549.38 218.13,549.66 217.90,550.00 217.73,550.40 217.60,550.86 217.52,551.34 217.45,551.83 217.40,552.30 217.39,552.77 217.44,553.25 217.48,553.72 217.49,554.18 217.40,554.60 217.17,555.01 216.84,555.40 216.46,555.77 216.13,556.08 215.90,556.30 215.90,556.30 215.67,556.08 215.34,555.77 214.96,555.40 214.63,555.01 214.40,554.60 214.31,554.18 214.32,553.72 214.36,553.25 214.41,552.77 214.40,552.30 214.35,551.83 214.28,551.34 214.20,550.86 214.07,550.40 213.90,550.00 213.67,549.66 213.38,549.38 213.06,549.12 212.73,548.87 212.40,548.60 212.03,548.30 211.60,547.99 211.18,547.68 210.86,547.38 210.70,547.10 210.74,546.87 210.93,546.66 211.22,546.47 211.56,546.26 211.90,546.00 212.25,545.66 212.64,545.26 213.06,544.85 213.49,544.48 213.90,544.20 214.33,544.04 214.80,543.96 215.24,543.93 215.63,543.92 215.90,543.90" fill="#a582bf" stroke="#1a1a1a" stroke-width="0.95" stroke-linejoin="round"/>
<circle cx="215.39" cy="545.39" r="0.42" fill="#5b2a7e"/>
<circle cx="213.74" cy="546.91" r="0.42" fill="#5b2a7e"/>
<circle cx="214.85" cy="548.51" r="0.42" fill="#5b2a7e"/>
<circle cx="218.18" cy="548.58" r="0.42" fill="#5b2a7e"/>
<circle cx="215.82" cy="555.47" r="0.42" fill="#5b2a7e"/>
<line x1="210.70" y1="547.10" x2="221.10" y2="547.10" stroke="#333" stroke-width="0.55" stroke-dasharray="0.9 0.7"/>
<ellipse cx="214.27" cy="538.80" rx="1.12" ry="0.95" fill="#262626"/>
<ellipse cx="217.54" cy="538.80" rx="1.12" ry="0.95" fill="#262626"/>
<line x1="327.50" y1="488.70" x2="327.50" y2="563.08" stroke="#111" stroke-width="1.15" />
<line x1="326.93" y1="562.50" x2="501.60" y2="562.50" stroke="#111" stroke-width="1.15" />
<line x1="324.50" y1="492.50" x2="327.50" y2="492.50" stroke="#111" stroke-width="1.15" />
<text x="322.40" y="495.51" font-size="8.6" text-anchor="end" font-weight="normal" fill="#231f20" stroke="#231f20" stroke-width="0.18" textLength="17.22" lengthAdjust="spacingAndGlyphs" >1500</text>
<line x1="324.50" y1="515.50" x2="327.50" y2="515.50" stroke="#111" stroke-width="1.15" />
<text x="322.40" y="518.78" font-size="8.6" text-anchor="end" font-weight="normal" fill="#231f20" stroke="#231f20" stroke-width="0.18" textLength="17.22" lengthAdjust="spacingAndGlyphs" >1000</text>
<line x1="324.50" y1="539.50" x2="327.50" y2="539.50" stroke="#111" stroke-width="1.15" />
<text x="322.40" y="542.04" font-size="8.6" text-anchor="end" font-weight="normal" fill="#231f20" stroke="#231f20" stroke-width="0.18" textLength="12.91" lengthAdjust="spacingAndGlyphs" >500</text>
<line x1="324.50" y1="562.50" x2="327.50" y2="562.50" stroke="#111" stroke-width="1.15" />
<text x="322.40" y="565.31" font-size="8.6" text-anchor="end" font-weight="normal" fill="#231f20" stroke="#231f20" stroke-width="0.18" textLength="4.30" lengthAdjust="spacingAndGlyphs" >0</text>
<text transform="translate(298.30,526.20) rotate(-90)" font-size="8.4" text-anchor="middle" fill="#231f20" stroke="#231f20" stroke-width="0.2" textLength="69.3" lengthAdjust="spacingAndGlyphs">Concentration pg/ml</text>
<line x1="338.92" y1="492.50" x2="375.28" y2="492.50" stroke="#1a1a1a" stroke-width="1.3" />
<polygon points="335.40,492.50 339.80,490.50 339.80,494.50" fill="#1a1a1a"/>
<polygon points="378.80,492.50 374.40,490.50 374.40,494.50" fill="#1a1a1a"/>
<text x="348.80" y="501.50" font-size="7.4" text-anchor="middle" font-weight="normal" fill="#444" stroke="#444" stroke-width="0.18" textLength="21.7" lengthAdjust="spacingAndGlyphs" >MCP-1</text>
<line x1="397.32" y1="538.50" x2="431.08" y2="538.50" stroke="#1a1a1a" stroke-width="1.3" />
<polygon points="393.80,538.50 398.20,536.50 398.20,540.50" fill="#1a1a1a"/>
<polygon points="434.60,538.50 430.20,536.50 430.20,540.50" fill="#1a1a1a"/>
<text x="414.50" y="547.30" font-size="7.4" text-anchor="middle" font-weight="normal" fill="#444" stroke="#444" stroke-width="0.18" textLength="9.3" lengthAdjust="spacingAndGlyphs" >IL6</text>
<line x1="455.92" y1="491.50" x2="490.38" y2="491.50" stroke="#1a1a1a" stroke-width="1.3" />
<polygon points="452.40,491.50 456.80,489.50 456.80,493.50" fill="#1a1a1a"/>
<polygon points="493.90,491.50 489.50,489.50 489.50,493.50" fill="#1a1a1a"/>
<text x="473.20" y="500.70" font-size="7.4" text-anchor="middle" font-weight="normal" fill="#444" stroke="#444" stroke-width="0.18" textLength="12.7" lengthAdjust="spacingAndGlyphs" >IL-8</text>
<line x1="338.10" y1="514.60" x2="338.10" y2="517.00" stroke="#1a1a1a" stroke-width="1.0" />
<line x1="338.10" y1="539.10" x2="338.10" y2="542.40" stroke="#1a1a1a" stroke-width="1.0" />
<polygon points="338.10,517.00 338.30,517.14 338.59,517.33 338.93,517.56 339.28,517.85 339.60,518.20 339.92,518.62 340.25,519.11 340.57,519.64 340.86,520.21 341.10,520.80 341.29,521.42 341.44,522.07 341.56,522.75 341.61,523.43 341.60,524.10 341.45,524.76 341.16,525.42 340.86,526.09 340.63,526.75 340.60,527.40 340.83,528.06 341.26,528.72 341.76,529.37 342.25,530.00 342.60,530.60 342.83,531.15 343.00,531.65 343.12,532.14 343.15,532.64 343.10,533.20 342.96,533.83 342.74,534.50 342.44,535.20 342.06,535.87 341.60,536.50 340.97,537.11 340.18,537.72 339.34,538.28 338.61,538.76 338.10,539.10 338.10,539.10 337.59,538.76 336.86,538.28 336.02,537.72 335.23,537.11 334.60,536.50 334.14,535.87 333.76,535.20 333.46,534.50 333.24,533.83 333.10,533.20 333.05,532.64 333.08,532.14 333.20,531.65 333.37,531.15 333.60,530.60 333.95,530.00 334.44,529.37 334.94,528.72 335.37,528.06 335.60,527.40 335.57,526.75 335.34,526.09 335.04,525.42 334.75,524.76 334.60,524.10 334.59,523.43 334.64,522.75 334.76,522.07 334.91,521.42 335.10,520.80 335.34,520.21 335.63,519.64 335.95,519.11 336.28,518.62 336.60,518.20 336.92,517.85 337.27,517.56 337.61,517.33 337.90,517.14 338.10,517.00" fill="#7399c3" stroke="#1a1a1a" stroke-width="0.95" stroke-linejoin="round"/>
<circle cx="337.71" cy="517.90" r="0.42" fill="#1b4f8b"/>
<circle cx="336.70" cy="519.95" r="0.42" fill="#1b4f8b"/>
<circle cx="335.87" cy="521.63" r="0.42" fill="#1b4f8b"/>
<circle cx="337.66" cy="521.62" r="0.42" fill="#1b4f8b"/>
<circle cx="338.79" cy="523.46" r="0.42" fill="#1b4f8b"/>
<circle cx="335.61" cy="524.80" r="0.42" fill="#1b4f8b"/>
<circle cx="335.85" cy="528.56" r="0.42" fill="#1b4f8b"/>
<circle cx="337.98" cy="528.31" r="0.42" fill="#1b4f8b"/>
<circle cx="339.41" cy="528.16" r="0.42" fill="#1b4f8b"/>
<circle cx="336.10" cy="531.85" r="0.42" fill="#1b4f8b"/>
<circle cx="333.89" cy="533.76" r="0.42" fill="#1b4f8b"/>
<circle cx="337.81" cy="533.69" r="0.42" fill="#1b4f8b"/>
<circle cx="339.33" cy="533.78" r="0.42" fill="#1b4f8b"/>
<circle cx="336.40" cy="535.33" r="0.42" fill="#1b4f8b"/>
<circle cx="338.05" cy="535.43" r="0.42" fill="#1b4f8b"/>
<circle cx="337.52" cy="536.82" r="0.42" fill="#1b4f8b"/>
<circle cx="339.70" cy="536.77" r="0.42" fill="#1b4f8b"/>
<line x1="333.32" y1="531.30" x2="342.88" y2="531.30" stroke="#222" stroke-width="0.7" />
<line x1="350.60" y1="513.90" x2="350.60" y2="516.50" stroke="#1a1a1a" stroke-width="1.0" />
<line x1="350.60" y1="547.70" x2="350.60" y2="552.30" stroke="#1a1a1a" stroke-width="1.0" />
<polygon points="350.60,516.50 350.71,516.59 350.86,516.68 351.04,516.84 351.29,517.09 351.60,517.50 352.04,518.12 352.60,518.92 353.19,519.81 353.72,520.70 354.10,521.50 354.33,522.18 354.46,522.80 354.50,523.40 354.48,524.02 354.40,524.70 354.19,525.46 353.84,526.28 353.46,527.11 353.17,527.93 353.10,528.70 353.31,529.42 353.73,530.10 354.25,530.76 354.74,531.40 355.10,532.00 355.32,532.54 355.48,533.03 355.58,533.50 355.62,534.01 355.60,534.60 355.50,535.28 355.33,536.00 355.11,536.78 354.86,537.62 354.60,538.50 354.35,539.48 354.08,540.54 353.80,541.64 353.47,542.72 353.10,543.70 352.62,544.64 352.05,545.58 351.47,546.45 350.96,547.18 350.60,547.70 350.60,547.70 350.24,547.18 349.73,546.45 349.15,545.58 348.58,544.64 348.10,543.70 347.73,542.72 347.40,541.64 347.12,540.54 346.85,539.48 346.60,538.50 346.34,537.62 346.09,536.78 345.87,536.00 345.70,535.28 345.60,534.60 345.58,534.01 345.62,533.50 345.72,533.03 345.88,532.54 346.10,532.00 346.46,531.40 346.95,530.76 347.47,530.10 347.89,529.42 348.10,528.70 348.03,527.93 347.74,527.11 347.36,526.28 347.01,525.46 346.80,524.70 346.72,524.02 346.70,523.40 346.74,522.80 346.87,522.18 347.10,521.50 347.48,520.70 348.01,519.81 348.60,518.92 349.16,518.12 349.60,517.50 349.91,517.09 350.16,516.84 350.34,516.68 350.49,516.59 350.60,516.50" fill="#8ade94" stroke="#1a1a1a" stroke-width="0.95" stroke-linejoin="round"/>
<circle cx="349.31" cy="519.33" r="0.42" fill="#39b54a"/>
<circle cx="348.07" cy="521.30" r="0.42" fill="#39b54a"/>
<circle cx="351.51" cy="520.97" r="0.42" fill="#39b54a"/>
<circle cx="347.47" cy="522.90" r="0.42" fill="#39b54a"/>
<circle cx="351.27" cy="522.56" r="0.42" fill="#39b54a"/>
<circle cx="353.05" cy="522.58" r="0.42" fill="#39b54a"/>
<circle cx="352.79" cy="524.63" r="0.42" fill="#39b54a"/>
<circle cx="352.00" cy="526.20" r="0.42" fill="#39b54a"/>
<circle cx="348.99" cy="527.68" r="0.42" fill="#39b54a"/>
<circle cx="349.01" cy="529.65" r="0.42" fill="#39b54a"/>
<circle cx="352.24" cy="529.43" r="0.42" fill="#39b54a"/>
<circle cx="349.24" cy="531.33" r="0.42" fill="#39b54a"/>
<circle cx="351.09" cy="531.23" r="0.42" fill="#39b54a"/>
<circle cx="348.36" cy="532.75" r="0.42" fill="#39b54a"/>
<circle cx="350.34" cy="532.89" r="0.42" fill="#39b54a"/>
<circle cx="353.57" cy="532.92" r="0.42" fill="#39b54a"/>
<circle cx="348.05" cy="534.59" r="0.42" fill="#39b54a"/>
<circle cx="349.79" cy="534.83" r="0.42" fill="#39b54a"/>
<circle cx="351.66" cy="534.95" r="0.42" fill="#39b54a"/>
<circle cx="350.25" cy="536.12" r="0.42" fill="#39b54a"/>
<circle cx="348.14" cy="539.71" r="0.42" fill="#39b54a"/>
<circle cx="351.10" cy="540.05" r="0.42" fill="#39b54a"/>
<circle cx="349.79" cy="541.30" r="0.42" fill="#39b54a"/>
<circle cx="351.65" cy="541.43" r="0.42" fill="#39b54a"/>
<circle cx="348.80" cy="543.28" r="0.42" fill="#39b54a"/>
<circle cx="350.81" cy="543.24" r="0.42" fill="#39b54a"/>
<circle cx="351.40" cy="545.01" r="0.42" fill="#39b54a"/>
<line x1="345.68" y1="533.20" x2="355.52" y2="533.20" stroke="#222" stroke-width="0.7" />
<line x1="363.30" y1="497.90" x2="363.30" y2="501.50" stroke="#1a1a1a" stroke-width="1.0" />
<line x1="363.30" y1="547.00" x2="363.30" y2="554.90" stroke="#1a1a1a" stroke-width="1.0" />
<polygon points="363.30,501.50 363.36,501.66 363.43,501.85 363.54,502.12 363.69,502.52 363.90,503.10 364.22,503.91 364.62,504.92 365.06,506.04 365.48,507.20 365.80,508.30 366.04,509.38 366.23,510.48 366.38,511.58 366.47,512.63 366.50,513.60 366.42,514.45 366.24,515.19 366.02,515.91 365.85,516.65 365.80,517.50 365.88,518.45 366.05,519.46 366.28,520.53 366.54,521.64 366.80,522.80 367.10,524.04 367.46,525.37 367.82,526.73 368.12,528.06 368.30,529.30 368.34,530.44 368.29,531.51 368.17,532.54 368.00,533.57 367.80,534.60 367.57,535.65 367.30,536.69 366.98,537.72 366.65,538.76 366.30,539.80 365.92,540.89 365.49,542.03 365.05,543.15 364.64,544.16 364.30,545.00 364.02,545.64 363.78,546.13 363.58,546.50 363.42,546.78 363.30,547.00 363.30,547.00 363.18,546.78 363.02,546.50 362.82,546.13 362.58,545.64 362.30,545.00 361.96,544.16 361.55,543.15 361.11,542.03 360.68,540.89 360.30,539.80 359.95,538.76 359.62,537.72 359.30,536.69 359.03,535.65 358.80,534.60 358.60,533.57 358.43,532.54 358.31,531.51 358.26,530.44 358.30,529.30 358.48,528.06 358.78,526.73 359.14,525.37 359.50,524.04 359.80,522.80 360.06,521.64 360.32,520.53 360.55,519.46 360.72,518.45 360.80,517.50 360.75,516.65 360.58,515.91 360.36,515.19 360.18,514.45 360.10,513.60 360.13,512.63 360.22,511.58 360.37,510.48 360.56,509.38 360.80,508.30 361.12,507.20 361.54,506.04 361.98,504.92 362.38,503.91 362.70,503.10 362.91,502.52 363.06,502.12 363.17,501.85 363.24,501.66 363.30,501.50" fill="#ec7389" stroke="#1a1a1a" stroke-width="0.95" stroke-linejoin="round"/>
<circle cx="362.72" cy="506.27" r="0.42" fill="#c8102e"/>
<circle cx="361.67" cy="508.01" r="0.42" fill="#c8102e"/>
<circle cx="361.39" cy="509.27" r="0.42" fill="#c8102e"/>
<circle cx="365.19" cy="509.65" r="0.42" fill="#c8102e"/>
<circle cx="361.39" cy="511.14" r="0.42" fill="#c8102e"/>
<circle cx="360.88" cy="513.17" r="0.42" fill="#c8102e"/>
<circle cx="361.88" cy="517.96" r="0.42" fill="#c8102e"/>
<circle cx="363.35" cy="519.43" r="0.42" fill="#c8102e"/>
<circle cx="362.84" cy="521.68" r="0.42" fill="#c8102e"/>
<circle cx="362.16" cy="523.01" r="0.42" fill="#c8102e"/>
<circle cx="365.71" cy="522.88" r="0.42" fill="#c8102e"/>
<circle cx="363.54" cy="524.81" r="0.42" fill="#c8102e"/>
<circle cx="363.47" cy="526.29" r="0.42" fill="#c8102e"/>
<circle cx="364.66" cy="528.26" r="0.42" fill="#c8102e"/>
<circle cx="362.55" cy="529.82" r="0.42" fill="#c8102e"/>
<circle cx="364.11" cy="529.77" r="0.42" fill="#c8102e"/>
<circle cx="366.20" cy="529.87" r="0.42" fill="#c8102e"/>
<circle cx="359.21" cy="531.58" r="0.42" fill="#c8102e"/>
<circle cx="362.46" cy="531.31" r="0.42" fill="#c8102e"/>
<circle cx="359.69" cy="533.59" r="0.42" fill="#c8102e"/>
<circle cx="362.95" cy="533.26" r="0.42" fill="#c8102e"/>
<circle cx="364.69" cy="533.00" r="0.42" fill="#c8102e"/>
<circle cx="366.53" cy="534.78" r="0.42" fill="#c8102e"/>
<circle cx="360.47" cy="536.90" r="0.42" fill="#c8102e"/>
<circle cx="361.82" cy="536.78" r="0.42" fill="#c8102e"/>
<circle cx="361.01" cy="538.60" r="0.42" fill="#c8102e"/>
<circle cx="364.05" cy="538.60" r="0.42" fill="#c8102e"/>
<circle cx="361.33" cy="540.13" r="0.42" fill="#c8102e"/>
<circle cx="361.75" cy="541.84" r="0.42" fill="#c8102e"/>
<line x1="358.30" y1="529.30" x2="368.30" y2="529.30" stroke="#222" stroke-width="0.7" />
<line x1="375.50" y1="507.70" x2="375.50" y2="520.50" stroke="#1a1a1a" stroke-width="1.0" />
<line x1="375.50" y1="545.00" x2="375.50" y2="549.00" stroke="#1a1a1a" stroke-width="1.0" />
<polygon points="375.50,520.50 375.77,520.69 376.16,520.94 376.60,521.26 377.07,521.65 377.50,522.10 377.92,522.64 378.35,523.27 378.77,523.96 379.16,524.67 379.50,525.40 379.80,526.16 380.09,526.98 380.33,527.80 380.48,528.59 380.50,529.30 380.32,529.89 379.95,530.40 379.52,530.87 379.16,531.36 379.00,531.90 379.13,532.49 379.47,533.11 379.87,533.75 380.19,534.45 380.30,535.20 380.14,536.05 379.81,536.98 379.38,537.95 378.92,538.90 378.50,539.80 378.10,540.67 377.67,541.54 377.24,542.36 376.84,543.10 376.50,543.70 376.22,544.15 375.98,544.47 375.78,544.70 375.62,544.86 375.50,545.00 375.50,545.00 375.38,544.86 375.22,544.70 375.02,544.47 374.78,544.15 374.50,543.70 374.16,543.10 373.76,542.36 373.33,541.54 372.90,540.67 372.50,539.80 372.08,538.90 371.62,537.95 371.19,536.98 370.86,536.05 370.70,535.20 370.81,534.45 371.13,533.75 371.53,533.11 371.87,532.49 372.00,531.90 371.84,531.36 371.48,530.87 371.05,530.40 370.68,529.89 370.50,529.30 370.52,528.59 370.67,527.80 370.91,526.98 371.20,526.16 371.50,525.40 371.84,524.67 372.23,523.96 372.65,523.27 373.08,522.64 373.50,522.10 373.93,521.65 374.40,521.26 374.84,520.94 375.23,520.69 375.50,520.50" fill="#a582bf" stroke="#1a1a1a" stroke-width="0.95" stroke-linejoin="round"/>
<circle cx="374.22" cy="525.15" r="0.42" fill="#5b2a7e"/>
<circle cx="376.15" cy="524.90" r="0.42" fill="#5b2a7e"/>
<circle cx="373.40" cy="526.76" r="0.42" fill="#5b2a7e"/>
<circle cx="375.50" cy="526.50" r="0.42" fill="#5b2a7e"/>
<circle cx="375.04" cy="528.51" r="0.42" fill="#5b2a7e"/>
<circle cx="378.59" cy="530.17" r="0.42" fill="#5b2a7e"/>
<circle cx="376.15" cy="531.79" r="0.42" fill="#5b2a7e"/>
<circle cx="378.62" cy="535.37" r="0.42" fill="#5b2a7e"/>
<circle cx="372.24" cy="537.27" r="0.42" fill="#5b2a7e"/>
<circle cx="377.20" cy="537.23" r="0.42" fill="#5b2a7e"/>
<circle cx="372.79" cy="538.81" r="0.42" fill="#5b2a7e"/>
<circle cx="376.48" cy="538.62" r="0.42" fill="#5b2a7e"/>
<line x1="370.50" y1="529.30" x2="380.50" y2="529.30" stroke="#333" stroke-width="0.55" stroke-dasharray="0.9 0.7"/>
<line x1="370.70" y1="535.20" x2="380.30" y2="535.20" stroke="#333" stroke-width="0.55" stroke-dasharray="0.9 0.7"/>
<ellipse cx="375.5" cy="514.2" rx="1.2" ry="2.0" fill="#a582bf" stroke="#1a1a1a" stroke-width="0.6"/>
<polygon points="395.40,549.60 395.75,549.85 396.24,550.20 396.81,550.62 397.39,551.06 397.90,551.50 398.40,551.94 398.92,552.40 399.41,552.87 399.79,553.34 400.00,553.80 399.99,554.25 399.81,554.70 399.52,555.14 399.20,555.57 398.90,556.00 398.63,556.41 398.35,556.81 398.06,557.21 397.74,557.60 397.40,558.00 397.00,558.43 396.54,558.90 396.08,559.34 395.68,559.73 395.40,560.00 395.40,560.00 395.12,559.73 394.72,559.34 394.26,558.90 393.80,558.43 393.40,558.00 393.06,557.60 392.74,557.21 392.45,556.81 392.17,556.41 391.90,556.00 391.60,555.57 391.28,555.14 390.99,554.70 390.81,554.25 390.80,553.80 391.01,553.34 391.39,552.87 391.88,552.40 392.40,551.94 392.90,551.50 393.41,551.06 393.99,550.62 394.56,550.20 395.05,549.85 395.40,549.60" fill="#7399c3" stroke="#1a1a1a" stroke-width="0.95" stroke-linejoin="round"/>
<circle cx="394.57" cy="551.03" r="0.42" fill="#1b4f8b"/>
<circle cx="394.69" cy="552.35" r="0.42" fill="#1b4f8b"/>
<circle cx="396.19" cy="552.35" r="0.42" fill="#1b4f8b"/>
<circle cx="393.55" cy="553.97" r="0.42" fill="#1b4f8b"/>
<circle cx="398.55" cy="553.94" r="0.42" fill="#1b4f8b"/>
<circle cx="396.05" cy="557.73" r="0.42" fill="#1b4f8b"/>
<polygon points="407.60,549.60 407.81,549.92 408.11,550.38 408.46,550.92 408.80,551.48 409.10,552.00 409.33,552.50 409.53,553.02 409.71,553.53 409.93,554.03 410.20,554.50 410.60,554.93 411.11,555.34 411.62,555.72 412.02,556.11 412.20,556.50 412.13,556.91 411.89,557.32 411.51,557.74 411.07,558.13 410.60,558.50 410.04,558.86 409.36,559.21 408.65,559.53 408.03,559.80 407.60,560.00 407.60,560.00 407.17,559.80 406.55,559.53 405.84,559.21 405.16,558.86 404.60,558.50 404.13,558.13 403.69,557.74 403.31,557.32 403.07,556.91 403.00,556.50 403.18,556.11 403.58,555.72 404.09,555.34 404.60,554.93 405.00,554.50 405.27,554.03 405.49,553.53 405.67,553.02 405.87,552.50 406.10,552.00 406.40,551.48 406.74,550.92 407.09,550.38 407.39,549.92 407.60,549.60" fill="#8ade94" stroke="#1a1a1a" stroke-width="0.95" stroke-linejoin="round"/>
<circle cx="407.07" cy="552.44" r="0.42" fill="#39b54a"/>
<circle cx="406.45" cy="554.24" r="0.42" fill="#39b54a"/>
<circle cx="404.57" cy="555.63" r="0.42" fill="#39b54a"/>
<circle cx="406.02" cy="555.61" r="0.42" fill="#39b54a"/>
<circle cx="409.38" cy="556.02" r="0.42" fill="#39b54a"/>
<polygon points="420.10,549.60 420.36,549.86 420.73,550.22 421.16,550.64 421.63,551.08 422.10,551.50 422.64,551.89 423.27,552.29 423.90,552.70 424.41,553.10 424.70,553.50 424.69,553.90 424.45,554.30 424.10,554.70 423.78,555.10 423.60,555.50 423.67,555.90 423.90,556.30 424.15,556.70 424.26,557.10 424.10,557.50 423.52,557.93 422.63,558.40 421.63,558.84 420.72,559.23 420.10,559.50 420.10,559.50 419.48,559.23 418.57,558.84 417.57,558.40 416.68,557.93 416.10,557.50 415.94,557.10 416.05,556.70 416.30,556.30 416.53,555.90 416.60,555.50 416.42,555.10 416.10,554.70 415.75,554.30 415.51,553.90 415.50,553.50 415.79,553.10 416.30,552.70 416.93,552.29 417.56,551.89 418.10,551.50 418.57,551.08 419.04,550.64 419.47,550.22 419.84,549.86 420.10,549.60" fill="#ec7389" stroke="#1a1a1a" stroke-width="0.95" stroke-linejoin="round"/>
<circle cx="421.15" cy="552.40" r="0.42" fill="#c8102e"/>
<circle cx="421.71" cy="554.34" r="0.42" fill="#c8102e"/>
<circle cx="419.29" cy="555.66" r="0.42" fill="#c8102e"/>
<circle cx="417.49" cy="557.71" r="0.42" fill="#c8102e"/>
<circle cx="418.75" cy="557.57" r="0.42" fill="#c8102e"/>
<line x1="432.80" y1="544.50" x2="432.80" y2="550.50" stroke="#1a1a1a" stroke-width="1.0" />
<polygon points="432.80,550.50 433.23,550.77 433.85,551.16 434.56,551.60 435.24,552.07 435.80,552.50 436.25,552.89 436.68,553.28 437.03,553.66 437.28,554.07 437.40,554.50 437.33,554.98 437.11,555.49 436.79,556.01 436.47,556.52 436.20,557.00 436.03,557.44 435.90,557.86 435.76,558.26 435.58,558.64 435.30,559.00 434.86,559.36 434.30,559.71 433.70,560.03 433.17,560.30 432.80,560.50 432.80,560.50 432.43,560.30 431.90,560.03 431.30,559.71 430.74,559.36 430.30,559.00 430.02,558.64 429.84,558.26 429.70,557.86 429.57,557.44 429.40,557.00 429.13,556.52 428.81,556.01 428.49,555.49 428.27,554.98 428.20,554.50 428.32,554.07 428.57,553.66 428.92,553.28 429.35,552.89 429.80,552.50 430.36,552.07 431.04,551.60 431.75,551.16 432.37,550.77 432.80,550.50" fill="#a582bf" stroke="#1a1a1a" stroke-width="0.95" stroke-linejoin="round"/>
<circle cx="431.61" cy="551.47" r="0.42" fill="#5b2a7e"/>
<circle cx="429.84" cy="553.27" r="0.42" fill="#5b2a7e"/>
<circle cx="435.14" cy="553.42" r="0.42" fill="#5b2a7e"/>
<circle cx="434.33" cy="554.89" r="0.42" fill="#5b2a7e"/>
<circle cx="433.50" cy="556.99" r="0.42" fill="#5b2a7e"/>
<circle cx="432.80" cy="547.50" r="0.8" fill="#5b2a7e"/>
<line x1="452.60" y1="524.70" x2="452.60" y2="530.00" stroke="#1a1a1a" stroke-width="1.0" />
<line x1="452.60" y1="556.50" x2="452.60" y2="558.40" stroke="#1a1a1a" stroke-width="1.0" />
<polygon points="452.60,530.00 452.75,530.12 452.96,530.28 453.20,530.48 453.43,530.72 453.60,531.00 453.71,531.33 453.79,531.70 453.84,532.12 453.88,532.55 453.90,533.00 453.90,533.47 453.87,533.96 453.83,534.48 453.80,534.99 453.80,535.50 453.82,536.01 453.86,536.52 453.91,537.04 453.99,537.53 454.10,538.00 454.25,538.43 454.43,538.84 454.63,539.22 454.86,539.61 455.10,540.00 455.37,540.39 455.67,540.78 455.98,541.16 456.30,541.57 456.60,542.00 456.90,542.48 457.22,543.00 457.52,543.53 457.79,544.04 458.00,544.50 458.16,544.88 458.28,545.21 458.36,545.52 458.40,545.83 458.40,546.20 458.36,546.62 458.27,547.07 458.15,547.54 457.99,548.02 457.80,548.50 457.57,548.99 457.31,549.49 457.01,549.99 456.71,550.50 456.40,551.00 456.10,551.49 455.80,551.98 455.49,552.46 455.16,552.97 454.80,553.50 454.36,554.12 453.86,554.81 453.35,555.49 452.91,556.08 452.60,556.50 452.60,556.50 452.29,556.08 451.85,555.49 451.34,554.81 450.84,554.12 450.40,553.50 450.04,552.97 449.71,552.46 449.40,551.98 449.10,551.49 448.80,551.00 448.49,550.50 448.19,549.99 447.89,549.49 447.63,548.99 447.40,548.50 447.21,548.02 447.05,547.54 446.93,547.07 446.84,546.62 446.80,546.20 446.80,545.83 446.84,545.52 446.92,545.21 447.04,544.88 447.20,544.50 447.41,544.04 447.68,543.53 447.98,543.00 448.30,542.48 448.60,542.00 448.90,541.57 449.22,541.16 449.53,540.78 449.83,540.39 450.10,540.00 450.34,539.61 450.57,539.22 450.77,538.84 450.95,538.43 451.10,538.00 451.21,537.53 451.29,537.04 451.34,536.52 451.38,536.01 451.40,535.50 451.40,534.99 451.37,534.48 451.33,533.96 451.30,533.47 451.30,533.00 451.32,532.55 451.36,532.12 451.41,531.70 451.49,531.33 451.60,531.00 451.77,530.72 452.00,530.48 452.24,530.28 452.45,530.12 452.60,530.00" fill="#7399c3" stroke="#1a1a1a" stroke-width="0.95" stroke-linejoin="round"/>
<circle cx="452.74" cy="531.14" r="0.42" fill="#1b4f8b"/>
<circle cx="452.25" cy="536.13" r="0.42" fill="#1b4f8b"/>
<circle cx="452.79" cy="539.62" r="0.42" fill="#1b4f8b"/>
<circle cx="448.98" cy="543.00" r="0.42" fill="#1b4f8b"/>
<circle cx="450.61" cy="543.39" r="0.42" fill="#1b4f8b"/>
<circle cx="452.12" cy="543.20" r="0.42" fill="#1b4f8b"/>
<circle cx="453.89" cy="543.10" r="0.42" fill="#1b4f8b"/>
<circle cx="455.77" cy="543.12" r="0.42" fill="#1b4f8b"/>
<circle cx="451.51" cy="544.96" r="0.42" fill="#1b4f8b"/>
<circle cx="451.41" cy="546.72" r="0.42" fill="#1b4f8b"/>
<circle cx="456.49" cy="546.64" r="0.42" fill="#1b4f8b"/>
<circle cx="456.69" cy="548.09" r="0.42" fill="#1b4f8b"/>
<circle cx="454.08" cy="549.81" r="0.42" fill="#1b4f8b"/>
<circle cx="455.64" cy="550.12" r="0.42" fill="#1b4f8b"/>
<circle cx="451.07" cy="553.04" r="0.42" fill="#1b4f8b"/>
<circle cx="452.85" cy="553.44" r="0.42" fill="#1b4f8b"/>
<line x1="446.80" y1="546.20" x2="458.40" y2="546.20" stroke="#333" stroke-width="0.55" stroke-dasharray="0.9 0.7"/>
<line x1="465.30" y1="529.30" x2="465.30" y2="532.50" stroke="#1a1a1a" stroke-width="1.0" />
<line x1="465.30" y1="554.20" x2="465.30" y2="556.50" stroke="#1a1a1a" stroke-width="1.0" />
<polygon points="465.30,532.50 465.51,532.79 465.82,533.20 466.16,533.67 466.45,534.16 466.60,534.60 466.55,534.98 466.36,535.32 466.12,535.67 465.94,536.05 465.90,536.50 466.04,537.02 466.30,537.60 466.62,538.21 466.97,538.85 467.30,539.50 467.61,540.16 467.93,540.85 468.26,541.55 468.58,542.27 468.90,543.00 469.25,543.74 469.63,544.50 469.99,545.27 470.27,546.04 470.40,546.80 470.39,547.55 470.29,548.29 470.07,549.02 469.75,549.76 469.30,550.50 468.62,551.30 467.72,552.16 466.75,552.99 465.89,553.70 465.30,554.20 465.30,554.20 464.71,553.70 463.85,552.99 462.88,552.16 461.98,551.30 461.30,550.50 460.85,549.76 460.53,549.02 460.31,548.29 460.21,547.55 460.20,546.80 460.33,546.04 460.61,545.27 460.97,544.50 461.35,543.74 461.70,543.00 462.02,542.27 462.34,541.55 462.67,540.85 462.99,540.16 463.30,539.50 463.63,538.85 463.98,538.21 464.30,537.60 464.56,537.02 464.70,536.50 464.66,536.05 464.48,535.67 464.24,535.32 464.05,534.98 464.00,534.60 464.15,534.16 464.44,533.67 464.78,533.20 465.09,532.79 465.30,532.50" fill="#8ade94" stroke="#1a1a1a" stroke-width="0.95" stroke-linejoin="round"/>
<circle cx="462.86" cy="542.25" r="0.42" fill="#39b54a"/>
<circle cx="467.36" cy="544.14" r="0.42" fill="#39b54a"/>
<circle cx="461.35" cy="545.31" r="0.42" fill="#39b54a"/>
<circle cx="463.05" cy="545.72" r="0.42" fill="#39b54a"/>
<circle cx="464.83" cy="545.42" r="0.42" fill="#39b54a"/>
<circle cx="463.05" cy="547.58" r="0.42" fill="#39b54a"/>
<circle cx="466.49" cy="547.53" r="0.42" fill="#39b54a"/>
<circle cx="461.33" cy="549.02" r="0.42" fill="#39b54a"/>
<circle cx="468.22" cy="549.15" r="0.42" fill="#39b54a"/>
<circle cx="464.11" cy="552.13" r="0.42" fill="#39b54a"/>
<line x1="460.20" y1="546.80" x2="470.40" y2="546.80" stroke="#222" stroke-width="0.7" />
<line x1="477.80" y1="506.20" x2="477.80" y2="539.20" stroke="#1a1a1a" stroke-width="1.0" />
<line x1="477.80" y1="550.80" x2="477.80" y2="552.50" stroke="#1a1a1a" stroke-width="1.0" />
<polygon points="477.80,539.20 478.16,539.42 478.66,539.71 479.24,540.07 479.84,540.50 480.40,541.00 480.96,541.60 481.57,542.30 482.15,543.05 482.62,543.80 482.90,544.50 482.99,545.13 482.94,545.72 482.76,546.30 482.45,546.89 482.00,547.50 481.30,548.19 480.36,548.96 479.34,549.70 478.42,550.35 477.80,550.80 477.80,550.80 477.18,550.35 476.26,549.70 475.24,548.96 474.30,548.19 473.60,547.50 473.15,546.89 472.84,546.30 472.66,545.72 472.61,545.13 472.70,544.50 472.98,543.80 473.45,543.05 474.03,542.30 474.64,541.60 475.20,541.00 475.76,540.50 476.36,540.07 476.94,539.71 477.44,539.42 477.80,539.20" fill="#ec7389" stroke="#1a1a1a" stroke-width="0.95" stroke-linejoin="round"/>
<circle cx="476.88" cy="541.81" r="0.42" fill="#c8102e"/>
<circle cx="475.75" cy="543.93" r="0.42" fill="#c8102e"/>
<circle cx="477.14" cy="543.59" r="0.42" fill="#c8102e"/>
<circle cx="479.24" cy="543.55" r="0.42" fill="#c8102e"/>
<circle cx="479.61" cy="547.36" r="0.42" fill="#c8102e"/>
<circle cx="476.34" cy="549.19" r="0.42" fill="#c8102e"/>
<ellipse cx="477.8" cy="509.4" rx="1.1" ry="1.3" fill="#e47b91" stroke="#222" stroke-width="0.5"/>
<ellipse cx="477.8" cy="520.8" rx="1.1" ry="1.8" fill="#e47b91" stroke="#222" stroke-width="0.5"/>
<line x1="490.00" y1="534.60" x2="490.00" y2="542.70" stroke="#1a1a1a" stroke-width="1.0" />
<line x1="490.00" y1="553.10" x2="490.00" y2="555.00" stroke="#1a1a1a" stroke-width="1.0" />
<polygon points="490.00,542.70 490.36,542.93 490.86,543.24 491.44,543.62 492.04,544.05 492.60,544.50 493.18,544.99 493.83,545.53 494.44,546.10 494.90,546.70 495.10,547.30 494.99,547.92 494.63,548.58 494.13,549.24 493.55,549.89 493.00,550.50 492.41,551.10 491.72,551.71 491.03,552.28 490.42,552.76 490.00,553.10 490.00,553.10 489.58,552.76 488.97,552.28 488.28,551.71 487.59,551.10 487.00,550.50 486.45,549.89 485.87,549.24 485.37,548.58 485.01,547.92 484.90,547.30 485.10,546.70 485.56,546.10 486.17,545.53 486.82,544.99 487.40,544.50 487.96,544.05 488.56,543.62 489.14,543.24 489.64,542.93 490.00,542.70" fill="#a582bf" stroke="#1a1a1a" stroke-width="0.95" stroke-linejoin="round"/>
<circle cx="489.18" cy="544.16" r="0.42" fill="#5b2a7e"/>
<circle cx="486.80" cy="545.59" r="0.42" fill="#5b2a7e"/>
<circle cx="487.75" cy="547.05" r="0.42" fill="#5b2a7e"/>
<circle cx="489.08" cy="547.04" r="0.42" fill="#5b2a7e"/>
<circle cx="486.95" cy="548.92" r="0.42" fill="#5b2a7e"/>
<circle cx="488.19" cy="549.14" r="0.42" fill="#5b2a7e"/>
<circle cx="491.50" cy="549.17" r="0.42" fill="#5b2a7e"/>
<circle cx="488.49" cy="550.70" r="0.42" fill="#5b2a7e"/>
<circle cx="490.00" cy="538.10" r="0.9" fill="#5b2a7e"/>
<ellipse cx="488.37" cy="528.80" rx="1.12" ry="0.95" fill="#262626"/>
<ellipse cx="491.63" cy="528.80" rx="1.12" ry="0.95" fill="#262626"/>
<rect x="0.6" y="0.6" width="518.8" height="570.8" fill="none" stroke="#000" stroke-width="1.3"/>
</svg>
</body></html>
